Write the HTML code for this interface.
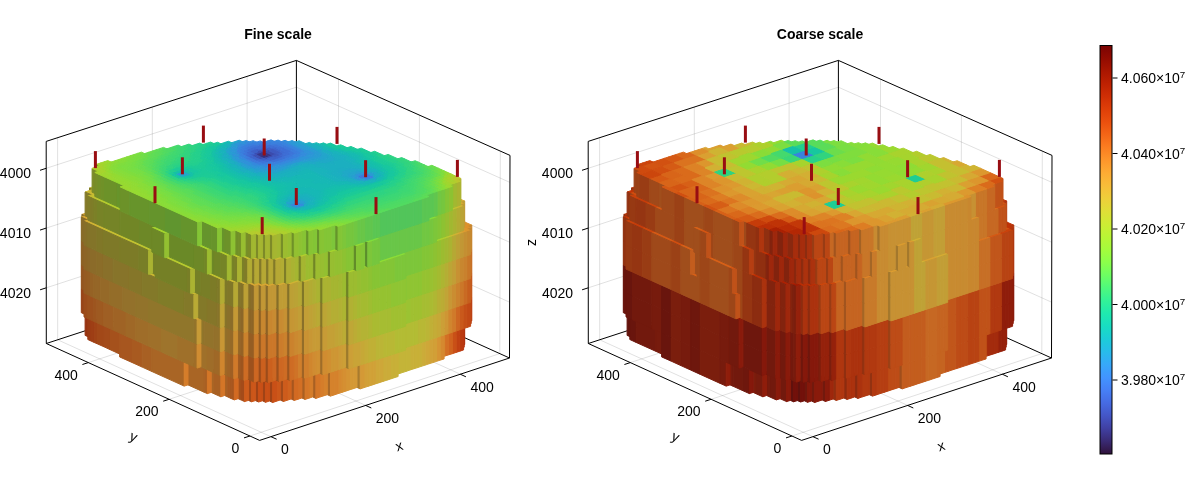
<!DOCTYPE html>
<html><head><meta charset="utf-8"><title>Fine scale / Coarse scale</title>
<style>html,body{margin:0;padding:0;background:#fff}svg{display:block}</style></head>
<body>
<svg width="1200" height="500" viewBox="0 0 1200 500" font-family="&quot;Liberation Sans&quot;, sans-serif" font-size="14" fill="#000">
<rect width="1200" height="500" fill="#fff"/>
<line x1="271" y1="436.7" x2="57.7" y2="339.8" stroke="#000" stroke-width="1" stroke-opacity="0.12"/>
<line x1="57.7" y1="339.8" x2="57.6" y2="137.7" stroke="#000" stroke-width="1" stroke-opacity="0.12"/>
<line x1="365.6" y1="405.4" x2="152.4" y2="308.8" stroke="#000" stroke-width="1" stroke-opacity="0.12"/>
<line x1="152.4" y1="308.8" x2="152.3" y2="107" stroke="#000" stroke-width="1" stroke-opacity="0.12"/>
<line x1="460.3" y1="374.2" x2="247.1" y2="277.8" stroke="#000" stroke-width="1" stroke-opacity="0.12"/>
<line x1="247.1" y1="277.8" x2="247.1" y2="76.4" stroke="#000" stroke-width="1" stroke-opacity="0.12"/>
<line x1="249.9" y1="436" x2="499.8" y2="353.6" stroke="#000" stroke-width="1" stroke-opacity="0.12"/>
<line x1="499.8" y1="353.6" x2="500.3" y2="151.1" stroke="#000" stroke-width="1" stroke-opacity="0.12"/>
<line x1="169.1" y1="399.3" x2="419.1" y2="317.1" stroke="#000" stroke-width="1" stroke-opacity="0.12"/>
<line x1="419.1" y1="317.1" x2="419.4" y2="115.1" stroke="#000" stroke-width="1" stroke-opacity="0.12"/>
<line x1="88.3" y1="362.6" x2="338.4" y2="280.7" stroke="#000" stroke-width="1" stroke-opacity="0.12"/>
<line x1="338.4" y1="280.7" x2="338.5" y2="79.1" stroke="#000" stroke-width="1" stroke-opacity="0.12"/>
<line x1="46.2" y1="168.3" x2="296.4" y2="87.2" stroke="#000" stroke-width="1" stroke-opacity="0.12"/>
<line x1="296.4" y1="87.2" x2="509.9" y2="182.4" stroke="#000" stroke-width="1" stroke-opacity="0.12"/>
<line x1="46.2" y1="228.1" x2="296.4" y2="146.7" stroke="#000" stroke-width="1" stroke-opacity="0.12"/>
<line x1="296.4" y1="146.7" x2="509.8" y2="242.3" stroke="#000" stroke-width="1" stroke-opacity="0.12"/>
<line x1="46.3" y1="287.8" x2="296.4" y2="206.2" stroke="#000" stroke-width="1" stroke-opacity="0.12"/>
<line x1="296.4" y1="206.2" x2="509.6" y2="302.2" stroke="#000" stroke-width="1" stroke-opacity="0.12"/>
<polyline points="46.3,343.5 46.2,141.4 296.4,60.4 510,155.4 509.5,358" fill="none" stroke="#000" stroke-width="1" stroke-linejoin="miter"/>
<polyline points="296.4,60.4 296.4,261.7" fill="none" stroke="#000" stroke-width="1" stroke-linejoin="miter"/>
<polyline points="46.3,343.5 296.4,261.7 509.5,358" fill="none" stroke="#000" stroke-width="1" stroke-linejoin="miter"/>
<g fill="currentColor" stroke="currentColor" stroke-width="1" stroke-linejoin="round">
<path d="M460.9,321.9 464.7,320.6 464.7,344.5 460.9,345.8z" color="#b0300e"/>
<path d="M460.4,324.6 464.2,323.3 464.2,347.2 460.4,348.5z" color="#b0300e"/>
<path d="M459.8,327.3 463.6,326 463.6,349.9 459.8,351.2z" color="#ba3910"/>
<path d="M456.1,328.5 459.8,327.3 459.8,351.2 456.1,352.4z" color="#c04112"/>
<path d="M452.3,329.8 456.1,328.5 456.1,352.4 452.3,353.7z" color="#c95017"/>
<path d="M448.5,331 452.3,329.8 452.3,353.7 448.5,354.9z" color="#d0631f"/>
<path d="M444.7,332.2 448.5,331 448.5,354.9 444.7,356.1z" color="#d36f24"/>
<path d="M440.9,333.5 444.7,332.2 444.7,356.1 440.9,357.4z" color="#d5822c"/>
<path d="M440.3,336.2 444.1,335 444.1,358.9 440.3,360.1z" color="#d5892f"/>
<path d="M436.6,337.4 440.3,336.2 440.3,360.1 436.6,361.3z" color="#d59434"/>
<path d="M432.8,338.7 436.6,337.4 436.6,361.3 432.8,362.6z" color="#d29f37"/>
<path d="M429,339.9 432.8,338.7 432.8,362.6 429,363.8z" color="#d1a238"/>
<path d="M425.2,341.2 429,339.9 429,363.8 425.2,365.1z" color="#cea739"/>
<path d="M421.4,342.4 425.2,341.2 425.2,365.1 421.4,366.3z" color="#cbac39"/>
<path d="M417.6,343.7 421.4,342.4 421.4,366.3 417.6,367.6z" color="#c8b038"/>
<path d="M413.8,344.9 417.6,343.7 417.6,367.6 413.8,368.8z" color="#c8b038"/>
<path d="M410,346.1 413.8,344.9 413.8,368.8 410,370z" color="#c8b038"/>
<path d="M406.3,347.4 410,346.1 410,370 406.3,371.3z" color="#c4b438"/>
<path d="M402.5,348.6 406.3,347.4 406.3,371.3 402.5,372.5z" color="#c4b438"/>
<path d="M398.7,349.9 402.5,348.6 402.5,372.5 398.7,373.8z" color="#c4b438"/>
<path d="M394.9,351.1 398.7,349.9 398.7,373.8 394.9,375z" color="#c4b438"/>
<path d="M394.3,353.8 398.1,352.6 398.1,376.5 394.3,377.7z" color="#c8b038"/>
<path d="M390.5,355.1 394.3,353.8 394.3,377.7 390.5,379z" color="#c8b038"/>
<path d="M386.8,356.3 390.5,355.1 390.5,379 386.8,380.2z" color="#cbac39"/>
<path d="M383,357.5 386.8,356.3 386.8,380.2 383,381.4z" color="#cbac39"/>
<path d="M379.2,358.8 383,357.5 383,381.4 379.2,382.7z" color="#cea739"/>
<path d="M375.4,360 379.2,358.8 379.2,382.7 375.4,383.9z" color="#cea739"/>
<path d="M371.6,361.3 375.4,360 375.4,383.9 371.6,385.2z" color="#d1a238"/>
<path d="M367.8,362.5 371.6,361.3 371.6,385.2 367.8,386.4z" color="#d1a238"/>
<path d="M364,363.8 367.8,362.5 367.8,386.4 364,387.6z" color="#d29f37"/>
<path d="M360.2,365 357,363.5 357,387.4 360.2,388.9z" color="#a87b2e"/>
<path d="M360.2,365 364,363.8 364,387.6 360.2,388.9z" color="#d49936"/>
<path d="M353.2,364.8 357,363.5 357,387.4 353.2,388.7z" color="#d49936"/>
<path d="M349.4,366 353.2,364.8 353.2,388.7 349.4,389.9z" color="#d49936"/>
<path d="M345.6,367.3 349.4,366 349.4,389.9 345.6,391.2z" color="#d59434"/>
<path d="M341.9,368.5 345.6,367.3 345.6,391.2 341.9,392.4z" color="#d58f32"/>
<path d="M338.1,369.7 341.9,368.5 341.9,392.4 338.1,393.6z" color="#d5892f"/>
<path d="M334.3,371 338.1,369.7 338.1,393.6 334.3,394.9z" color="#d5822c"/>
<path d="M330.5,372.2 327.3,370.8 327.3,394.7 330.5,396.1z" color="#a96927"/>
<path d="M330.5,372.2 334.3,371 334.3,394.9 330.5,396.1z" color="#d5822c"/>
<path d="M323.5,372 327.3,370.8 327.3,394.7 323.5,395.9z" color="#d5822c"/>
<path d="M319.7,373.2 323.5,372 323.5,395.9 319.7,397.1z" color="#d57d2a"/>
<path d="M315.9,374.5 312.7,373 312.7,396.9 315.9,398.4z" color="#a86023"/>
<path d="M315.9,374.5 319.7,373.2 319.7,397.1 315.9,398.4z" color="#d47627"/>
<path d="M308.9,374.3 312.7,373 312.7,396.9 308.9,398.2z" color="#d57d2a"/>
<path d="M305.1,375.5 301.9,374.1 301.9,398 305.1,399.4z" color="#a86023"/>
<path d="M305.1,375.5 308.9,374.3 308.9,398.2 305.1,399.4z" color="#d47627"/>
<path d="M298.1,375.3 301.9,374.1 301.9,398 298.1,399.2z" color="#d36f24"/>
<path d="M294.3,376.5 291.1,375.1 291.1,399 294.3,400.4z" color="#a7561f"/>
<path d="M294.3,376.5 298.1,375.3 298.1,399.2 294.3,400.4z" color="#d26a22"/>
<path d="M287.3,376.3 291.1,375.1 291.1,399 287.3,400.2z" color="#d0631f"/>
<path d="M283.5,377.6 280.2,376.1 280.2,400 283.5,401.5z" color="#a34b1a"/>
<path d="M283.5,377.6 287.3,376.3 287.3,400.2 283.5,401.5z" color="#cd5c1c"/>
<path d="M276.5,377.3 280.2,376.1 280.2,400 276.5,401.2z" color="#cc571a"/>
<path d="M272.7,378.6 269.4,377.1 269.4,401 272.7,402.5z" color="#a04316"/>
<path d="M272.7,378.6 276.5,377.3 276.5,401.2 272.7,402.5z" color="#c95017"/>
<path d="M265.6,378.4 262.4,376.9 262.4,400.8 265.6,402.3z" color="#a04316"/>
<path d="M265.6,378.4 269.4,377.1 269.4,401 265.6,402.3z" color="#c95017"/>
<path d="M258.6,378.1 255.4,376.7 255.4,400.6 258.6,402z" color="#a04316"/>
<path d="M258.6,378.1 262.4,376.9 262.4,400.8 258.6,402z" color="#c95017"/>
<path d="M251.6,377.9 248.4,376.5 248.4,400.4 251.6,401.8z" color="#a24818"/>
<path d="M251.6,377.9 255.4,376.7 255.4,400.6 251.6,401.8z" color="#cc571a"/>
<path d="M92.7,309 89.5,307.5 89.5,331.4 92.7,332.9z" color="#9c3b14"/>
<path d="M241.4,376.2 238.1,374.8 238.1,398.7 241.4,400.1z" color="#a5511c"/>
<path d="M244.6,377.7 241.4,376.2 241.4,400.1 244.6,401.6z" color="#a34b1a"/>
<path d="M244.6,377.7 248.4,376.5 248.4,400.4 244.6,401.6z" color="#cd5c1c"/>
<path d="M227.9,373.1 224.6,371.6 224.6,395.5 227.9,397z" color="#a86023"/>
<path d="M231.1,374.6 227.9,373.1 227.9,397 231.1,398.5z" color="#a85a20"/>
<path d="M234.3,376 231.1,374.6 231.1,398.5 234.3,399.9z" color="#a7561f"/>
<path d="M234.3,376 238.1,374.8 238.1,398.7 234.3,399.9z" color="#d26a22"/>
<path d="M88.3,312.9 85.1,311.5 85.1,335.4 88.3,336.8z" color="#963311"/>
<path d="M91.6,314.4 88.3,312.9 88.3,336.8 91.6,338.3z" color="#993712"/>
<path d="M214.4,370 211.2,368.5 211.2,392.4 214.4,393.9z" color="#a96525"/>
<path d="M220.9,372.9 214.4,370 214.4,393.9 220.9,396.8z" color="#a86023"/>
<path d="M220.9,372.9 224.6,371.6 224.6,395.5 220.9,396.8z" color="#d47627"/>
<path d="M91,317.1 87.8,315.6 87.8,339.5 91,341z" color="#9c3b14"/>
<path d="M94.3,318.6 91,317.1 91,341 94.3,342.5z" color="#9e3e15"/>
<path d="M97.5,320 94.3,318.6 94.3,342.5 97.5,343.9z" color="#a04316"/>
<path d="M104,322.9 97.5,320 97.5,343.9 104,346.8z" color="#a24818"/>
<path d="M110.4,325.9 104,322.9 104,346.8 110.4,349.8z" color="#a34b1a"/>
<path d="M120.1,330.3 110.4,325.9 110.4,349.8 120.1,354.2z" color="#a5511c"/>
<path d="M123.3,331.7 120.1,330.3 120.1,354.2 123.3,355.6z" color="#a7561f"/>
<path d="M204.1,368.3 188,361 188,384.9 204.1,392.2z" color="#a96525"/>
<path d="M207.4,369.7 204.1,368.3 204.1,392.2 207.4,393.6z" color="#a86023"/>
<path d="M207.4,369.7 211.2,368.5 211.2,392.4 207.4,393.6z" color="#d47627"/>
<path d="M132.5,338.8 119.6,333 119.6,356.9 132.5,362.7z" color="#a7561f"/>
<path d="M142.2,343.2 132.5,338.8 132.5,362.7 142.2,367.1z" color="#a85a20"/>
<path d="M151.9,347.6 142.2,343.2 142.2,367.1 151.9,371.5z" color="#a86023"/>
<path d="M184.2,362.2 151.9,347.6 151.9,371.5 184.2,386.1z" color="#a96525"/>
<path d="M184.2,362.2 188,361 188,384.9 184.2,386.1z" color="#d57d2a"/>
<path d="M468,298.2 471.8,296.9 471.8,320.8 468,322.1z" color="#bc4012"/>
<path d="M467.4,300.9 471.2,299.7 471.2,323.6 467.4,324.8z" color="#bc4012"/>
<path d="M466.9,303.6 470.6,302.4 470.6,326.3 466.9,327.5z" color="#c14915"/>
<path d="M463.1,304.8 466.9,303.6 466.9,327.5 463.1,328.7z" color="#c44f17"/>
<path d="M459.3,306.1 463.1,304.8 463.1,328.7 459.3,330z" color="#c9591c"/>
<path d="M455.5,307.3 459.3,306.1 459.3,330 455.5,331.2z" color="#cd6722"/>
<path d="M451.7,308.6 455.5,307.3 455.5,331.2 451.7,332.5z" color="#d07a2a"/>
<path d="M447.9,309.8 451.7,308.6 451.7,332.5 447.9,333.7z" color="#d0862e"/>
<path d="M444.1,311.1 447.9,309.8 447.9,333.7 444.1,335z" color="#ce9634"/>
<path d="M440.3,312.3 444.1,311.1 444.1,335 440.3,336.2z" color="#cc9f37"/>
<path d="M436.6,313.5 440.3,312.3 440.3,336.2 436.6,337.4z" color="#c6a837"/>
<path d="M432.8,314.8 436.6,313.5 436.6,337.4 432.8,338.7z" color="#c4ac37"/>
<path d="M429,316 432.8,314.8 432.8,338.7 429,339.9z" color="#c0b036"/>
<path d="M425.2,317.3 429,316 429,339.9 425.2,341.2z" color="#bbb536"/>
<path d="M421.4,318.5 425.2,317.3 425.2,341.2 421.4,342.4z" color="#b8b835"/>
<path d="M417.6,319.8 421.4,318.5 421.4,342.4 417.6,343.7z" color="#b8b835"/>
<path d="M413.8,321 417.6,319.8 417.6,343.7 413.8,344.9z" color="#b3bc34"/>
<path d="M410,322.2 413.8,321 413.8,344.9 410,346.1z" color="#b3bc34"/>
<path d="M406.3,323.5 410,322.2 410,346.1 406.3,347.4z" color="#b3bc34"/>
<path d="M402.5,324.7 406.3,323.5 406.3,347.4 402.5,348.6z" color="#b3bc34"/>
<path d="M401.9,327.4 405.7,326.2 405.7,350.1 401.9,351.3z" color="#b3bc34"/>
<path d="M398.1,328.7 401.9,327.4 401.9,351.3 398.1,352.6z" color="#b3bc34"/>
<path d="M394.3,329.9 398.1,328.7 398.1,352.6 394.3,353.8z" color="#b3bc34"/>
<path d="M390.5,331.2 394.3,329.9 394.3,353.8 390.5,355.1z" color="#b8b835"/>
<path d="M386.8,332.4 390.5,331.2 390.5,355.1 386.8,356.3z" color="#b8b835"/>
<path d="M383,333.6 386.8,332.4 386.8,356.3 383,357.5z" color="#b8b835"/>
<path d="M379.2,334.9 383,333.6 383,357.5 379.2,358.8z" color="#bbb536"/>
<path d="M375.4,336.1 379.2,334.9 379.2,358.8 375.4,360z" color="#bbb536"/>
<path d="M371.6,337.4 375.4,336.1 375.4,360 371.6,361.3z" color="#c0b036"/>
<path d="M367.8,338.6 371.6,337.4 371.6,361.3 367.8,362.5z" color="#c0b036"/>
<path d="M364,339.9 367.8,338.6 367.8,362.5 364,363.8z" color="#c4ac37"/>
<path d="M360.2,341.1 364,339.9 364,363.8 360.2,365z" color="#c6a837"/>
<path d="M356.5,342.3 360.2,341.1 360.2,365 356.5,366.2z" color="#c9a437"/>
<path d="M352.7,343.6 356.5,342.3 356.5,366.2 352.7,367.5z" color="#c9a437"/>
<path d="M348.9,344.8 345.6,343.4 345.6,367.3 348.9,368.7z" color="#9c7a2d"/>
<path d="M348.9,344.8 352.7,343.6 352.7,367.5 348.9,368.7z" color="#cc9f37"/>
<path d="M341.9,344.6 345.6,343.4 345.6,367.3 341.9,368.5z" color="#cc9f37"/>
<path d="M338.1,345.8 341.9,344.6 341.9,368.5 338.1,369.7z" color="#cd9b36"/>
<path d="M334.3,347.1 338.1,345.8 338.1,369.7 334.3,371z" color="#ce9634"/>
<path d="M330.5,348.3 334.3,347.1 334.3,371 330.5,372.2z" color="#ce9634"/>
<path d="M326.7,349.6 330.5,348.3 330.5,372.2 326.7,373.5z" color="#d09032"/>
<path d="M322.9,350.8 319.7,349.4 319.7,373.2 322.9,374.7z" color="#9f6d29"/>
<path d="M322.9,350.8 326.7,349.6 326.7,373.5 322.9,374.7z" color="#d08c31"/>
<path d="M315.9,350.6 319.7,349.4 319.7,373.2 315.9,374.5z" color="#d09032"/>
<path d="M312.1,351.8 315.9,350.6 315.9,374.5 312.1,375.7z" color="#d08c31"/>
<path d="M308.3,353.1 312.1,351.8 312.1,375.7 308.3,377z" color="#d0862e"/>
<path d="M304.5,354.3 301.3,352.9 301.3,376.8 304.5,378.2z" color="#9f6325"/>
<path d="M304.5,354.3 308.3,353.1 308.3,377 304.5,378.2z" color="#d07f2c"/>
<path d="M297.5,354.1 301.3,352.9 301.3,376.8 297.5,378z" color="#d07f2c"/>
<path d="M293.7,355.3 297.5,354.1 297.5,378 293.7,379.2z" color="#cf7327"/>
<path d="M289.9,356.6 286.7,355.1 286.7,379 289.9,380.5z" color="#9d551f"/>
<path d="M289.9,356.6 293.7,355.3 293.7,379.2 289.9,380.5z" color="#ce6c24"/>
<path d="M282.9,356.4 286.7,355.1 286.7,379 282.9,380.3z" color="#ce6c24"/>
<path d="M279.1,357.6 275.9,356.1 275.9,380 279.1,381.5z" color="#9d511d"/>
<path d="M279.1,357.6 282.9,356.4 282.9,380.3 279.1,381.5z" color="#cd6722"/>
<path d="M272.1,357.4 275.9,356.1 275.9,380 272.1,381.3z" color="#cd6722"/>
<path d="M268.3,358.6 265.1,357.2 265.1,381.1 268.3,382.5z" color="#9b4c1b"/>
<path d="M268.3,358.6 272.1,357.4 272.1,381.3 268.3,382.5z" color="#cb601e"/>
<path d="M261.3,358.4 258.1,356.9 258.1,380.8 261.3,382.3z" color="#9b4c1b"/>
<path d="M261.3,358.4 265.1,357.2 265.1,381.1 261.3,382.3z" color="#cb601e"/>
<path d="M89.5,283.6 86.2,282.2 86.2,306.1 89.5,307.5z" color="#9a4719"/>
<path d="M254.3,358.2 247.8,355.3 247.8,379.2 254.3,382.1z" color="#9d511d"/>
<path d="M254.3,358.2 258.1,356.9 258.1,380.8 254.3,382.1z" color="#cd6722"/>
<path d="M240.8,355 237.6,353.6 237.6,377.5 240.8,378.9z" color="#9e5a21"/>
<path d="M244,356.5 240.8,355 240.8,378.9 244,380.4z" color="#9d551f"/>
<path d="M244,356.5 247.8,355.3 247.8,379.2 244,380.4z" color="#ce6c24"/>
<path d="M85.1,287.6 81.9,286.1 81.9,310 85.1,311.5z" color="#984418"/>
<path d="M227.3,351.9 224.1,350.4 224.1,374.3 227.3,375.8z" color="#9f6827"/>
<path d="M230.6,353.4 227.3,351.9 227.3,375.8 230.6,377.3z" color="#9f6325"/>
<path d="M233.8,354.8 230.6,353.4 230.6,377.3 233.8,378.7z" color="#9f5f24"/>
<path d="M233.8,354.8 237.6,353.6 237.6,377.5 233.8,378.7z" color="#d07a2a"/>
<path d="M84.6,290.3 81.3,288.8 81.3,312.7 84.6,314.2z" color="#984418"/>
<path d="M87.8,291.7 84.6,290.3 84.6,314.2 87.8,315.6z" color="#9a4719"/>
<path d="M207.4,345.8 200.9,342.9 200.9,366.8 207.4,369.7z" color="#9f702a"/>
<path d="M213.8,348.8 207.4,345.8 207.4,369.7 213.8,372.7z" color="#9f6d29"/>
<path d="M220.3,351.7 213.8,348.8 213.8,372.7 220.3,375.6z" color="#9f6827"/>
<path d="M220.3,351.7 224.1,350.4 224.1,374.3 220.3,375.6z" color="#d0862e"/>
<path d="M87.2,294.4 84,293 84,316.9 87.2,318.3z" color="#9b4c1b"/>
<path d="M93.7,297.4 87.2,294.4 87.2,318.3 93.7,321.3z" color="#9d511d"/>
<path d="M96.9,298.8 93.7,297.4 93.7,321.3 96.9,322.7z" color="#9d551f"/>
<path d="M103.4,301.8 96.9,298.8 96.9,322.7 103.4,325.7z" color="#9e5a21"/>
<path d="M113.1,306.1 103.4,301.8 103.4,325.7 113.1,330z" color="#9f5f24"/>
<path d="M126,312 113.1,306.1 113.1,330 126,335.9z" color="#9f6325"/>
<path d="M135.7,316.4 126,312 126,335.9 135.7,340.3z" color="#9f6827"/>
<path d="M148.6,322.2 135.7,316.4 135.7,340.3 148.6,346.1z" color="#9f6d29"/>
<path d="M161.6,328.1 148.6,322.2 148.6,346.1 161.6,352z" color="#9f702a"/>
<path d="M177.7,335.4 161.6,328.1 161.6,352 177.7,359.3z" color="#9e742c"/>
<path d="M193.9,342.7 177.7,335.4 177.7,359.3 193.9,366.6z" color="#9f702a"/>
<path d="M197.1,344.2 193.9,342.7 193.9,366.6 197.1,368.1z" color="#9f6d29"/>
<path d="M197.1,344.2 200.9,342.9 200.9,366.8 197.1,368.1z" color="#d08c31"/>
<path d="M468,274.3 471.8,273 471.8,296.9 468,298.2z" color="#c4571b"/>
<path d="M467.4,277 471.2,275.8 471.2,299.7 467.4,300.9z" color="#c4571b"/>
<path d="M466.9,279.7 470.6,278.5 470.6,302.4 466.9,303.6z" color="#c65e1e"/>
<path d="M463.1,280.9 466.9,279.7 466.9,303.6 463.1,304.8z" color="#c96a23"/>
<path d="M459.3,282.2 463.1,280.9 463.1,304.8 459.3,306.1z" color="#cb7729"/>
<path d="M455.5,283.4 459.3,282.2 459.3,306.1 455.5,307.3z" color="#cb822d"/>
<path d="M451.7,284.7 455.5,283.4 455.5,307.3 451.7,308.6z" color="#ca8d31"/>
<path d="M447.9,285.9 451.7,284.7 451.7,308.6 447.9,309.8z" color="#c89735"/>
<path d="M444.1,287.2 447.9,285.9 447.9,309.8 444.1,311.1z" color="#c1a436"/>
<path d="M440.3,288.4 444.1,287.2 444.1,311.1 440.3,312.3z" color="#bbac35"/>
<path d="M436.6,289.6 440.3,288.4 440.3,312.3 436.6,313.5z" color="#b7b034"/>
<path d="M432.8,290.9 436.6,289.6 436.6,313.5 432.8,314.8z" color="#afb733"/>
<path d="M429,292.1 432.8,290.9 432.8,314.8 429,316z" color="#aabb32"/>
<path d="M425.2,293.4 429,292.1 429,316 425.2,317.3z" color="#a6bd32"/>
<path d="M421.4,294.6 425.2,293.4 425.2,317.3 421.4,318.5z" color="#a6bd32"/>
<path d="M417.6,295.9 421.4,294.6 421.4,318.5 417.6,319.8z" color="#a0c031"/>
<path d="M413.8,297.1 417.6,295.9 417.6,319.8 413.8,321z" color="#a0c031"/>
<path d="M410,298.3 413.8,297.1 413.8,321 410,322.2z" color="#a0c031"/>
<path d="M406.3,299.6 410,298.3 410,322.2 406.3,323.5z" color="#9bc332"/>
<path d="M402.5,300.8 406.3,299.6 406.3,323.5 402.5,324.7z" color="#9bc332"/>
<path d="M401.9,303.5 405.7,302.3 405.7,326.2 401.9,327.4z" color="#a0c031"/>
<path d="M398.1,304.8 401.9,303.5 401.9,327.4 398.1,328.7z" color="#a0c031"/>
<path d="M394.3,306 398.1,304.8 398.1,328.7 394.3,329.9z" color="#a0c031"/>
<path d="M390.5,307.3 394.3,306 394.3,329.9 390.5,331.2z" color="#a0c031"/>
<path d="M386.8,308.5 390.5,307.3 390.5,331.2 386.8,332.4z" color="#a6bd32"/>
<path d="M383,309.7 386.8,308.5 386.8,332.4 383,333.6z" color="#a6bd32"/>
<path d="M379.2,311 383,309.7 383,333.6 379.2,334.9z" color="#a6bd32"/>
<path d="M375.4,312.2 379.2,311 379.2,334.9 375.4,336.1z" color="#aabb32"/>
<path d="M371.6,313.5 375.4,312.2 375.4,336.1 371.6,337.4z" color="#aabb32"/>
<path d="M367.8,314.7 371.6,313.5 371.6,337.4 367.8,338.6z" color="#afb733"/>
<path d="M364,316 367.8,314.7 367.8,338.6 364,339.9z" color="#b4b334"/>
<path d="M360.2,317.2 364,316 364,339.9 360.2,341.1z" color="#b4b334"/>
<path d="M356.5,318.4 360.2,317.2 360.2,341.1 356.5,342.3z" color="#b7b034"/>
<path d="M352.7,319.7 356.5,318.4 356.5,342.3 352.7,343.6z" color="#bbac35"/>
<path d="M348.9,320.9 345.6,319.5 345.6,343.4 348.9,344.8z" color="#8c7c2b"/>
<path d="M348.9,320.9 352.7,319.7 352.7,343.6 348.9,344.8z" color="#bfa736"/>
<path d="M341.9,320.7 345.6,319.5 345.6,343.4 341.9,344.6z" color="#bbac35"/>
<path d="M338.1,321.9 341.9,320.7 341.9,344.6 338.1,345.8z" color="#bfa736"/>
<path d="M334.3,323.2 338.1,321.9 338.1,345.8 334.3,347.1z" color="#c1a436"/>
<path d="M330.5,324.4 334.3,323.2 334.3,347.1 330.5,348.3z" color="#c4a036"/>
<path d="M326.7,325.7 330.5,324.4 330.5,348.3 326.7,349.6z" color="#c4a036"/>
<path d="M322.9,326.9 319.7,325.5 319.7,349.4 322.9,350.8z" color="#92732b"/>
<path d="M322.9,326.9 326.7,325.7 326.7,349.6 322.9,350.8z" color="#c79b36"/>
<path d="M315.9,326.7 319.7,325.5 319.7,349.4 315.9,350.6z" color="#c79b36"/>
<path d="M312.1,327.9 315.9,326.7 315.9,350.6 312.1,351.8z" color="#c79b36"/>
<path d="M308.3,329.2 312.1,327.9 312.1,351.8 308.3,353.1z" color="#c89735"/>
<path d="M304.5,330.4 301.3,329 301.3,352.9 304.5,354.3z" color="#946d29"/>
<path d="M304.5,330.4 308.3,329.2 308.3,353.1 304.5,354.3z" color="#c99233"/>
<path d="M297.5,330.2 301.3,329 301.3,352.9 297.5,354.1z" color="#ca8d31"/>
<path d="M293.7,331.4 297.5,330.2 297.5,354.1 293.7,355.3z" color="#cb8930"/>
<path d="M289.9,332.7 286.7,331.2 286.7,355.1 289.9,356.6z" color="#956225"/>
<path d="M289.9,332.7 293.7,331.4 293.7,355.3 289.9,356.6z" color="#cb822d"/>
<path d="M282.9,332.5 286.7,331.2 286.7,355.1 282.9,356.4z" color="#cb822d"/>
<path d="M279.1,333.7 275.9,332.2 275.9,356.1 279.1,357.6z" color="#955d23"/>
<path d="M279.1,333.7 282.9,332.5 282.9,356.4 279.1,357.6z" color="#cb7c2b"/>
<path d="M272.1,333.5 275.9,332.2 275.9,356.1 272.1,357.4z" color="#cb7729"/>
<path d="M268.3,334.7 265.1,333.3 265.1,357.2 268.3,358.6z" color="#955a22"/>
<path d="M268.3,334.7 272.1,333.5 272.1,357.4 268.3,358.6z" color="#cb7729"/>
<path d="M261.3,334.5 258.1,333 258.1,356.9 261.3,358.4z" color="#955a22"/>
<path d="M261.3,334.5 265.1,333.3 265.1,357.2 261.3,358.4z" color="#cb7729"/>
<path d="M89.5,259.7 86.2,258.3 86.2,282.2 89.5,283.6z" color="#955a22"/>
<path d="M254.3,334.3 247.8,331.4 247.8,355.3 254.3,358.2z" color="#955d23"/>
<path d="M254.3,334.3 258.1,333 258.1,356.9 254.3,358.2z" color="#cb7c2b"/>
<path d="M240.8,331.1 237.6,329.7 237.6,353.6 240.8,355z" color="#956627"/>
<path d="M244,332.6 240.8,331.1 240.8,355 244,356.5z" color="#956225"/>
<path d="M244,332.6 247.8,331.4 247.8,355.3 244,356.5z" color="#cb822d"/>
<path d="M85.1,263.7 81.9,262.2 81.9,286.1 85.1,287.6z" color="#945520"/>
<path d="M227.3,328 224.1,326.5 224.1,350.4 227.3,351.9z" color="#93712b"/>
<path d="M230.6,329.5 227.3,328 227.3,351.9 230.6,353.4z" color="#946d29"/>
<path d="M233.8,330.9 230.6,329.5 230.6,353.4 233.8,354.8z" color="#956928"/>
<path d="M233.8,330.9 237.6,329.7 237.6,353.6 233.8,354.8z" color="#ca8d31"/>
<path d="M87.8,267.8 81.3,264.9 81.3,288.8 87.8,291.7z" color="#945520"/>
<path d="M204.1,320.5 200.9,319 200.9,342.9 204.1,344.4z" color="#90762b"/>
<path d="M213.8,324.9 204.1,320.5 204.1,344.4 213.8,348.8z" color="#92732b"/>
<path d="M220.3,327.8 213.8,324.9 213.8,348.8 220.3,351.7z" color="#93712b"/>
<path d="M220.3,327.8 224.1,326.5 224.1,350.4 220.3,351.7z" color="#c89735"/>
<path d="M197.1,320.3 200.9,319 197.7,317.5 193.9,318.8z" color="#d8a632"/>
<path d="M87.2,270.5 84,269.1 84,293 87.2,294.4z" color="#955a22"/>
<path d="M90.5,272 87.2,270.5 87.2,294.4 90.5,295.9z" color="#955d23"/>
<path d="M93.7,273.5 90.5,272 90.5,295.9 93.7,297.4z" color="#956225"/>
<path d="M100.2,276.4 93.7,273.5 93.7,297.4 100.2,300.3z" color="#956627"/>
<path d="M109.9,280.8 100.2,276.4 100.2,300.3 109.9,304.7z" color="#956928"/>
<path d="M122.8,286.6 109.9,280.8 109.9,304.7 122.8,310.5z" color="#946d29"/>
<path d="M135.7,292.5 122.8,286.6 122.8,310.5 135.7,316.4z" color="#93712b"/>
<path d="M148.6,298.3 135.7,292.5 135.7,316.4 148.6,322.2z" color="#92732b"/>
<path d="M193.9,318.8 148.6,298.3 148.6,322.2 193.9,342.7z" color="#90762b"/>
<path d="M197.1,320.3 193.9,318.8 193.9,342.7 197.1,344.2z" color="#92732b"/>
<path d="M197.1,320.3 200.9,319 200.9,342.9 197.1,344.2z" color="#c79b36"/>
<path d="M468,250.4 471.8,249.1 471.8,273 468,274.3z" color="#c76f26"/>
<path d="M467.4,253.1 471.2,251.9 471.2,275.8 467.4,277z" color="#c76f26"/>
<path d="M466.9,255.8 470.6,254.6 470.6,278.5 466.9,279.7z" color="#c87628"/>
<path d="M463.1,257 466.9,255.8 466.9,279.7 463.1,280.9z" color="#c9812d"/>
<path d="M459.3,258.3 463.1,257 463.1,280.9 459.3,282.2z" color="#c8872f"/>
<path d="M455.5,259.5 459.3,258.3 459.3,282.2 455.5,283.4z" color="#c79133"/>
<path d="M451.7,260.8 455.5,259.5 455.5,283.4 451.7,284.7z" color="#c29e36"/>
<path d="M447.9,262 451.7,260.8 451.7,284.7 447.9,285.9z" color="#bca535"/>
<path d="M444.1,263.3 447.9,262 447.9,285.9 444.1,287.2z" color="#b4ae34"/>
<path d="M440.3,264.5 444.1,263.3 444.1,287.2 440.3,288.4z" color="#adb532"/>
<path d="M436.6,265.7 440.3,264.5 440.3,288.4 436.6,289.6z" color="#a4bb31"/>
<path d="M432.8,267 436.6,265.7 436.6,289.6 432.8,290.9z" color="#9ebe31"/>
<path d="M429,268.2 432.8,267 432.8,290.9 429,292.1z" color="#99c131"/>
<path d="M425.2,269.5 429,268.2 429,292.1 425.2,293.4z" color="#95c231"/>
<path d="M421.4,270.7 425.2,269.5 425.2,293.4 421.4,294.6z" color="#95c231"/>
<path d="M417.6,272 421.4,270.7 421.4,294.6 417.6,295.9z" color="#8fc533"/>
<path d="M413.8,273.2 417.6,272 417.6,295.9 413.8,297.1z" color="#8fc533"/>
<path d="M410,274.4 413.8,273.2 413.8,297.1 410,298.3z" color="#8fc533"/>
<path d="M406.3,275.7 410,274.4 410,298.3 406.3,299.6z" color="#8fc533"/>
<path d="M402.5,276.9 406.3,275.7 406.3,299.6 402.5,300.8z" color="#89c635"/>
<path d="M401.9,279.6 405.7,278.4 405.7,302.3 401.9,303.5z" color="#8fc533"/>
<path d="M398.1,280.9 401.9,279.6 401.9,303.5 398.1,304.8z" color="#8fc533"/>
<path d="M394.3,282.1 398.1,280.9 398.1,304.8 394.3,306z" color="#8fc533"/>
<path d="M390.5,283.4 394.3,282.1 394.3,306 390.5,307.3z" color="#8fc533"/>
<path d="M386.8,284.6 390.5,283.4 390.5,307.3 386.8,308.5z" color="#95c231"/>
<path d="M383,285.8 386.8,284.6 386.8,308.5 383,309.7z" color="#95c231"/>
<path d="M379.2,287.1 383,285.8 383,309.7 379.2,311z" color="#95c231"/>
<path d="M375.4,288.3 379.2,287.1 379.2,311 375.4,312.2z" color="#99c131"/>
<path d="M371.6,289.6 375.4,288.3 375.4,312.2 371.6,313.5z" color="#99c131"/>
<path d="M367.8,290.8 371.6,289.6 371.6,313.5 367.8,314.7z" color="#9ebe31"/>
<path d="M364,292.1 367.8,290.8 367.8,314.7 364,316z" color="#a4bb31"/>
<path d="M360.2,293.3 364,292.1 364,316 360.2,317.2z" color="#a4bb31"/>
<path d="M356.5,294.5 360.2,293.3 360.2,317.2 356.5,318.4z" color="#a7b932"/>
<path d="M352.7,295.8 356.5,294.5 356.5,318.4 352.7,319.7z" color="#adb532"/>
<path d="M348.9,297 345.6,295.6 345.6,319.5 348.9,320.9z" color="#7e7d28"/>
<path d="M348.9,297 352.7,295.8 352.7,319.7 348.9,320.9z" color="#b1b133"/>
<path d="M341.9,296.8 345.6,295.6 345.6,319.5 341.9,320.7z" color="#adb532"/>
<path d="M338.1,298 341.9,296.8 341.9,320.7 338.1,321.9z" color="#b1b133"/>
<path d="M334.3,299.3 338.1,298 338.1,321.9 334.3,323.2z" color="#b4ae34"/>
<path d="M330.5,300.5 334.3,299.3 334.3,323.2 330.5,324.4z" color="#b4ae34"/>
<path d="M326.7,301.8 330.5,300.5 330.5,324.4 326.7,325.7z" color="#b9aa35"/>
<path d="M322.9,303 319.7,301.6 319.7,325.5 322.9,326.9z" color="#857629"/>
<path d="M322.9,303 326.7,301.8 326.7,325.7 322.9,326.9z" color="#bca535"/>
<path d="M315.9,302.8 319.7,301.6 319.7,325.5 315.9,326.7z" color="#b9aa35"/>
<path d="M312.1,304 315.9,302.8 315.9,326.7 312.1,327.9z" color="#bca535"/>
<path d="M308.3,305.3 312.1,304 312.1,327.9 308.3,329.2z" color="#bfa236"/>
<path d="M304.5,306.5 301.3,305.1 301.3,329 304.5,330.4z" color="#89702a"/>
<path d="M304.5,306.5 308.3,305.3 308.3,329.2 304.5,330.4z" color="#c29e36"/>
<path d="M297.5,306.3 301.3,305.1 301.3,329 297.5,330.2z" color="#c29e36"/>
<path d="M293.7,307.5 297.5,306.3 297.5,330.2 293.7,331.4z" color="#c49935"/>
<path d="M289.9,308.8 286.7,307.3 286.7,331.2 289.9,332.7z" color="#8b6b29"/>
<path d="M289.9,308.8 293.7,307.5 293.7,331.4 289.9,332.7z" color="#c59634"/>
<path d="M282.9,308.6 286.7,307.3 286.7,331.2 282.9,332.5z" color="#c79133"/>
<path d="M279.1,309.8 275.9,308.3 275.9,332.2 279.1,333.7z" color="#8d6426"/>
<path d="M279.1,309.8 282.9,308.6 282.9,332.5 279.1,333.7z" color="#c88b31"/>
<path d="M272.1,309.6 275.9,308.3 275.9,332.2 272.1,333.5z" color="#c88b31"/>
<path d="M268.3,310.8 265.1,309.4 265.1,333.3 268.3,334.7z" color="#8d6125"/>
<path d="M268.3,310.8 272.1,309.6 272.1,333.5 268.3,334.7z" color="#c8872f"/>
<path d="M261.3,310.6 258.1,309.1 258.1,333 261.3,334.5z" color="#8d6125"/>
<path d="M261.3,310.6 265.1,309.4 265.1,333.3 261.3,334.5z" color="#c8872f"/>
<path d="M89.5,235.8 86.2,234.4 86.2,258.3 89.5,259.7z" color="#8d6426"/>
<path d="M251.1,308.9 247.8,307.5 247.8,331.4 251.1,332.8z" color="#8c6728"/>
<path d="M254.3,310.4 251.1,308.9 251.1,332.8 254.3,334.3z" color="#8d6426"/>
<path d="M254.3,310.4 258.1,309.1 258.1,333 254.3,334.3z" color="#c88b31"/>
<path d="M240.8,307.2 237.6,305.8 237.6,329.7 240.8,331.1z" color="#8b6d29"/>
<path d="M244,308.7 240.8,307.2 240.8,331.1 244,332.6z" color="#8c6728"/>
<path d="M244,308.7 247.8,307.5 247.8,331.4 244,332.6z" color="#c79133"/>
<path d="M85.1,239.8 81.9,238.3 81.9,262.2 85.1,263.7z" color="#8d6125"/>
<path d="M227.3,304.1 224.1,302.6 224.1,326.5 227.3,328z" color="#87742a"/>
<path d="M230.6,305.6 227.3,304.1 227.3,328 230.6,329.5z" color="#89702a"/>
<path d="M233.8,307 230.6,305.6 230.6,329.5 233.8,330.9z" color="#8b6d29"/>
<path d="M233.8,307 237.6,305.8 237.6,329.7 233.8,330.9z" color="#c49935"/>
<path d="M87.8,243.9 81.3,241 81.3,264.9 87.8,267.8z" color="#8d6125"/>
<path d="M207.4,298 197.7,293.6 197.7,317.5 207.4,321.9z" color="#837929"/>
<path d="M217.1,302.4 207.4,298 207.4,321.9 217.1,326.3z" color="#857629"/>
<path d="M220.3,303.9 217.1,302.4 217.1,326.3 220.3,327.8z" color="#87742a"/>
<path d="M220.3,303.9 224.1,302.6 224.1,326.5 220.3,327.8z" color="#bfa236"/>
<path d="M155.1,277.3 158.9,276.1 152.4,273.2 148.6,274.4z" color="#cbb932"/>
<path d="M193.9,294.9 197.7,293.6 194.4,292.2 190.7,293.4z" color="#cbb932"/>
<path d="M87.2,246.6 84,245.2 84,269.1 87.2,270.5z" color="#8d6426"/>
<path d="M90.5,248.1 87.2,246.6 87.2,270.5 90.5,272z" color="#8c6728"/>
<path d="M96.9,251 90.5,248.1 90.5,272 96.9,274.9z" color="#8b6b29"/>
<path d="M103.4,254 96.9,251 96.9,274.9 103.4,277.9z" color="#8b6d29"/>
<path d="M113.1,258.3 103.4,254 103.4,277.9 113.1,282.2z" color="#89702a"/>
<path d="M129.3,265.6 113.1,258.3 113.1,282.2 129.3,289.5z" color="#87742a"/>
<path d="M142.2,271.5 129.3,265.6 129.3,289.5 142.2,295.4z" color="#857629"/>
<path d="M158.3,278.8 142.2,271.5 142.2,295.4 158.3,302.7z" color="#837929"/>
<path d="M184.2,290.5 158.3,278.8 158.3,302.7 184.2,314.4z" color="#807c28"/>
<path d="M193.9,294.9 184.2,290.5 184.2,314.4 193.9,318.8z" color="#837929"/>
<path d="M193.9,294.9 197.7,293.6 197.7,317.5 193.9,318.8z" color="#b9aa35"/>
<path d="M445.3,216.3 449.1,215 445.9,213.6 442.1,214.8z" color="#b7ca2e"/>
<path d="M448.6,217.7 452.4,216.5 449.1,215 445.3,216.3z" color="#c2c230"/>
<path d="M451.8,219.2 455.6,217.9 452.4,216.5 448.6,217.7z" color="#cbb932"/>
<path d="M455,220.6 458.8,219.4 455.6,217.9 451.8,219.2z" color="#d2b133"/>
<path d="M458.3,222.1 462.1,220.9 458.8,219.4 455,220.6z" color="#d8a632"/>
<path d="M461.5,223.6 465.3,222.3 462.1,220.9 458.3,222.1z" color="#db9c2f"/>
<path d="M468,226.5 471.8,225.2 465.3,222.3 461.5,223.6z" color="#dd912b"/>
<path d="M468,226.5 471.8,225.2 471.8,249.1 468,250.4z" color="#c6852f"/>
<path d="M431.9,213.1 435.7,211.9 432.4,210.4 428.6,211.7z" color="#9ad92f"/>
<path d="M435.1,214.6 438.9,213.3 435.7,211.9 431.9,213.1z" color="#a1d62e"/>
<path d="M438.3,216 442.1,214.8 438.9,213.3 435.1,214.6z" color="#acd12d"/>
<path d="M467.4,229.2 471.2,228 464.7,225 460.9,226.3z" color="#dd912b"/>
<path d="M467.4,229.2 471.2,228 471.2,251.9 467.4,253.1z" color="#c6852f"/>
<path d="M421.6,211.4 425.4,210.2 418.9,207.3 415.1,208.5z" color="#88dd38"/>
<path d="M466.9,231.9 470.6,230.7 464.2,227.7 460.4,229z" color="#dc962d"/>
<path d="M466.9,231.9 470.6,230.7 470.6,254.6 466.9,255.8z" color="#c58930"/>
<path d="M408.1,208.3 411.9,207 405.5,204.1 401.7,205.4z" color="#70de49"/>
<path d="M463.1,233.1 466.9,231.9 463.6,230.4 459.8,231.7z" color="#db9c2f"/>
<path d="M463.1,233.1 466.9,231.9 466.9,255.8 463.1,257z" color="#c48f32"/>
<path d="M394.6,205.1 398.4,203.9 392,201 388.2,202.2z" color="#5fdd56"/>
<path d="M459.3,234.4 463.1,233.1 459.8,231.7 456.1,232.9z" color="#d8a632"/>
<path d="M459.3,234.4 463.1,233.1 463.1,257 459.3,258.3z" color="#c29735"/>
<path d="M381.2,202 384.9,200.8 378.5,197.8 374.7,199.1z" color="#55db5e"/>
<path d="M455.5,235.6 459.3,234.4 456.1,232.9 452.3,234.2z" color="#d2b133"/>
<path d="M455.5,235.6 459.3,234.4 459.3,258.3 455.5,259.5z" color="#bca035"/>
<path d="M367.7,198.9 371.5,197.6 368.2,196.2 364.4,197.4z" color="#4ada67"/>
<path d="M451.7,236.9 455.5,235.6 452.3,234.2 448.5,235.4z" color="#cbb932"/>
<path d="M451.7,236.9 455.5,235.6 455.5,259.5 451.7,260.8z" color="#b6a834"/>
<path d="M354.2,195.7 358,194.5 354.8,193 351,194.2z" color="#44d96d"/>
<path d="M447.9,238.1 451.7,236.9 448.5,235.4 444.7,236.7z" color="#bdc62f"/>
<path d="M447.9,238.1 451.7,236.9 451.7,260.8 447.9,262z" color="#aab332"/>
<path d="M343.9,194 347.7,192.8 344.5,191.3 340.7,192.6z" color="#4ada67"/>
<path d="M444.1,239.4 447.9,238.1 444.7,236.7 440.9,237.9z" color="#b3cd2d"/>
<path d="M444.1,239.4 447.9,238.1 447.9,262 444.1,263.3z" color="#a2b831"/>
<path d="M333.7,192.3 337.5,191.1 334.2,189.6 330.5,190.9z" color="#44d96d"/>
<path d="M440.3,240.6 444.1,239.4 440.9,237.9 437.1,239.1z" color="#acd12d"/>
<path d="M440.3,240.6 444.1,239.4 444.1,263.3 440.3,264.5z" color="#9cbc30"/>
<path d="M326.7,192.1 330.5,190.9 327.2,189.4 323.4,190.7z" color="#31d47e"/>
<path d="M436.6,241.8 440.3,240.6 437.1,239.1 433.3,240.4z" color="#a1d62e"/>
<path d="M436.6,241.8 440.3,240.6 440.3,264.5 436.6,265.7z" color="#93c031"/>
<path d="M319.7,191.9 323.4,190.7 320.2,189.2 316.4,190.4z" color="#24d08c"/>
<path d="M432.8,243.1 436.6,241.8 436.6,265.7 432.8,267z" color="#8dc232"/>
<path d="M429,244.3 432.8,243.1 432.8,267 429,268.2z" color="#87c434"/>
<path d="M302.4,190 306.2,188.8 302.9,187.3 299.1,188.5z" color="#15c3a5"/>
<path d="M425.2,245.6 429,244.3 429,268.2 425.2,269.5z" color="#83c536"/>
<path d="M295.4,189.8 299.1,188.5 295.9,187.1 292.1,188.3z" color="#15bbb0"/>
<path d="M421.4,246.8 425.2,245.6 425.2,269.5 421.4,270.7z" color="#83c536"/>
<path d="M288.3,189.6 292.1,188.3 288.9,186.9 285.1,188.1z" color="#19b3bc"/>
<path d="M417.6,248.1 421.4,246.8 421.4,270.7 417.6,272z" color="#7dc63a"/>
<path d="M281.3,189.3 285.1,188.1 281.9,186.6 278.1,187.9z" color="#1cadc2"/>
<path d="M413.8,249.3 417.6,248.1 417.6,272 413.8,273.2z" color="#7dc63a"/>
<path d="M274.3,189.1 278.1,187.9 274.9,186.4 271.1,187.7z" color="#20a7c9"/>
<path d="M410,250.5 413.8,249.3 413.8,273.2 410,274.4z" color="#7dc63a"/>
<path d="M267.3,188.9 271.1,187.7 267.8,186.2 264.1,187.4z" color="#20a7c9"/>
<path d="M406.3,251.8 410,250.5 410,274.4 406.3,275.7z" color="#7dc63a"/>
<path d="M402.5,253 406.3,251.8 406.3,275.7 402.5,276.9z" color="#7dc63a"/>
<path d="M401.9,255.7 405.7,254.5 402.5,253 398.7,254.3z" color="#88dd38"/>
<path d="M401.9,255.7 405.7,254.5 405.7,278.4 401.9,279.6z" color="#7dc63a"/>
<path d="M249.5,189.7 253.2,188.5 250,187 246.2,188.2z" color="#1cadc2"/>
<path d="M398.1,257 401.9,255.7 398.7,254.3 394.9,255.5z" color="#88dd38"/>
<path d="M398.1,257 401.9,255.7 401.9,279.6 398.1,280.9z" color="#7dc63a"/>
<path d="M242.4,189.5 246.2,188.2 243,186.8 239.2,188z" color="#17b6b7"/>
<path d="M394.3,258.2 398.1,257 394.9,255.5 391.1,256.7z" color="#88dd38"/>
<path d="M394.3,258.2 398.1,257 398.1,280.9 394.3,282.1z" color="#7dc63a"/>
<path d="M390.5,259.5 394.3,258.2 391.1,256.7 387.3,258z" color="#8fdc34"/>
<path d="M390.5,259.5 394.3,258.2 394.3,282.1 390.5,283.4z" color="#83c536"/>
<path d="M386.8,260.7 390.5,259.5 387.3,258 383.5,259.2z" color="#8fdc34"/>
<path d="M386.8,260.7 390.5,259.5 390.5,283.4 386.8,284.6z" color="#83c536"/>
<path d="M224.6,190.3 228.4,189.1 225.2,187.6 221.4,188.8z" color="#2cd384"/>
<path d="M383,261.9 386.8,260.7 383.5,259.2 379.7,260.5z" color="#8fdc34"/>
<path d="M383,261.9 386.8,260.7 386.8,284.6 383,285.8z" color="#83c536"/>
<path d="M379.2,263.2 383,261.9 379.7,260.5 375.9,261.7z" color="#8fdc34"/>
<path d="M379.2,263.2 383,261.9 383,285.8 379.2,287.1z" color="#83c536"/>
<path d="M213.8,191.3 217.6,190.1 214.4,188.6 210.6,189.9z" color="#4ada67"/>
<path d="M375.4,264.4 379.2,263.2 379.2,287.1 375.4,288.3z" color="#87c434"/>
<path d="M206.8,191.1 210.6,189.9 207.3,188.4 203.5,189.6z" color="#55db5e"/>
<path d="M371.6,265.7 375.4,264.4 375.4,288.3 371.6,289.6z" color="#87c434"/>
<path d="M367.8,266.9 371.6,265.7 371.6,289.6 367.8,290.8z" color="#8dc232"/>
<path d="M196,192.1 199.8,190.9 196.5,189.4 192.7,190.7z" color="#66dd50"/>
<path d="M364,268.2 367.8,266.9 364.6,265.4 360.8,266.7z" color="#a1d62e"/>
<path d="M364,268.2 367.8,266.9 367.8,290.8 364,292.1z" color="#93c031"/>
<path d="M360.2,269.4 364,268.2 364,292.1 360.2,293.3z" color="#93c031"/>
<path d="M185.2,193.1 189,191.9 185.7,190.4 181.9,191.7z" color="#79de42"/>
<path d="M356.5,270.6 360.2,269.4 360.2,293.3 356.5,294.5z" color="#97be31"/>
<path d="M352.7,271.9 356.5,270.6 353.2,269.2 349.4,270.4z" color="#acd12d"/>
<path d="M352.7,271.9 356.5,270.6 356.5,294.5 352.7,295.8z" color="#9cbc30"/>
<path d="M174.4,194.2 178.1,192.9 174.9,191.5 171.1,192.7z" color="#7fdd3d"/>
<path d="M348.9,273.1 352.7,271.9 349.4,270.4 345.6,271.7z" color="#acd12d"/>
<path d="M348.9,273.1 345.6,271.7 345.6,295.6 348.9,297z" color="#6f8426"/>
<path d="M348.9,273.1 352.7,271.9 352.7,295.8 348.9,297z" color="#9cbc30"/>
<path d="M341.9,272.9 345.6,271.7 345.6,295.6 341.9,296.8z" color="#9cbc30"/>
<path d="M338.1,274.1 341.9,272.9 341.9,296.8 338.1,298z" color="#a2b831"/>
<path d="M159.8,196.4 163.6,195.2 160.3,193.7 156.5,195z" color="#93db32"/>
<path d="M334.3,275.4 338.1,274.1 338.1,298 334.3,299.3z" color="#a5b631"/>
<path d="M156,197.7 159.8,196.4 156.5,195 152.7,196.2z" color="#9ad92f"/>
<path d="M330.5,276.6 334.3,275.4 334.3,299.3 330.5,300.5z" color="#a5b631"/>
<path d="M326.7,277.9 330.5,276.6 327.3,275.2 323.5,276.4z" color="#bdc62f"/>
<path d="M326.7,277.9 330.5,276.6 330.5,300.5 326.7,301.8z" color="#aab332"/>
<path d="M322.9,279.1 326.7,277.9 323.5,276.4 319.7,277.7z" color="#bdc62f"/>
<path d="M322.9,279.1 319.7,277.7 319.7,301.6 322.9,303z" color="#787e27"/>
<path d="M322.9,279.1 326.7,277.9 326.7,301.8 322.9,303z" color="#aab332"/>
<path d="M141.4,199.9 145.2,198.7 141.9,197.2 138.1,198.5z" color="#a6d42d"/>
<path d="M315.9,278.9 319.7,277.7 319.7,301.6 315.9,302.8z" color="#aab332"/>
<path d="M137.6,201.2 141.4,199.9 138.1,198.5 134.4,199.7z" color="#acd12d"/>
<path d="M312.1,280.1 315.9,278.9 312.7,277.4 308.9,278.7z" color="#c2c230"/>
<path d="M312.1,280.1 315.9,278.9 315.9,302.8 312.1,304z" color="#afaf33"/>
<path d="M308.3,281.4 312.1,280.1 308.9,278.7 305.1,279.9z" color="#c6be31"/>
<path d="M308.3,281.4 312.1,280.1 312.1,304 308.3,305.3z" color="#b2ac33"/>
<path d="M304.5,282.6 308.3,281.4 305.1,279.9 301.3,281.2z" color="#cbb932"/>
<path d="M304.5,282.6 301.3,281.2 301.3,305.1 304.5,306.5z" color="#807728"/>
<path d="M304.5,282.6 308.3,281.4 308.3,305.3 304.5,306.5z" color="#b6a834"/>
<path d="M123,203.4 126.8,202.2 123.6,200.7 119.8,202z" color="#b7ca2e"/>
<path d="M297.5,282.4 301.3,281.2 298.1,279.7 294.3,280.9z" color="#cbb932"/>
<path d="M297.5,282.4 301.3,281.2 301.3,305.1 297.5,306.3z" color="#b6a834"/>
<path d="M119.2,204.7 123,203.4 119.8,202 116,203.2z" color="#bdc62f"/>
<path d="M293.7,283.6 297.5,282.4 294.3,280.9 290.5,282.2z" color="#cfb432"/>
<path d="M293.7,283.6 297.5,282.4 297.5,306.3 293.7,307.5z" color="#baa335"/>
<path d="M115.4,205.9 119.2,204.7 116,203.2 112.2,204.5z" color="#c2c230"/>
<path d="M289.9,284.9 293.7,283.6 290.5,282.2 286.7,283.4z" color="#d2b133"/>
<path d="M289.9,284.9 286.7,283.4 286.7,307.3 289.9,308.8z" color="#847229"/>
<path d="M289.9,284.9 293.7,283.6 293.7,307.5 289.9,308.8z" color="#bca035"/>
<path d="M111.6,207.2 115.4,205.9 112.2,204.5 108.4,205.7z" color="#c2c230"/>
<path d="M282.9,284.7 286.7,283.4 283.5,282 279.7,283.2z" color="#d5ab33"/>
<path d="M282.9,284.7 286.7,283.4 286.7,307.3 282.9,308.6z" color="#bf9c35"/>
<path d="M104.6,207 108.4,205.7 105.2,204.2 101.4,205.5z" color="#cbb932"/>
<path d="M279.1,285.9 282.9,284.7 279.7,283.2 275.9,284.4z" color="#d5ab33"/>
<path d="M279.1,285.9 275.9,284.4 275.9,308.3 279.1,309.8z" color="#866e29"/>
<path d="M279.1,285.9 282.9,284.7 282.9,308.6 279.1,309.8z" color="#bf9c35"/>
<path d="M100.8,208.2 104.6,207 101.4,205.5 97.6,206.7z" color="#cfb432"/>
<path d="M272.1,285.7 275.9,284.4 272.7,283 268.9,284.2z" color="#d8a632"/>
<path d="M272.1,285.7 275.9,284.4 275.9,308.3 272.1,309.6z" color="#c29735"/>
<path d="M97,209.4 100.8,208.2 97.6,206.7 93.8,208z" color="#cfb432"/>
<path d="M268.3,286.9 272.1,285.7 265.6,282.8 261.9,284z" color="#d8a632"/>
<path d="M268.3,286.9 265.1,285.5 265.1,309.4 268.3,310.8z" color="#886b29"/>
<path d="M268.3,286.9 272.1,285.7 272.1,309.6 268.3,310.8z" color="#c29735"/>
<path d="M93.2,210.7 97,209.4 93.8,208 90,209.2z" color="#d2b133"/>
<path d="M261.3,286.7 265.1,285.5 258.6,282.5 254.8,283.8z" color="#d8a632"/>
<path d="M261.3,286.7 258.1,285.2 258.1,309.1 261.3,310.6z" color="#886b29"/>
<path d="M261.3,286.7 265.1,285.5 265.1,309.4 261.3,310.6z" color="#c29735"/>
<path d="M89.5,211.9 93.2,210.7 90,209.2 86.2,210.5z" color="#d5ab33"/>
<path d="M251.1,285 254.8,283.8 251.6,282.3 247.8,283.6z" color="#d5ab33"/>
<path d="M254.3,286.5 258.1,285.2 254.8,283.8 251.1,285z" color="#d8a632"/>
<path d="M89.5,211.9 86.2,210.5 86.2,234.4 89.5,235.8z" color="#866e29"/>
<path d="M251.1,285 247.8,283.6 247.8,307.5 251.1,308.9z" color="#866e29"/>
<path d="M254.3,286.5 251.1,285 251.1,308.9 254.3,310.4z" color="#886b29"/>
<path d="M254.3,286.5 258.1,285.2 258.1,309.1 254.3,310.4z" color="#c29735"/>
<path d="M88.9,214.6 92.7,213.4 89.5,211.9 85.7,213.2z" color="#d8a632"/>
<path d="M240.8,283.3 244.6,282.1 241.4,280.6 237.6,281.9z" color="#cfb432"/>
<path d="M244,284.8 247.8,283.6 244.6,282.1 240.8,283.3z" color="#d2b133"/>
<path d="M240.8,283.3 237.6,281.9 237.6,305.8 240.8,307.2z" color="#837429"/>
<path d="M244,284.8 240.8,283.3 240.8,307.2 244,308.7z" color="#847229"/>
<path d="M244,284.8 247.8,283.6 247.8,307.5 244,308.7z" color="#bca035"/>
<path d="M85.1,215.9 88.9,214.6 85.7,213.2 81.9,214.4z" color="#d8a632"/>
<path d="M233.8,283.1 237.6,281.9 231.1,279 227.3,280.2z" color="#cbb932"/>
<path d="M85.1,215.9 81.9,214.4 81.9,238.3 85.1,239.8z" color="#886b29"/>
<path d="M227.3,280.2 224.1,278.7 224.1,302.6 227.3,304.1z" color="#7e7928"/>
<path d="M233.8,283.1 227.3,280.2 227.3,304.1 233.8,307z" color="#807728"/>
<path d="M233.8,283.1 237.6,281.9 237.6,305.8 233.8,307z" color="#b6a834"/>
<path d="M87.8,220 91.6,218.8 85.1,215.9 81.3,217.1z" color="#d8a632"/>
<path d="M210.6,275.6 214.4,274.4 211.2,272.9 207.4,274.1z" color="#bdc62f"/>
<path d="M217.1,278.5 220.9,277.3 214.4,274.4 210.6,275.6z" color="#c2c230"/>
<path d="M220.3,280 224.1,278.7 220.9,277.3 217.1,278.5z" color="#c6be31"/>
<path d="M87.8,220 81.3,217.1 81.3,241 87.8,243.9z" color="#886b29"/>
<path d="M158.9,252.2 152.4,249.3 152.4,273.2 158.9,276.1z" color="#758026"/>
<path d="M200.9,271.2 194.4,268.3 194.4,292.2 200.9,295.1z" color="#758026"/>
<path d="M210.6,275.6 200.9,271.2 200.9,295.1 210.6,299.5z" color="#787e27"/>
<path d="M217.1,278.5 210.6,275.6 210.6,299.5 217.1,302.4z" color="#7c7b27"/>
<path d="M220.3,280 217.1,278.5 217.1,302.4 220.3,303.9z" color="#7e7928"/>
<path d="M220.3,280 224.1,278.7 224.1,302.6 220.3,303.9z" color="#b2ac33"/>
<path d="M87.2,222.7 91,221.5 87.8,220 84,221.3z" color="#d5ab33"/>
<path d="M90.5,224.2 94.3,223 91,221.5 87.2,222.7z" color="#d2b133"/>
<path d="M96.9,227.1 100.7,225.9 94.3,223 90.5,224.2z" color="#cfb432"/>
<path d="M103.4,230.1 107.2,228.8 100.7,225.9 96.9,227.1z" color="#cbb932"/>
<path d="M119.6,237.4 123.3,236.1 107.2,228.8 103.4,230.1z" color="#c6be31"/>
<path d="M138.9,246.1 142.7,244.9 123.3,236.1 119.6,237.4z" color="#c2c230"/>
<path d="M148.6,250.5 152.4,249.3 142.7,244.9 138.9,246.1z" color="#bdc62f"/>
<path d="M187.4,268.1 191.2,266.8 168.6,256.6 164.8,257.8z" color="#b7ca2e"/>
<path d="M190.7,269.5 194.4,268.3 191.2,266.8 187.4,268.1z" color="#bdc62f"/>
<path d="M87.2,222.7 84,221.3 84,245.2 87.2,246.6z" color="#866e29"/>
<path d="M90.5,224.2 87.2,222.7 87.2,246.6 90.5,248.1z" color="#847229"/>
<path d="M96.9,227.1 90.5,224.2 90.5,248.1 96.9,251z" color="#837429"/>
<path d="M103.4,230.1 96.9,227.1 96.9,251 103.4,254z" color="#807728"/>
<path d="M119.6,237.4 103.4,230.1 103.4,254 119.6,261.3z" color="#7e7928"/>
<path d="M138.9,246.1 119.6,237.4 119.6,261.3 138.9,270z" color="#7c7b27"/>
<path d="M148.6,250.5 138.9,246.1 138.9,270 148.6,274.4z" color="#787e27"/>
<path d="M187.4,268.1 155.1,253.4 155.1,277.3 187.4,292z" color="#758026"/>
<path d="M190.7,269.5 187.4,268.1 187.4,292 190.7,293.4z" color="#787e27"/>
<path d="M148.6,250.5 152.4,249.3 152.4,273.2 148.6,274.4z" color="#aab332"/>
<path d="M190.7,269.5 194.4,268.3 194.4,292.2 190.7,293.4z" color="#aab332"/>
<path d="M441.6,193.6 445.3,192.4 442.1,190.9 438.3,192.1z" color="#9ad92f"/>
<path d="M444.8,195.1 448.6,193.8 445.3,192.4 441.6,193.6z" color="#a6d42d"/>
<path d="M448,196.5 451.8,195.3 448.6,193.8 444.8,195.1z" color="#acd12d"/>
<path d="M451.3,198 455,196.7 451.8,195.3 448,196.5z" color="#bdc62f"/>
<path d="M454.5,199.4 458.3,198.2 455,196.7 451.3,198z" color="#c6be31"/>
<path d="M457.7,200.9 461.5,199.7 458.3,198.2 454.5,199.4z" color="#cfb432"/>
<path d="M460.9,202.4 464.7,201.1 461.5,199.7 457.7,200.9z" color="#d5ab33"/>
<path d="M460.9,202.4 464.7,201.1 464.7,225 460.9,226.3z" color="#bf9c35"/>
<path d="M424.8,189 428.6,187.8 425.4,186.3 421.6,187.5z" color="#79de42"/>
<path d="M428.1,190.5 431.9,189.2 428.6,187.8 424.8,189z" color="#7fdd3d"/>
<path d="M460.4,205.1 464.2,203.8 460.9,202.4 457.2,203.6z" color="#d5ab33"/>
<path d="M460.4,205.1 464.2,203.8 464.2,227.7 460.4,229z" color="#bf9c35"/>
<path d="M411.4,185.8 415.1,184.6 411.9,183.1 408.1,184.4z" color="#5fdd56"/>
<path d="M459.8,207.8 463.6,206.5 460.4,205.1 456.6,206.3z" color="#cfb432"/>
<path d="M459.8,207.8 463.6,206.5 463.6,230.4 459.8,231.7z" color="#baa335"/>
<path d="M397.9,182.7 401.7,181.5 398.4,180 394.6,181.2z" color="#4ada67"/>
<path d="M456.1,209 459.8,207.8 456.6,206.3 452.8,207.6z" color="#c6be31"/>
<path d="M456.1,209 459.8,207.8 459.8,231.7 456.1,232.9z" color="#b2ac33"/>
<path d="M384.4,179.6 388.2,178.3 384.9,176.9 381.2,178.1z" color="#3ad776"/>
<path d="M452.3,210.3 456.1,209 452.8,207.6 449,208.8z" color="#bdc62f"/>
<path d="M452.3,210.3 456.1,209 456.1,232.9 452.3,234.2z" color="#aab332"/>
<path d="M370.9,176.4 374.7,175.2 371.5,173.7 367.7,175z" color="#31d47e"/>
<path d="M448.5,211.5 452.3,210.3 452.3,234.2 448.5,235.4z" color="#a2b831"/>
<path d="M357.4,173.3 361.2,172 358,170.6 354.2,171.8z" color="#2cd384"/>
<path d="M444.7,212.8 448.5,211.5 448.5,235.4 444.7,236.7z" color="#97be31"/>
<path d="M347.2,171.6 351,170.3 347.7,168.9 343.9,170.1z" color="#2cd384"/>
<path d="M440.9,214 444.7,212.8 444.7,236.7 440.9,237.9z" color="#8dc232"/>
<path d="M336.9,169.9 340.7,168.7 337.5,167.2 333.7,168.4z" color="#2cd384"/>
<path d="M437.1,215.2 440.9,214 440.9,237.9 437.1,239.1z" color="#83c536"/>
<path d="M433.3,216.5 437.1,215.2 437.1,239.1 433.3,240.4z" color="#7dc63a"/>
<path d="M432.8,219.2 436.6,217.9 433.3,216.5 429.5,217.7z" color="#88dd38"/>
<path d="M432.8,219.2 436.6,217.9 436.6,241.8 432.8,243.1z" color="#7dc63a"/>
<path d="M312.6,167.8 316.4,166.5 313.2,165.1 309.4,166.3z" color="#15c3a5"/>
<path d="M429,220.4 432.8,219.2 429.5,217.7 425.7,219z" color="#7fdd3d"/>
<path d="M429,220.4 432.8,219.2 432.8,243.1 429,244.3z" color="#76c63e"/>
<path d="M305.6,167.6 309.4,166.3 306.2,164.9 302.4,166.1z" color="#15bbb0"/>
<path d="M425.2,221.7 429,220.4 429,244.3 425.2,245.6z" color="#71c742"/>
<path d="M421.4,222.9 425.2,221.7 425.2,245.6 421.4,246.8z" color="#71c742"/>
<path d="M417.6,224.2 421.4,222.9 421.4,246.8 417.6,248.1z" color="#69c648"/>
<path d="M413.8,225.4 417.6,224.2 417.6,248.1 413.8,249.3z" color="#69c648"/>
<path d="M410,226.6 413.8,225.4 413.8,249.3 410,250.5z" color="#69c648"/>
<path d="M406.3,227.9 410,226.6 410,250.5 406.3,251.8z" color="#69c648"/>
<path d="M263.5,166.3 267.3,165 264.1,163.5 260.3,164.8z" color="#2c97d7"/>
<path d="M402.5,229.1 406.3,227.9 406.3,251.8 402.5,253z" color="#69c648"/>
<path d="M256.5,166 260.3,164.8 257,163.3 253.2,164.6z" color="#289dd2"/>
<path d="M398.7,230.4 402.5,229.1 402.5,253 398.7,254.3z" color="#69c648"/>
<path d="M394.9,231.6 398.7,230.4 398.7,254.3 394.9,255.5z" color="#69c648"/>
<path d="M391.1,232.8 394.9,231.6 394.9,255.5 391.1,256.7z" color="#69c648"/>
<path d="M387.3,234.1 391.1,232.8 391.1,256.7 387.3,258z" color="#69c648"/>
<path d="M231.6,166.6 235.4,165.4 232.2,163.9 228.4,165.2z" color="#15c0a9"/>
<path d="M383.5,235.3 387.3,234.1 387.3,258 383.5,259.2z" color="#69c648"/>
<path d="M379.7,236.6 383.5,235.3 383.5,259.2 379.7,260.5z" color="#69c648"/>
<path d="M220.8,167.6 224.6,166.4 221.4,164.9 217.6,166.2z" color="#24d08c"/>
<path d="M375.9,237.8 379.7,236.6 379.7,260.5 375.9,261.7z" color="#71c742"/>
<path d="M375.4,240.5 379.2,239.3 375.9,237.8 372.2,239.1z" color="#7fdd3d"/>
<path d="M375.4,240.5 379.2,239.3 379.2,263.2 375.4,264.4z" color="#76c63e"/>
<path d="M371.6,241.8 375.4,240.5 372.2,239.1 368.4,240.3z" color="#7fdd3d"/>
<path d="M371.6,241.8 375.4,240.5 375.4,264.4 371.6,265.7z" color="#76c63e"/>
<path d="M203,168.4 206.8,167.2 203.5,165.7 199.8,167z" color="#44d96d"/>
<path d="M367.8,243 371.6,241.8 368.4,240.3 364.6,241.5z" color="#88dd38"/>
<path d="M367.8,243 364.6,241.5 364.6,265.4 367.8,266.9z" color="#5b8d2d"/>
<path d="M367.8,243 371.6,241.8 371.6,265.7 367.8,266.9z" color="#7dc63a"/>
<path d="M360.8,242.8 364.6,241.5 364.6,265.4 360.8,266.7z" color="#7dc63a"/>
<path d="M192.2,169.5 196,168.2 192.7,166.8 189,168z" color="#4ada67"/>
<path d="M360.2,245.5 364,244.3 360.8,242.8 357,244z" color="#8fdc34"/>
<path d="M360.2,245.5 364,244.3 364,268.2 360.2,269.4z" color="#83c536"/>
<path d="M356.5,246.7 360.2,245.5 357,244 353.2,245.3z" color="#93db32"/>
<path d="M356.5,246.7 353.2,245.3 353.2,269.2 356.5,270.6z" color="#628c29"/>
<path d="M356.5,246.7 360.2,245.5 360.2,269.4 356.5,270.6z" color="#87c434"/>
<path d="M181.4,170.5 185.2,169.2 181.9,167.8 178.1,169z" color="#5fdd56"/>
<path d="M349.4,246.5 353.2,245.3 353.2,269.2 349.4,270.4z" color="#87c434"/>
<path d="M345.6,247.8 349.4,246.5 349.4,270.4 345.6,271.7z" color="#87c434"/>
<path d="M170.6,171.5 174.4,170.3 171.1,168.8 167.3,170z" color="#70de49"/>
<path d="M341.9,249 345.6,247.8 345.6,271.7 341.9,272.9z" color="#8dc232"/>
<path d="M166.8,172.8 170.6,171.5 167.3,170 163.6,171.3z" color="#70de49"/>
<path d="M338.1,250.2 341.9,249 341.9,272.9 338.1,274.1z" color="#93c031"/>
<path d="M334.3,251.5 338.1,250.2 334.8,248.8 331.1,250z" color="#a1d62e"/>
<path d="M334.3,251.5 338.1,250.2 338.1,274.1 334.3,275.4z" color="#93c031"/>
<path d="M330.5,252.7 334.3,251.5 331.1,250 327.3,251.3z" color="#a6d42d"/>
<path d="M330.5,252.7 327.3,251.3 327.3,275.2 330.5,276.6z" color="#6d8827"/>
<path d="M330.5,252.7 334.3,251.5 334.3,275.4 330.5,276.6z" color="#97be31"/>
<path d="M152.2,175 156,173.8 152.7,172.3 149,173.6z" color="#88dd38"/>
<path d="M323.5,252.5 327.3,251.3 327.3,275.2 323.5,276.4z" color="#93c031"/>
<path d="M148.4,176.3 152.2,175 149,173.6 145.2,174.8z" color="#88dd38"/>
<path d="M319.7,253.8 323.5,252.5 323.5,276.4 319.7,277.7z" color="#97be31"/>
<path d="M144.6,177.5 148.4,176.3 145.2,174.8 141.4,176z" color="#8fdc34"/>
<path d="M315.9,255 319.7,253.8 316.5,252.3 312.7,253.5z" color="#acd12d"/>
<path d="M315.9,255 312.7,253.5 312.7,277.4 315.9,278.9z" color="#718626"/>
<path d="M315.9,255 319.7,253.8 319.7,277.7 315.9,278.9z" color="#9cbc30"/>
<path d="M308.9,254.8 312.7,253.5 312.7,277.4 308.9,278.7z" color="#9cbc30"/>
<path d="M133.8,178.5 137.6,177.3 134.4,175.8 130.6,177.1z" color="#9ad92f"/>
<path d="M305.1,256 308.9,254.8 305.6,253.3 301.9,254.6z" color="#acd12d"/>
<path d="M305.1,256 308.9,254.8 308.9,278.7 305.1,279.9z" color="#9cbc30"/>
<path d="M130,179.8 133.8,178.5 130.6,177.1 126.8,178.3z" color="#9ad92f"/>
<path d="M301.3,257.3 305.1,256 301.9,254.6 298.1,255.8z" color="#b7ca2e"/>
<path d="M301.3,257.3 298.1,255.8 298.1,279.7 301.3,281.2z" color="#778327"/>
<path d="M301.3,257.3 305.1,256 305.1,279.9 301.3,281.2z" color="#a5b631"/>
<path d="M126.2,181 130,179.8 126.8,178.3 123,179.5z" color="#a1d62e"/>
<path d="M294.3,257 298.1,255.8 298.1,279.7 294.3,280.9z" color="#a5b631"/>
<path d="M122.4,182.3 126.2,181 123,179.5 119.2,180.8z" color="#a1d62e"/>
<path d="M290.5,258.3 294.3,257 291.1,255.6 287.3,256.8z" color="#bdc62f"/>
<path d="M290.5,258.3 294.3,257 294.3,280.9 290.5,282.2z" color="#aab332"/>
<path d="M118.7,183.5 122.4,182.3 119.2,180.8 115.4,182z" color="#a6d42d"/>
<path d="M286.7,259.5 290.5,258.3 287.3,256.8 283.5,258.1z" color="#c2c230"/>
<path d="M286.7,259.5 283.5,258.1 283.5,282 286.7,283.4z" color="#7e7d28"/>
<path d="M286.7,259.5 290.5,258.3 290.5,282.2 286.7,283.4z" color="#afaf33"/>
<path d="M114.9,184.7 118.7,183.5 115.4,182 111.6,183.3z" color="#a6d42d"/>
<path d="M279.7,259.3 283.5,258.1 280.2,256.6 276.5,257.8z" color="#c6be31"/>
<path d="M279.7,259.3 283.5,258.1 283.5,282 279.7,283.2z" color="#b2ac33"/>
<path d="M107.8,184.5 111.6,183.3 108.4,181.8 104.6,183.1z" color="#b3cd2d"/>
<path d="M111.1,186 114.9,184.7 111.6,183.3 107.8,184.5z" color="#acd12d"/>
<path d="M275.9,260.5 279.7,259.3 276.5,257.8 272.7,259.1z" color="#cbb932"/>
<path d="M275.9,260.5 272.7,259.1 272.7,283 275.9,284.4z" color="#837929"/>
<path d="M275.9,260.5 279.7,259.3 279.7,283.2 275.9,284.4z" color="#b6a834"/>
<path d="M104.1,185.8 107.8,184.5 104.6,183.1 100.8,184.3z" color="#b7ca2e"/>
<path d="M268.9,260.3 272.7,259.1 269.4,257.6 265.6,258.9z" color="#cbb932"/>
<path d="M268.9,260.3 265.6,258.9 265.6,282.8 268.9,284.2z" color="#837929"/>
<path d="M268.9,260.3 272.7,259.1 272.7,283 268.9,284.2z" color="#b6a834"/>
<path d="M100.3,187 104.1,185.8 100.8,184.3 97,185.5z" color="#bdc62f"/>
<path d="M261.9,260.1 265.6,258.9 262.4,257.4 258.6,258.6z" color="#cbb932"/>
<path d="M261.9,260.1 258.6,258.6 258.6,282.5 261.9,284z" color="#837929"/>
<path d="M261.9,260.1 265.6,258.9 265.6,282.8 261.9,284z" color="#b6a834"/>
<path d="M96.5,188.2 100.3,187 97,185.5 93.2,186.8z" color="#c2c230"/>
<path d="M254.8,259.9 258.6,258.6 255.4,257.2 251.6,258.4z" color="#cbb932"/>
<path d="M254.8,259.9 251.6,258.4 251.6,282.3 254.8,283.8z" color="#837929"/>
<path d="M254.8,259.9 258.6,258.6 258.6,282.5 254.8,283.8z" color="#b6a834"/>
<path d="M92.7,189.5 96.5,188.2 93.2,186.8 89.5,188z" color="#c6be31"/>
<path d="M95.9,190.9 99.7,189.7 96.5,188.2 92.7,189.5z" color="#c2c230"/>
<path d="M244.6,258.2 248.4,257 245.1,255.5 241.4,256.7z" color="#bdc62f"/>
<path d="M247.8,259.7 251.6,258.4 248.4,257 244.6,258.2z" color="#c6be31"/>
<path d="M92.7,189.5 89.5,188 89.5,211.9 92.7,213.4z" color="#807c28"/>
<path d="M244.6,258.2 241.4,256.7 241.4,280.6 244.6,282.1z" color="#7b8027"/>
<path d="M247.8,259.7 244.6,258.2 244.6,282.1 247.8,283.6z" color="#807c28"/>
<path d="M247.8,259.7 251.6,258.4 251.6,282.3 247.8,283.6z" color="#b2ac33"/>
<path d="M92.1,192.2 95.9,190.9 92.7,189.5 88.9,190.7z" color="#cbb932"/>
<path d="M234.3,256.5 238.1,255.3 234.9,253.8 231.1,255.1z" color="#b7ca2e"/>
<path d="M237.6,258 241.4,256.7 238.1,255.3 234.3,256.5z" color="#bdc62f"/>
<path d="M234.3,256.5 231.1,255.1 231.1,279 234.3,280.4z" color="#778327"/>
<path d="M237.6,258 234.3,256.5 234.3,280.4 237.6,281.9z" color="#7b8027"/>
<path d="M237.6,258 241.4,256.7 241.4,280.6 237.6,281.9z" color="#aab332"/>
<path d="M91.6,194.9 95.4,193.7 88.9,190.7 85.1,192z" color="#cbb932"/>
<path d="M94.8,196.4 98.6,195.1 95.4,193.7 91.6,194.9z" color="#c6be31"/>
<path d="M220.9,253.4 224.6,252.1 221.4,250.7 217.6,251.9z" color="#acd12d"/>
<path d="M227.3,256.3 231.1,255.1 224.6,252.1 220.9,253.4z" color="#b3cd2d"/>
<path d="M91.6,194.9 85.1,192 85.1,215.9 91.6,218.8z" color="#837929"/>
<path d="M214.4,250.5 211.2,249 211.2,272.9 214.4,274.4z" color="#6d8827"/>
<path d="M220.9,253.4 214.4,250.5 214.4,274.4 220.9,277.3z" color="#718626"/>
<path d="M227.3,256.3 220.9,253.4 220.9,277.3 227.3,280.2z" color="#758427"/>
<path d="M227.3,256.3 231.1,255.1 231.1,279 227.3,280.2z" color="#a2b831"/>
<path d="M91,197.6 94.8,196.4 91.6,194.9 87.8,196.1z" color="#c6be31"/>
<path d="M94.3,199.1 98,197.8 94.8,196.4 91,197.6z" color="#c2c230"/>
<path d="M97.5,200.5 101.3,199.3 98,197.8 94.3,199.1z" color="#bdc62f"/>
<path d="M104,203.4 107.7,202.2 101.3,199.3 97.5,200.5z" color="#b7ca2e"/>
<path d="M120.1,210.8 123.9,209.5 107.7,202.2 104,203.4z" color="#b3cd2d"/>
<path d="M204.1,248.8 207.9,247.5 201.5,244.6 197.7,245.8z" color="#a6d42d"/>
<path d="M207.4,250.2 211.2,249 207.9,247.5 204.1,248.8z" color="#acd12d"/>
<path d="M91,197.6 87.8,196.1 87.8,220 91,221.5z" color="#807c28"/>
<path d="M94.3,199.1 91,197.6 91,221.5 94.3,223z" color="#7e7d28"/>
<path d="M97.5,200.5 94.3,199.1 94.3,223 97.5,224.4z" color="#7b8027"/>
<path d="M104,203.4 97.5,200.5 97.5,224.4 104,227.3z" color="#778327"/>
<path d="M120.1,210.8 104,203.4 104,227.3 120.1,234.7z" color="#758427"/>
<path d="M139.5,219.5 120.1,210.8 120.1,234.7 139.5,243.4z" color="#718626"/>
<path d="M152.4,225.4 139.5,219.5 139.5,243.4 152.4,249.3z" color="#6d8827"/>
<path d="M155.7,226.8 152.4,225.4 152.4,249.3 155.7,250.7z" color="#6a8927"/>
<path d="M194.4,244.4 168.6,232.7 168.6,256.6 194.4,268.3z" color="#6a8927"/>
<path d="M204.1,248.8 194.4,244.4 194.4,268.3 204.1,272.7z" color="#6d8827"/>
<path d="M207.4,250.2 204.1,248.8 204.1,272.7 207.4,274.1z" color="#718626"/>
<path d="M207.4,250.2 211.2,249 211.2,272.9 207.4,274.1z" color="#9cbc30"/>
<path d="M161.6,232.5 165.4,231.2 155.7,226.8 151.9,228.1z" color="#a6d42d"/>
<path d="M164.8,233.9 168.6,232.7 165.4,231.2 161.6,232.5z" color="#a1d62e"/>
<path d="M161.6,232.5 151.9,228.1 151.9,252 161.6,256.4z" color="#6d8827"/>
<path d="M164.8,233.9 161.6,232.5 161.6,256.4 164.8,257.8z" color="#6a8927"/>
<path d="M164.8,233.9 168.6,232.7 168.6,256.6 164.8,257.8z" color="#93c031"/>
<path d="M457.2,179.7 460.9,178.5 460.9,202.4 457.2,203.6z" color="#afaf33"/>
<path d="M456.6,182.4 460.4,181.2 460.4,205.1 456.6,206.3z" color="#aab332"/>
<path d="M452.8,183.7 456.6,182.4 456.6,206.3 452.8,207.6z" color="#a2b831"/>
<path d="M449,184.9 452.8,183.7 452.8,207.6 449,208.8z" color="#93c031"/>
<path d="M448.5,187.6 452.3,186.4 452.3,210.3 448.5,211.5z" color="#8dc232"/>
<path d="M444.7,188.9 448.5,187.6 448.5,211.5 444.7,212.8z" color="#83c536"/>
<path d="M440.9,190.1 444.7,188.9 444.7,212.8 440.9,214z" color="#76c63e"/>
<path d="M437.1,191.3 440.9,190.1 440.9,214 437.1,215.2z" color="#71c742"/>
<path d="M433.3,192.6 437.1,191.3 437.1,215.2 433.3,216.5z" color="#61c64e"/>
<path d="M429.5,193.8 433.3,192.6 433.3,216.5 429.5,217.7z" color="#5bc653"/>
<path d="M425.7,195.1 429.5,193.8 429.5,217.7 425.7,219z" color="#5bc653"/>
<path d="M425.2,197.8 429,196.5 429,220.4 425.2,221.7z" color="#5bc653"/>
<path d="M421.4,199 425.2,197.8 425.2,221.7 421.4,222.9z" color="#5bc653"/>
<path d="M417.6,200.3 421.4,199 421.4,222.9 417.6,224.2z" color="#52c55a"/>
<path d="M413.8,201.5 417.6,200.3 417.6,224.2 413.8,225.4z" color="#52c55a"/>
<path d="M410,202.7 413.8,201.5 413.8,225.4 410,226.6z" color="#52c55a"/>
<path d="M406.3,204 410,202.7 410,226.6 406.3,227.9z" color="#52c55a"/>
<path d="M402.5,205.2 406.3,204 406.3,227.9 402.5,229.1z" color="#52c55a"/>
<path d="M398.7,206.5 402.5,205.2 402.5,229.1 398.7,230.4z" color="#52c55a"/>
<path d="M394.9,207.7 398.7,206.5 398.7,230.4 394.9,231.6z" color="#52c55a"/>
<path d="M391.1,208.9 394.9,207.7 394.9,231.6 391.1,232.8z" color="#52c55a"/>
<path d="M387.3,210.2 391.1,208.9 391.1,232.8 387.3,234.1z" color="#52c55a"/>
<path d="M383.5,211.4 387.3,210.2 387.3,234.1 383.5,235.3z" color="#52c55a"/>
<path d="M379.7,212.7 383.5,211.4 383.5,235.3 379.7,236.6z" color="#52c55a"/>
<path d="M375.9,213.9 379.7,212.7 379.7,236.6 375.9,237.8z" color="#5bc653"/>
<path d="M372.2,215.2 375.9,213.9 375.9,237.8 372.2,239.1z" color="#5bc653"/>
<path d="M368.4,216.4 372.2,215.2 372.2,239.1 368.4,240.3z" color="#61c64e"/>
<path d="M364.6,217.6 368.4,216.4 368.4,240.3 364.6,241.5z" color="#61c64e"/>
<path d="M360.8,218.9 364.6,217.6 364.6,241.5 360.8,242.8z" color="#69c648"/>
<path d="M357,220.1 360.8,218.9 360.8,242.8 357,244z" color="#69c648"/>
<path d="M353.2,221.4 357,220.1 357,244 353.2,245.3z" color="#71c742"/>
<path d="M349.4,222.6 353.2,221.4 353.2,245.3 349.4,246.5z" color="#76c63e"/>
<path d="M345.6,223.9 349.4,222.6 349.4,246.5 345.6,247.8z" color="#76c63e"/>
<path d="M341.9,225.1 345.6,223.9 345.6,247.8 341.9,249z" color="#7dc63a"/>
<path d="M338.1,226.3 334.8,224.9 334.8,248.8 338.1,250.2z" color="#65942c"/>
<path d="M338.1,226.3 341.9,225.1 341.9,249 338.1,250.2z" color="#83c536"/>
<path d="M331.1,226.1 334.8,224.9 334.8,248.8 331.1,250z" color="#7dc63a"/>
<path d="M327.3,227.4 331.1,226.1 331.1,250 327.3,251.3z" color="#83c536"/>
<path d="M323.5,228.6 327.3,227.4 327.3,251.3 323.5,252.5z" color="#83c536"/>
<path d="M319.7,229.9 316.5,228.4 316.5,252.3 319.7,253.8z" color="#67942b"/>
<path d="M319.7,229.9 323.5,228.6 323.5,252.5 319.7,253.8z" color="#87c434"/>
<path d="M312.7,229.6 316.5,228.4 316.5,252.3 312.7,253.5z" color="#83c536"/>
<path d="M308.9,230.9 305.6,229.4 305.6,253.3 308.9,254.8z" color="#67942b"/>
<path d="M308.9,230.9 312.7,229.6 312.7,253.5 308.9,254.8z" color="#87c434"/>
<path d="M301.9,230.7 305.6,229.4 305.6,253.3 301.9,254.6z" color="#87c434"/>
<path d="M298.1,231.9 301.9,230.7 301.9,254.6 298.1,255.8z" color="#8dc232"/>
<path d="M294.3,233.1 291.1,231.7 291.1,255.6 294.3,257z" color="#709128"/>
<path d="M294.3,233.1 298.1,231.9 298.1,255.8 294.3,257z" color="#93c031"/>
<path d="M287.3,232.9 291.1,231.7 291.1,255.6 287.3,256.8z" color="#97be31"/>
<path d="M283.5,234.2 280.2,232.7 280.2,256.6 283.5,258.1z" color="#778e28"/>
<path d="M283.5,234.2 287.3,232.9 287.3,256.8 283.5,258.1z" color="#9cbc30"/>
<path d="M276.5,233.9 280.2,232.7 280.2,256.6 276.5,257.8z" color="#a2b831"/>
<path d="M272.7,235.2 269.4,233.7 269.4,257.6 272.7,259.1z" color="#7d8a28"/>
<path d="M272.7,235.2 276.5,233.9 276.5,257.8 272.7,259.1z" color="#a5b631"/>
<path d="M265.6,235 262.4,233.5 262.4,257.4 265.6,258.9z" color="#7d8a28"/>
<path d="M265.6,235 269.4,233.7 269.4,257.6 265.6,258.9z" color="#a5b631"/>
<path d="M258.6,234.7 255.4,233.3 255.4,257.2 258.6,258.6z" color="#7d8a28"/>
<path d="M258.6,234.7 262.4,233.5 262.4,257.4 258.6,258.6z" color="#a5b631"/>
<path d="M99.7,165.8 96.5,164.3 96.5,188.2 99.7,189.7z" color="#739028"/>
<path d="M248.4,233.1 245.1,231.6 245.1,255.5 248.4,257z" color="#778e28"/>
<path d="M251.6,234.5 248.4,233.1 248.4,257 251.6,258.4z" color="#7b8b28"/>
<path d="M251.6,234.5 255.4,233.3 255.4,257.2 251.6,258.4z" color="#a2b831"/>
<path d="M238.1,231.4 234.9,229.9 234.9,253.8 238.1,255.3z" color="#709128"/>
<path d="M241.4,232.8 238.1,231.4 238.1,255.3 241.4,256.7z" color="#739028"/>
<path d="M241.4,232.8 245.1,231.6 245.1,255.5 241.4,256.7z" color="#97be31"/>
<path d="M95.4,169.8 92.1,168.3 92.1,192.2 95.4,193.7z" color="#7b8b28"/>
<path d="M98.6,171.2 95.4,169.8 95.4,193.7 98.6,195.1z" color="#778e28"/>
<path d="M224.6,228.2 221.4,226.8 221.4,250.7 224.6,252.1z" color="#67942b"/>
<path d="M231.1,231.2 224.6,228.2 224.6,252.1 231.1,255.1z" color="#6c9229"/>
<path d="M231.1,231.2 234.9,229.9 234.9,253.8 231.1,255.1z" color="#8dc232"/>
<path d="M98,173.9 94.8,172.5 94.8,196.4 98,197.8z" color="#778e28"/>
<path d="M101.3,175.4 98,173.9 98,197.8 101.3,199.3z" color="#739028"/>
<path d="M104.5,176.8 101.3,175.4 101.3,199.3 104.5,200.7z" color="#709128"/>
<path d="M117.4,182.7 104.5,176.8 104.5,200.7 117.4,206.6z" color="#6c9229"/>
<path d="M123.9,185.6 117.4,182.7 117.4,206.6 123.9,209.5z" color="#67942b"/>
<path d="M211.2,225.1 201.5,220.7 201.5,244.6 211.2,249z" color="#65942c"/>
<path d="M217.6,228 211.2,225.1 211.2,249 217.6,251.9z" color="#67942b"/>
<path d="M217.6,228 221.4,226.8 221.4,250.7 217.6,251.9z" color="#87c434"/>
<path d="M129.8,191.2 120.1,186.9 120.1,210.8 129.8,215.1z" color="#6c9229"/>
<path d="M149.2,200 129.8,191.2 129.8,215.1 149.2,223.9z" color="#67942b"/>
<path d="M165.4,207.3 149.2,200 149.2,223.9 165.4,231.2z" color="#65942c"/>
<path d="M181.5,214.6 165.4,207.3 165.4,231.2 181.5,238.5z" color="#60952f"/>
<path d="M197.7,221.9 181.5,214.6 181.5,238.5 197.7,245.8z" color="#65942c"/>
<path d="M197.7,221.9 201.5,220.7 201.5,244.6 197.7,245.8z" color="#83c536"/>
</g>
<g transform="matrix(3.7879 -1.2424 -3.2318 -1.4621 261.20 256.60)" fill="currentColor" stroke="currentColor" stroke-width="1" stroke-linejoin="round">
<path vector-effect="non-scaling-stroke" d="M2 22h1v1h-1zM2 36h1v2h-1zM3 19h1v1h-1zM3 39h1v3h-1zM4 17h1v1h-1zM4 43h1v3h-1zM5 16h1v1h-1zM5 49h1v4h-1zM6 15h1v1h-1zM6 54h1v1h-1zM8 14h1v1h-1zM8 56h1v1h-1zM10 13h1v1h-1zM12 10h1v1h-1zM13 8h1v1h-1zM17 4h1v1h-1zM51 3h1v1h-1zM53 6h1v1h-1zM54 7h1v1h-1z" color="#91db33"/>
<path vector-effect="non-scaling-stroke" d="M2 23h1v2h-1zM2 34h1v2h-1zM3 20h1v2h-1zM3 37h1v2h-1zM4 18h1v1h-1zM4 40h1v3h-1zM5 17h1v1h-1zM5 44h1v5h-1zM6 16h1v1h-1zM7 15h1v1h-1zM7 55h1v1h-1zM9 14h1v1h-1zM9 56h1v1h-1zM11 12h1v1h-1zM14 7h1v1h-1zM15 6h1v1h-1zM16 5h1v1h-1zM19 3h1v1h-1zM52 5h1v1h-1z" color="#8fdc34"/>
<path vector-effect="non-scaling-stroke" d="M2 25h1v9h-1zM3 22h1v2h-1zM3 35h1v2h-1zM4 19h1v2h-1zM4 38h1v2h-1zM5 18h1v1h-1zM5 42h1v2h-1zM6 17h1v1h-1zM6 45h1v9h-1zM7 16h1v1h-1zM8 15h1v1h-1zM8 55h1v1h-1zM10 14h1v1h-1zM10 56h1v1h-1zM11 13h1v1h-1zM11 56h1v1h-1zM12 11h1v1h-1zM13 9h1v1h-1zM18 4h1v1h-1zM20 3h1v1h-1zM22 2h1v1h-1zM55 8h1v1h-1zM56 9h1v1h-1z" color="#8adc37"/>
<path vector-effect="non-scaling-stroke" d="M2 38h1v3h-1zM3 18h1v1h-1zM3 42h1v3h-1zM4 16h1v1h-1zM4 46h1v5h-1zM5 15h1v1h-1zM5 53h1v1h-1zM7 14h1v1h-1zM9 13h1v1h-1zM11 11h1v1h-1zM14 6h1v1h-1zM15 5h1v1h-1zM18 3h1v1h-1z" color="#93db32"/>
<path vector-effect="non-scaling-stroke" d="M2 41h1v3h-1zM3 17h1v1h-1zM3 45h1v5h-1zM4 51h1v1h-1zM6 14h1v1h-1zM6 55h1v1h-1zM7 56h1v1h-1zM8 13h1v1h-1zM10 12h1v1h-1zM12 9h1v1h-1zM13 7h1v1h-1zM16 4h1v1h-1zM52 4h1v1h-1zM56 8h1v1h-1z" color="#96da31"/>
<path vector-effect="non-scaling-stroke" d="M2 44h1v2h-1zM3 50h1v1h-1zM4 15h1v1h-1zM4 52h1v1h-1zM5 14h1v1h-1zM5 54h1v1h-1zM7 13h1v1h-1zM8 57h1v1h-1zM9 12h1v1h-1zM11 10h1v1h-1z" color="#9ad92f"/>
<path vector-effect="non-scaling-stroke" d="M3 24h1v3h-1zM3 32h1v3h-1zM4 21h1v2h-1zM4 36h1v2h-1zM5 19h1v1h-1zM5 39h1v3h-1zM6 18h1v1h-1zM6 43h1v2h-1zM7 47h1v2h-1zM7 54h1v1h-1zM8 16h1v1h-1zM9 15h1v1h-1zM9 55h1v1h-1zM12 12h1v1h-1zM12 56h1v1h-1zM14 8h1v1h-1zM17 5h1v1h-1zM19 4h1v1h-1zM21 3h1v1h-1zM23 2h1v1h-1zM51 4h1v1h-1z" color="#88dd38"/>
<path vector-effect="non-scaling-stroke" d="M3 27h1v5h-1zM4 23h1v2h-1zM4 34h1v2h-1zM5 20h1v2h-1zM5 37h1v2h-1zM6 19h1v1h-1zM6 41h1v2h-1zM7 17h1v1h-1zM7 45h1v2h-1zM7 49h1v5h-1zM8 54h1v1h-1zM9 16h1v1h-1zM10 15h1v1h-1zM10 55h1v1h-1zM11 14h1v1h-1zM11 55h1v1h-1zM13 10h1v1h-1zM13 56h1v1h-1zM15 7h1v1h-1zM16 6h1v1h-1zM20 4h1v1h-1zM22 3h1v1h-1zM50 3h1v1h-1zM52 6h1v1h-1zM53 7h1v1h-1z" color="#85dd3a"/>
<path vector-effect="non-scaling-stroke" d="M3 51h1v1h-1zM4 14h1v1h-1zM4 53h1v1h-1zM6 13h1v1h-1zM10 11h1v1h-1zM12 8h1v1h-1zM13 6h1v1h-1zM14 5h1v1h-1zM52 3h1v1h-1zM53 5h1v1h-1zM55 7h1v1h-1z" color="#9dd82f"/>
<path vector-effect="non-scaling-stroke" d="M3 52h1v1h-1zM5 13h1v1h-1zM6 56h1v1h-1zM7 12h1v1h-1zM7 57h1v1h-1zM8 12h1v1h-1zM11 9h1v1h-1zM54 6h1v1h-1z" color="#9fd72e"/>
<path vector-effect="non-scaling-stroke" d="M3 53h1v1h-1zM5 55h1v1h-1zM6 12h1v1h-1zM9 11h1v1h-1zM10 10h1v1h-1zM12 7h1v1h-1zM13 5h1v1h-1zM53 4h1v1h-1z" color="#a1d62e"/>
<path vector-effect="non-scaling-stroke" d="M3 54h1v1h-1zM4 55h1v1h-1zM5 56h1v1h-1zM6 11h1v1h-1zM7 11h1v1h-1zM9 10h1v1h-1zM11 7h1v1h-1zM55 6h1v1h-1z" color="#aad22d"/>
<path vector-effect="non-scaling-stroke" d="M4 25h1v9h-1zM5 22h1v2h-1zM5 35h1v2h-1zM6 20h1v1h-1zM6 39h1v2h-1zM7 18h1v1h-1zM7 43h1v2h-1zM8 17h1v1h-1zM8 46h1v8h-1zM9 17h1v1h-1zM9 54h1v1h-1zM10 16h1v1h-1zM10 54h1v1h-1zM11 15h1v1h-1zM12 13h1v1h-1zM12 55h1v1h-1zM13 11h1v1h-1zM14 9h1v1h-1zM14 56h1v1h-1zM18 5h1v1h-1zM21 4h1v1h-1zM23 3h1v1h-1zM24 2h1v1h-1zM51 5h1v1h-1zM56 10h1v1h-1z" color="#7fdd3d"/>
<path vector-effect="non-scaling-stroke" d="M4 54h1v1h-1zM5 12h1v1h-1zM6 57h1v1h-1zM11 8h1v1h-1zM12 6h1v1h-1z" color="#a6d42d"/>
<path vector-effect="non-scaling-stroke" d="M4 56h1v1h-1zM6 10h1v1h-1zM7 10h1v1h-1z" color="#b3cd2d"/>
<path vector-effect="non-scaling-stroke" d="M5 24h1v2h-1zM5 32h1v3h-1zM6 21h1v2h-1zM6 37h1v2h-1zM7 19h1v1h-1zM7 41h1v2h-1zM8 18h1v1h-1zM8 45h1v1h-1zM9 48h1v1h-1zM9 52h1v2h-1zM10 17h1v1h-1zM10 53h1v1h-1zM11 16h1v1h-1zM11 54h1v1h-1zM12 14h1v1h-1zM12 54h1v1h-1zM13 55h1v1h-1zM15 8h1v1h-1zM15 56h1v1h-1zM16 7h1v1h-1zM17 6h1v1h-1zM19 5h1v1h-1zM25 2h1v1h-1zM50 4h1v1h-1zM54 8h1v1h-1zM55 9h1v1h-1z" color="#7cde40"/>
<path vector-effect="non-scaling-stroke" d="M5 26h1v6h-1zM6 23h1v2h-1zM6 34h1v3h-1zM7 20h1v2h-1zM7 39h1v2h-1zM8 19h1v1h-1zM8 43h1v2h-1zM9 18h1v1h-1zM9 46h1v2h-1zM9 49h1v3h-1zM10 52h1v1h-1zM11 17h1v1h-1zM11 53h1v1h-1zM12 15h1v1h-1zM13 12h1v1h-1zM13 54h1v1h-1zM14 10h1v1h-1zM14 55h1v1h-1zM16 56h1v1h-1zM20 5h1v1h-1zM22 4h1v1h-1zM24 3h1v1h-1zM52 7h1v1h-1z" color="#79de42"/>
<path vector-effect="non-scaling-stroke" d="M6 25h1v3h-1zM6 30h1v4h-1zM7 22h1v1h-1zM7 36h1v3h-1zM8 20h1v1h-1zM8 42h1v1h-1zM9 19h1v1h-1zM9 45h1v1h-1zM10 18h1v1h-1zM10 48h1v4h-1zM11 52h1v1h-1zM12 16h1v1h-1zM12 53h1v1h-1zM13 13h1v2h-1zM14 54h1v1h-1zM15 55h1v1h-1zM18 6h1v1h-1zM21 5h1v1h-1zM23 4h1v1h-1zM25 3h1v1h-1zM26 2h1v1h-1zM49 3h1v1h-1zM51 6h1v1h-1zM53 8h1v1h-1zM56 11h1v1h-1z" color="#76de44"/>
<path vector-effect="non-scaling-stroke" d="M6 28h1v2h-1zM7 23h1v3h-1zM7 33h1v3h-1zM8 21h1v2h-1zM8 39h1v3h-1zM9 20h1v1h-1zM9 44h1v1h-1zM10 19h1v1h-1zM10 46h1v2h-1zM11 18h1v1h-1zM11 51h1v1h-1zM12 17h1v1h-1zM12 52h1v1h-1zM13 15h1v2h-1zM13 53h1v1h-1zM14 11h1v1h-1zM15 9h1v1h-1zM15 54h1v1h-1zM16 8h1v1h-1zM16 55h1v1h-1zM17 7h1v1h-1zM19 6h1v1h-1zM24 4h1v1h-1zM27 2h1v1h-1zM50 5h1v1h-1zM55 10h1v1h-1z" color="#70de49"/>
<path vector-effect="non-scaling-stroke" d="M7 9h1v1h-1zM9 7h1v1h-1z" color="#b9c92e"/>
<path vector-effect="non-scaling-stroke" d="M7 26h1v7h-1zM8 23h1v2h-1zM8 35h1v4h-1zM9 21h1v1h-1zM9 43h1v1h-1zM10 20h1v1h-1zM10 45h1v1h-1zM11 19h1v1h-1zM11 49h1v2h-1zM12 18h1v1h-1zM12 51h1v1h-1zM13 17h1v1h-1zM13 52h1v1h-1zM14 12h1v1h-1zM14 53h1v1h-1zM16 54h1v1h-1zM17 55h1v1h-1zM22 5h1v1h-1zM26 3h1v1h-1zM28 2h1v1h-1zM49 4h1v1h-1zM51 7h1v1h-1zM54 9h1v1h-1zM56 12h1v1h-1z" color="#6cdd4b"/>
<path vector-effect="non-scaling-stroke" d="M8 8h1v1h-1zM55 4h1v1h-1z" color="#bbc82e"/>
<path vector-effect="non-scaling-stroke" d="M8 9h1v1h-1zM9 8h1v1h-1zM55 5h1v1h-1zM56 6h1v1h-1z" color="#b5cc2e"/>
<path vector-effect="non-scaling-stroke" d="M8 10h1v1h-1zM9 9h1v1h-1zM10 7h1v1h-1zM54 4h1v1h-1z" color="#b0ce2d"/>
<path vector-effect="non-scaling-stroke" d="M8 11h1v1h-1zM10 9h1v1h-1zM54 5h1v1h-1zM56 7h1v1h-1z" color="#a8d32d"/>
<path vector-effect="non-scaling-stroke" d="M8 25h1v3h-1zM8 31h1v4h-1zM9 22h1v2h-1zM9 40h1v3h-1zM10 21h1v1h-1zM11 20h1v1h-1zM11 47h1v2h-1zM12 19h1v1h-1zM12 50h1v1h-1zM14 13h1v1h-1zM15 10h1v1h-1zM15 53h1v1h-1zM18 7h1v1h-1zM18 55h1v1h-1zM20 6h1v1h-1zM23 5h1v1h-1zM25 4h1v1h-1zM27 3h1v1h-1zM29 2h1v1h-1zM48 3h1v1h-1zM50 6h1v1h-1zM52 8h1v1h-1zM55 11h1v1h-1zM56 13h1v1h-1z" color="#69dd4e"/>
<path vector-effect="non-scaling-stroke" d="M8 28h1v3h-1zM9 24h1v2h-1zM9 34h1v6h-1zM10 22h1v1h-1zM10 44h1v1h-1zM11 21h1v1h-1zM11 46h1v1h-1zM12 49h1v1h-1zM13 18h1v1h-1zM13 51h1v1h-1zM14 14h1v3h-1zM14 52h1v1h-1zM16 9h1v1h-1zM16 53h1v1h-1zM17 8h1v1h-1zM17 54h1v1h-1zM19 55h1v1h-1zM21 6h1v1h-1zM24 5h1v1h-1zM26 4h1v1h-1zM28 3h1v1h-1zM30 2h1v1h-1zM49 5h1v1h-1zM53 9h1v1h-1zM54 10h1v1h-1z" color="#62dd53"/>
<path vector-effect="non-scaling-stroke" d="M9 26h1v8h-1zM10 23h1v2h-1zM10 42h1v2h-1zM11 22h1v1h-1zM11 45h1v1h-1zM12 20h1v2h-1zM12 48h1v1h-1zM13 19h1v1h-1zM13 50h1v1h-1zM14 17h1v1h-1zM14 51h1v1h-1zM15 11h1v1h-1zM15 52h1v1h-1zM17 53h1v1h-1zM18 54h1v1h-1zM19 7h1v1h-1zM20 55h1v1h-1zM22 6h1v1h-1zM25 5h1v1h-1zM27 4h1v1h-1zM29 3h1v1h-1zM31 2h1v1h-1zM45 2h1v1h-1zM47 3h1v1h-1zM48 4h1v1h-1zM49 6h1v1h-1zM50 7h1v1h-1zM51 8h1v1h-1zM55 12h1v1h-1z" color="#5fdd56"/>
<path vector-effect="non-scaling-stroke" d="M10 8h1v1h-1zM11 6h1v1h-1z" color="#aed02d"/>
<path vector-effect="non-scaling-stroke" d="M10 25h1v17h-1zM11 23h1v2h-1zM12 22h1v1h-1zM12 47h1v1h-1zM13 20h1v1h-1zM13 49h1v1h-1zM14 18h1v1h-1zM15 12h1v1h-1zM15 51h1v1h-1zM16 52h1v1h-1zM18 8h1v1h-1zM18 53h1v1h-1zM19 54h1v1h-1zM20 7h1v1h-1zM21 55h1v1h-1zM23 6h1v1h-1zM26 5h1v1h-1zM28 4h1v1h-1zM30 3h1v1h-1zM32 2h1v1h-1zM44 2h1v1h-1zM46 3h1v1h-1zM48 5h1v1h-1zM52 9h1v1h-1zM54 11h1v1h-1zM55 13h1v1h-1z" color="#5bdc58"/>
<path vector-effect="non-scaling-stroke" d="M11 25h1v2h-1zM11 34h1v3h-1zM11 44h1v1h-1zM12 23h1v1h-1zM13 21h1v1h-1zM14 19h1v1h-1zM14 50h1v1h-1zM15 13h1v2h-1zM16 10h1v1h-1zM17 9h1v1h-1zM17 52h1v1h-1zM19 53h1v1h-1zM20 54h1v1h-1zM24 6h1v1h-1zM27 5h1v1h-1zM29 4h1v1h-1zM30 4h1v1h-1zM31 3h1v1h-1zM32 3h1v1h-1zM33 2h1v1h-1zM34 2h1v1h-1zM35 2h1v1h-1zM42 2h1v1h-1zM43 2h1v1h-1zM45 3h1v1h-1zM47 4h1v1h-1zM48 6h1v1h-1zM49 7h1v1h-1zM50 8h1v1h-1zM51 9h1v1h-1zM53 10h1v1h-1zM55 14h1v1h-1z" color="#58dc5b"/>
<path vector-effect="non-scaling-stroke" d="M11 27h1v7h-1zM11 37h1v3h-1zM11 43h1v1h-1zM12 24h1v2h-1zM12 46h1v1h-1zM13 22h1v2h-1zM13 48h1v1h-1zM14 20h1v1h-1zM14 49h1v1h-1zM15 15h1v3h-1zM15 50h1v1h-1zM16 51h1v1h-1zM18 52h1v1h-1zM19 8h1v1h-1zM20 53h1v1h-1zM21 7h1v1h-1zM21 54h1v1h-1zM25 6h1v1h-1zM28 5h1v1h-1zM29 5h1v1h-1zM31 4h1v1h-1zM33 3h1v1h-1zM34 3h1v1h-1zM36 2h1v1h-1zM37 2h1v1h-1zM38 2h1v1h-1zM39 2h1v1h-1zM40 2h1v1h-1zM41 2h1v1h-1zM43 3h1v1h-1zM44 3h1v1h-1zM46 4h1v1h-1zM47 5h1v1h-1zM49 8h1v1h-1zM52 10h1v1h-1zM53 11h1v1h-1zM54 12h1v1h-1z" color="#51db61"/>
<path vector-effect="non-scaling-stroke" d="M11 40h1v3h-1zM12 26h1v11h-1zM12 45h1v1h-1zM13 24h1v2h-1zM13 47h1v1h-1zM14 21h1v2h-1zM15 18h1v1h-1zM16 11h1v1h-1zM17 51h1v1h-1zM18 9h1v1h-1zM19 52h1v1h-1zM21 53h1v1h-1zM22 7h1v1h-1zM22 54h1v1h-1zM26 6h1v1h-1zM27 6h1v1h-1zM30 5h1v1h-1zM31 5h1v1h-1zM32 4h1v1h-1zM33 4h1v1h-1zM34 4h1v1h-1zM35 3h1v1h-1zM36 3h1v1h-1zM37 3h1v1h-1zM38 3h1v1h-1zM39 3h1v1h-1zM40 3h1v1h-1zM41 3h1v1h-1zM42 3h1v1h-1zM44 4h1v1h-1zM45 4h1v1h-1zM46 5h1v1h-1zM47 6h1v1h-1zM48 7h1v1h-1zM50 9h1v1h-1zM51 10h1v1h-1zM54 13h1v1h-1zM55 15h1v1h-1z" color="#4eda64"/>
<path vector-effect="non-scaling-stroke" d="M12 37h1v2h-1zM13 26h1v2h-1zM14 23h1v2h-1zM14 48h1v1h-1zM15 19h1v2h-1zM15 49h1v1h-1zM16 12h1v1h-1zM16 50h1v1h-1zM17 10h1v1h-1zM18 51h1v1h-1zM20 8h1v1h-1zM20 52h1v1h-1zM22 53h1v1h-1zM23 7h1v1h-1zM23 54h1v1h-1zM28 6h1v1h-1zM29 6h1v1h-1zM30 6h1v1h-1zM31 6h1v1h-1zM32 5h1v1h-1zM33 5h1v1h-1zM34 5h1v1h-1zM35 4h1v1h-1zM36 4h1v1h-1zM37 4h1v1h-1zM38 4h1v1h-1zM39 4h1v1h-1zM40 4h1v1h-1zM41 4h1v1h-1zM42 4h1v1h-1zM43 4h1v1h-1zM45 5h1v1h-1zM46 6h1v1h-1zM47 7h1v1h-1zM48 8h1v1h-1zM49 9h1v1h-1zM50 10h1v1h-1zM52 11h1v1h-1zM53 12h1v1h-1zM54 14h1v1h-1zM55 16h1v1h-1z" color="#4ada67"/>
<path vector-effect="non-scaling-stroke" d="M12 39h1v1h-1zM12 44h1v1h-1zM13 28h1v10h-1zM13 46h1v1h-1zM14 25h1v2h-1zM15 21h1v3h-1zM16 13h1v1h-1zM16 49h1v1h-1zM17 50h1v1h-1zM19 51h1v1h-1zM21 8h1v1h-1zM21 52h1v1h-1zM23 53h1v1h-1zM24 7h1v1h-1zM24 54h1v1h-1zM25 7h1v1h-1zM32 6h1v1h-1zM33 6h1v1h-1zM34 6h1v1h-1zM35 5h1v1h-1zM36 5h1v1h-1zM37 5h1v1h-1zM38 5h1v1h-1zM41 5h1v1h-1zM42 5h1v1h-1zM43 5h1v1h-1zM44 5h1v1h-1zM45 6h1v1h-1zM46 7h1v1h-1zM47 8h1v1h-1zM48 9h1v1h-1zM49 10h1v1h-1zM51 11h1v1h-1zM53 13h1v1h-1zM54 15h1v1h-1zM55 17h1v1h-1z" color="#44d96d"/>
<path vector-effect="non-scaling-stroke" d="M12 40h1v2h-1zM12 43h1v1h-1zM13 38h1v1h-1zM14 27h1v3h-1zM14 33h1v3h-1zM14 47h1v1h-1zM15 24h1v2h-1zM15 48h1v1h-1zM16 14h1v4h-1zM17 11h1v1h-1zM18 10h1v1h-1zM18 50h1v1h-1zM19 9h1v1h-1zM19 50h1v1h-1zM20 51h1v1h-1zM21 51h1v1h-1zM22 8h1v1h-1zM22 52h1v1h-1zM26 7h1v1h-1zM27 7h1v1h-1zM28 7h1v1h-1zM29 7h1v1h-1zM30 7h1v1h-1zM31 7h1v1h-1zM32 7h1v1h-1zM33 7h1v1h-1zM35 6h1v1h-1zM36 6h1v1h-1zM37 6h1v1h-1zM39 5h1v1h-1zM40 5h1v1h-1zM42 6h1v1h-1zM43 6h1v1h-1zM44 6h1v1h-1zM45 7h1v1h-1zM46 8h1v1h-1zM47 9h1v1h-1zM48 10h1v1h-1zM50 11h1v1h-1zM52 12h1v1h-1zM53 14h1v1h-1zM54 16h1v1h-1z" color="#40d870"/>
<path vector-effect="non-scaling-stroke" d="M12 42h1v1h-1zM13 45h1v1h-1zM14 30h1v3h-1zM14 36h1v2h-1zM15 26h1v2h-1zM16 18h1v8h-1zM16 48h1v1h-1zM17 49h1v1h-1zM18 49h1v1h-1zM20 9h1v1h-1zM20 50h1v1h-1zM22 51h1v1h-1zM23 8h1v1h-1zM23 52h1v1h-1zM24 53h1v1h-1zM34 7h1v1h-1zM35 7h1v1h-1zM36 7h1v1h-1zM38 6h1v1h-1zM39 6h1v1h-1zM40 6h1v1h-1zM41 6h1v1h-1zM43 7h1v1h-1zM44 7h1v1h-1zM45 8h1v1h-1zM46 9h1v1h-1zM49 11h1v1h-1zM51 12h1v1h-1zM52 13h1v1h-1z" color="#3dd773"/>
<path vector-effect="non-scaling-stroke" d="M13 39h1v1h-1zM14 46h1v1h-1zM15 28h1v9h-1zM15 47h1v1h-1zM16 26h1v2h-1zM17 12h1v1h-1zM17 48h1v1h-1zM19 49h1v1h-1zM21 50h1v1h-1zM23 51h1v1h-1zM24 8h1v1h-1zM24 52h1v1h-1zM25 53h1v1h-1zM29 8h1v1h-1zM30 8h1v1h-1zM31 8h1v1h-1zM32 8h1v1h-1zM33 8h1v1h-1zM34 8h1v1h-1zM35 8h1v1h-1zM37 7h1v1h-1zM38 7h1v1h-1zM39 7h1v1h-1zM40 7h1v1h-1zM41 7h1v1h-1zM42 7h1v1h-1zM43 8h1v1h-1zM44 8h1v1h-1zM45 9h1v1h-1zM47 10h1v1h-1zM48 11h1v1h-1zM50 12h1v1h-1zM52 14h1v1h-1zM53 15h1v1h-1zM54 17h1v1h-1z" color="#3ad776"/>
<path vector-effect="non-scaling-stroke" d="M13 40h1v1h-1zM14 38h1v1h-1zM15 37h1v1h-1zM16 28h1v1h-1zM17 13h1v1h-1zM17 21h1v6h-1zM18 11h1v1h-1zM18 48h1v1h-1zM19 10h1v1h-1zM20 49h1v1h-1zM21 9h1v1h-1zM21 49h1v1h-1zM22 50h1v1h-1zM25 8h1v1h-1zM25 52h1v1h-1zM26 8h1v1h-1zM26 53h1v1h-1zM27 8h1v1h-1zM28 8h1v1h-1zM36 8h1v1h-1zM37 8h1v1h-1zM38 8h1v1h-1zM39 8h1v1h-1zM40 8h1v1h-1zM41 8h1v1h-1zM42 8h1v1h-1zM44 9h1v1h-1zM46 10h1v1h-1zM47 11h1v1h-1zM49 12h1v1h-1zM51 13h1v1h-1zM53 16h1v1h-1zM54 18h1v2h-1z" color="#34d57b"/>
<path vector-effect="non-scaling-stroke" d="M13 41h1v1h-1zM15 38h1v1h-1zM15 46h1v1h-1zM16 36h1v2h-1zM17 16h1v2h-1zM17 29h1v1h-1zM17 47h1v1h-1zM18 12h1v1h-1zM18 22h1v1h-1zM18 26h1v2h-1zM18 47h1v1h-1zM20 10h1v1h-1zM21 48h1v1h-1zM23 9h1v1h-1zM23 49h1v1h-1zM24 50h1v1h-1zM25 51h1v1h-1zM26 52h1v1h-1zM28 9h1v1h-1zM29 9h1v1h-1zM37 9h1v1h-1zM38 9h1v1h-1zM39 9h1v1h-1zM40 9h1v1h-1zM43 10h1v1h-1zM44 10h1v1h-1zM46 11h1v1h-1zM49 13h1v1h-1zM52 16h1v1h-1zM53 18h1v2h-1z" color="#2ed381"/>
<path vector-effect="non-scaling-stroke" d="M13 42h1v2h-1zM14 45h1v1h-1zM16 46h1v1h-1zM17 30h1v7h-1zM18 21h1v1h-1zM18 28h1v2h-1zM19 11h1v1h-1zM19 23h1v4h-1zM19 47h1v1h-1zM20 47h1v1h-1zM21 47h1v1h-1zM22 48h1v1h-1zM24 9h1v1h-1zM25 9h1v1h-1zM25 50h1v1h-1zM26 9h1v1h-1zM26 51h1v1h-1zM27 9h1v1h-1zM27 52h1v1h-1zM31 10h1v1h-1zM32 10h1v1h-1zM33 10h1v1h-1zM34 10h1v1h-1zM35 10h1v1h-1zM36 10h1v1h-1zM37 10h1v1h-1zM38 10h1v1h-1zM39 10h1v1h-1zM40 10h1v1h-1zM41 10h1v1h-1zM42 10h1v1h-1zM45 11h1v1h-1zM47 12h1v1h-1zM50 14h1v1h-1zM51 15h1v1h-1zM52 17h1v1h-1zM53 20h1v4h-1z" color="#2cd384"/>
<path vector-effect="non-scaling-stroke" d="M13 44h1v1h-1zM14 39h1v1h-1zM16 29h1v7h-1zM16 47h1v1h-1zM17 14h1v2h-1zM17 18h1v3h-1zM17 27h1v2h-1zM18 23h1v3h-1zM19 48h1v1h-1zM20 48h1v1h-1zM22 9h1v1h-1zM22 49h1v1h-1zM23 50h1v1h-1zM24 51h1v1h-1zM30 9h1v1h-1zM31 9h1v1h-1zM32 9h1v1h-1zM33 9h1v1h-1zM34 9h1v1h-1zM35 9h1v1h-1zM36 9h1v1h-1zM41 9h1v1h-1zM42 9h1v1h-1zM43 9h1v1h-1zM45 10h1v1h-1zM48 12h1v1h-1zM50 13h1v1h-1zM51 14h1v1h-1zM52 15h1v1h-1zM53 17h1v1h-1zM54 20h1v1h-1z" color="#31d47e"/>
<path vector-effect="non-scaling-stroke" d="M14 40h1v1h-1zM15 39h1v1h-1zM16 38h1v1h-1zM17 37h1v1h-1zM17 46h1v1h-1zM18 13h1v1h-1zM18 20h1v1h-1zM18 30h1v2h-1zM18 46h1v1h-1zM19 22h1v1h-1zM19 27h1v2h-1zM19 46h1v1h-1zM20 24h1v3h-1zM20 46h1v1h-1zM21 10h1v1h-1zM22 47h1v1h-1zM23 48h1v1h-1zM24 49h1v1h-1zM27 51h1v1h-1zM28 52h1v1h-1zM29 10h1v1h-1zM30 10h1v1h-1zM43 11h1v1h-1zM44 11h1v1h-1zM46 12h1v1h-1zM48 13h1v1h-1zM51 16h1v1h-1zM52 18h1v2h-1z" color="#27d189"/>
<path vector-effect="non-scaling-stroke" d="M14 41h1v1h-1zM14 44h1v1h-1zM15 40h1v1h-1zM17 39h1v1h-1zM17 45h1v1h-1zM18 38h1v1h-1zM18 45h1v1h-1zM19 20h1v1h-1zM19 34h1v4h-1zM20 30h1v2h-1zM20 44h1v1h-1zM21 11h1v1h-1zM21 23h1v1h-1zM21 27h1v2h-1zM21 44h1v1h-1zM23 45h1v1h-1zM24 10h1v1h-1zM25 10h1v1h-1zM25 48h1v1h-1zM26 49h1v1h-1zM28 50h1v1h-1zM29 11h1v1h-1zM32 12h1v1h-1zM33 12h1v1h-1zM34 12h1v1h-1zM35 12h1v1h-1zM36 12h1v1h-1zM37 12h1v1h-1zM42 12h1v1h-1zM43 12h1v1h-1zM46 13h1v1h-1zM49 15h1v1h-1zM50 17h1v1h-1zM51 19h1v5h-1z" color="#1ecd94"/>
<path vector-effect="non-scaling-stroke" d="M14 42h1v2h-1zM17 41h1v1h-1zM17 44h1v1h-1zM20 13h1v1h-1zM20 19h1v1h-1zM22 33h1v7h-1zM23 30h1v1h-1zM23 40h1v2h-1zM24 24h1v4h-1zM24 43h1v1h-1zM26 46h1v1h-1zM27 12h1v1h-1zM28 48h1v1h-1zM29 13h1v1h-1zM30 49h1v1h-1zM31 14h1v1h-1zM32 14h1v1h-1zM38 14h1v1h-1zM45 14h1v1h-1zM48 17h1v1h-1zM49 20h1v4h-1zM50 27h1v2h-1z" color="#16c6a1"/>
<path vector-effect="non-scaling-stroke" d="M15 41h1v1h-1zM21 20h1v1h-1zM22 12h1v1h-1zM22 21h1v1h-1zM23 22h1v1h-1zM23 31h1v2h-1zM23 39h1v1h-1zM24 23h1v1h-1zM24 28h1v2h-1zM24 41h1v2h-1zM25 25h1v2h-1zM25 44h1v1h-1zM26 12h1v1h-1zM27 47h1v1h-1zM30 14h1v1h-1zM33 15h1v1h-1zM34 15h1v1h-1zM35 15h1v1h-1zM36 15h1v1h-1zM39 14h1v1h-1zM44 14h1v1h-1zM46 15h1v1h-1zM47 16h1v1h-1zM48 18h1v1h-1zM48 32h1v1h-1zM49 24h1v2h-1zM49 30h1v1h-1z" color="#15c4a3"/>
<path vector-effect="non-scaling-stroke" d="M15 42h1v1h-1zM23 14h1v1h-1zM27 36h1v3h-1zM28 33h1v1h-1zM28 42h1v1h-1zM30 31h1v1h-1zM34 31h1v1h-1zM38 31h1v1h-1zM40 20h1v1h-1zM40 30h1v1h-1zM41 21h1v1h-1zM41 30h1v1h-1zM43 21h1v1h-1zM43 30h1v1h-1zM44 31h1v1h-1z" color="#20a7c9"/>
<path vector-effect="non-scaling-stroke" d="M15 43h1v1h-1zM16 43h1v1h-1zM24 15h1v1h-1zM28 35h1v2h-1zM28 39h1v2h-1zM29 33h1v1h-1zM29 43h1v1h-1zM31 32h1v1h-1zM34 32h1v1h-1zM35 32h1v1h-1zM35 48h1v1h-1zM37 32h1v1h-1zM38 32h1v1h-1zM42 20h1v1h-1zM43 20h1v1h-1zM43 32h1v1h-1zM44 17h1v1h-1zM44 19h1v1h-1z" color="#269fd0"/>
<path vector-effect="non-scaling-stroke" d="M15 44h1v1h-1zM20 14h1v1h-1zM20 18h1v1h-1zM23 12h1v1h-1zM23 33h1v6h-1zM24 22h1v1h-1zM24 30h1v1h-1zM24 40h1v1h-1zM25 12h1v1h-1zM25 24h1v1h-1zM25 27h1v2h-1zM25 43h1v1h-1zM26 45h1v1h-1zM28 13h1v1h-1zM29 48h1v1h-1zM31 15h1v1h-1zM31 49h1v1h-1zM32 15h1v1h-1zM34 16h1v1h-1zM35 16h1v1h-1zM37 15h1v1h-1zM40 14h1v1h-1zM48 19h1v3h-1zM48 31h1v1h-1zM49 26h1v1h-1zM49 29h1v1h-1z" color="#15c1a7"/>
<path vector-effect="non-scaling-stroke" d="M15 45h1v1h-1zM16 39h1v1h-1zM18 15h1v3h-1zM18 37h1v1h-1zM19 31h1v3h-1zM19 45h1v1h-1zM20 22h1v1h-1zM20 28h1v2h-1zM20 45h1v1h-1zM21 24h1v3h-1zM21 45h1v1h-1zM22 45h1v1h-1zM23 10h1v1h-1zM23 46h1v1h-1zM24 47h1v1h-1zM26 10h1v1h-1zM27 10h1v1h-1zM27 50h1v1h-1zM29 51h1v1h-1zM30 11h1v1h-1zM30 51h1v1h-1zM31 11h1v1h-1zM44 12h1v1h-1zM48 14h1v1h-1zM50 16h1v1h-1zM51 18h1v1h-1zM52 25h1v2h-1z" color="#22cf8f"/>
<path vector-effect="non-scaling-stroke" d="M16 40h1v1h-1zM17 40h1v1h-1zM18 40h1v1h-1zM18 44h1v1h-1zM19 40h1v2h-1zM19 43h1v1h-1zM20 12h1v1h-1zM20 35h1v8h-1zM21 30h1v2h-1zM21 42h1v1h-1zM22 11h1v1h-1zM22 23h1v1h-1zM22 28h1v1h-1zM22 43h1v1h-1zM23 44h1v1h-1zM24 45h1v1h-1zM27 11h1v1h-1zM30 12h1v1h-1zM30 50h1v1h-1zM33 13h1v1h-1zM34 13h1v1h-1zM35 13h1v1h-1zM36 13h1v1h-1zM37 13h1v1h-1zM44 13h1v1h-1zM48 15h1v1h-1zM50 19h1v5h-1zM50 31h1v1h-1zM51 26h1v3h-1z" color="#1bca98"/>
<path vector-effect="non-scaling-stroke" d="M16 41h1v1h-1zM16 44h1v1h-1zM21 13h1v1h-1zM21 19h1v1h-1zM22 20h1v1h-1zM23 21h1v1h-1zM24 12h1v1h-1zM24 31h1v1h-1zM24 39h1v1h-1zM25 23h1v1h-1zM25 29h1v1h-1zM25 42h1v1h-1zM26 24h1v4h-1zM27 13h1v1h-1zM27 46h1v1h-1zM28 47h1v1h-1zM29 14h1v1h-1zM30 15h1v1h-1zM32 16h1v1h-1zM33 16h1v1h-1zM36 16h1v1h-1zM37 16h1v1h-1zM38 15h1v1h-1zM41 14h1v1h-1zM42 14h1v1h-1zM43 14h1v1h-1zM47 17h1v1h-1zM47 33h1v4h-1zM48 22h1v3h-1zM49 27h1v2h-1z" color="#15c0a9"/>
<path vector-effect="non-scaling-stroke" d="M16 42h1v1h-1zM24 17h1v1h-1zM29 32h1v1h-1zM29 44h1v1h-1zM31 31h1v1h-1zM32 31h1v1h-1zM32 47h1v1h-1zM33 31h1v1h-1zM34 48h1v1h-1zM39 31h1v1h-1zM40 18h1v2h-1zM42 21h1v1h-1zM42 30h1v1h-1zM43 31h1v1h-1zM44 20h1v1h-1zM44 32h1v2h-1zM44 36h1v5h-1z" color="#22a5cb"/>
<path vector-effect="non-scaling-stroke" d="M16 45h1v1h-1zM18 39h1v1h-1zM19 13h1v1h-1zM19 19h1v1h-1zM19 38h1v2h-1zM19 44h1v1h-1zM20 21h1v1h-1zM20 32h1v3h-1zM20 43h1v1h-1zM21 22h1v1h-1zM21 29h1v1h-1zM21 43h1v1h-1zM22 24h1v4h-1zM22 44h1v1h-1zM24 46h1v1h-1zM25 47h1v1h-1zM26 48h1v1h-1zM27 49h1v1h-1zM28 11h1v1h-1zM29 50h1v1h-1zM31 12h1v1h-1zM38 12h1v1h-1zM39 12h1v1h-1zM40 12h1v1h-1zM41 12h1v1h-1zM45 13h1v1h-1zM47 14h1v1h-1zM49 16h1v1h-1zM49 33h1v1h-1zM50 18h1v1h-1zM51 24h1v2h-1zM51 29h1v1h-1z" color="#1ccb96"/>
<path vector-effect="non-scaling-stroke" d="M17 38h1v1h-1zM18 14h1v1h-1zM18 18h1v2h-1zM18 32h1v5h-1zM19 12h1v1h-1zM19 21h1v1h-1zM19 29h1v2h-1zM20 11h1v1h-1zM20 23h1v1h-1zM20 27h1v1h-1zM21 46h1v1h-1zM22 10h1v1h-1zM22 46h1v1h-1zM23 47h1v1h-1zM24 48h1v1h-1zM25 49h1v1h-1zM26 50h1v1h-1zM28 10h1v1h-1zM28 51h1v1h-1zM32 11h1v1h-1zM33 11h1v1h-1zM34 11h1v1h-1zM35 11h1v1h-1zM36 11h1v1h-1zM37 11h1v1h-1zM38 11h1v1h-1zM39 11h1v1h-1zM40 11h1v1h-1zM41 11h1v1h-1zM42 11h1v1h-1zM45 12h1v1h-1zM47 13h1v1h-1zM49 14h1v1h-1zM50 15h1v1h-1zM51 17h1v1h-1zM52 20h1v5h-1z" color="#24d08c"/>
<path vector-effect="non-scaling-stroke" d="M17 42h1v2h-1zM20 17h1v1h-1zM24 21h1v1h-1zM24 32h1v2h-1zM24 38h1v1h-1zM25 22h1v1h-1zM25 30h1v1h-1zM25 41h1v1h-1zM26 13h1v1h-1zM26 23h1v1h-1zM26 28h1v1h-1zM26 44h1v1h-1zM27 24h1v3h-1zM28 14h1v1h-1zM29 15h1v1h-1zM31 16h1v1h-1zM32 17h1v1h-1zM32 49h1v1h-1zM33 17h1v1h-1zM34 17h1v1h-1zM35 17h1v1h-1zM36 17h1v1h-1zM39 15h1v1h-1zM45 15h1v1h-1zM46 16h1v1h-1zM47 18h1v1h-1zM47 32h1v1h-1zM48 25h1v1h-1zM48 30h1v1h-1z" color="#15bfab"/>
<path vector-effect="non-scaling-stroke" d="M18 41h1v1h-1zM19 14h1v1h-1zM19 18h1v1h-1zM19 42h1v1h-1zM20 20h1v1h-1zM21 21h1v1h-1zM21 32h1v5h-1zM21 38h1v4h-1zM22 22h1v1h-1zM22 29h1v2h-1zM22 41h1v2h-1zM23 11h1v1h-1zM23 24h1v4h-1zM23 43h1v1h-1zM24 44h1v1h-1zM25 11h1v1h-1zM25 46h1v1h-1zM26 11h1v1h-1zM26 47h1v1h-1zM27 48h1v1h-1zM28 49h1v1h-1zM29 12h1v1h-1zM31 13h1v1h-1zM31 50h1v1h-1zM32 13h1v1h-1zM38 13h1v1h-1zM39 13h1v1h-1zM43 13h1v1h-1zM46 14h1v1h-1zM49 17h1v1h-1zM49 32h1v1h-1zM50 24h1v1h-1zM50 30h1v1h-1z" color="#19c99b"/>
<path vector-effect="non-scaling-stroke" d="M18 42h1v2h-1zM19 15h1v3h-1zM21 12h1v1h-1zM21 37h1v1h-1zM22 31h1v2h-1zM22 40h1v1h-1zM23 23h1v1h-1zM23 28h1v2h-1zM23 42h1v1h-1zM24 11h1v1h-1zM25 45h1v1h-1zM28 12h1v1h-1zM29 49h1v1h-1zM30 13h1v1h-1zM33 14h1v1h-1zM34 14h1v1h-1zM35 14h1v1h-1zM36 14h1v1h-1zM37 14h1v1h-1zM40 13h1v1h-1zM41 13h1v1h-1zM42 13h1v1h-1zM47 15h1v1h-1zM48 16h1v1h-1zM48 33h1v3h-1zM49 18h1v2h-1zM49 31h1v1h-1zM50 25h1v2h-1zM50 29h1v1h-1z" color="#17c79f"/>
<path vector-effect="non-scaling-stroke" d="M20 15h1v2h-1zM23 20h1v1h-1zM24 34h1v4h-1zM25 21h1v1h-1zM25 31h1v1h-1zM25 40h1v1h-1zM26 22h1v1h-1zM26 29h1v1h-1zM26 43h1v1h-1zM27 14h1v1h-1zM27 22h1v2h-1zM27 27h1v1h-1zM27 45h1v1h-1zM28 23h1v4h-1zM29 24h1v2h-1zM30 16h1v1h-1zM30 48h1v1h-1zM31 17h1v1h-1zM32 18h1v1h-1zM33 18h1v1h-1zM34 18h1v1h-1zM35 18h1v1h-1zM37 17h1v1h-1zM38 16h1v1h-1zM47 19h1v5h-1zM48 26h1v1h-1zM48 29h1v1h-1z" color="#15bdae"/>
<path vector-effect="non-scaling-stroke" d="M21 14h1v1h-1zM23 19h1v1h-1zM25 35h1v2h-1zM26 32h1v1h-1zM26 40h1v1h-1zM27 19h1v1h-1zM27 30h1v1h-1zM28 17h1v3h-1zM28 29h1v1h-1zM28 45h1v1h-1zM29 28h1v1h-1zM30 28h1v1h-1zM33 27h1v1h-1zM34 27h1v2h-1zM35 27h1v2h-1zM36 20h1v9h-1zM37 19h1v1h-1zM38 18h1v1h-1zM43 15h1v1h-1zM45 16h1v1h-1zM46 18h1v1h-1zM46 20h1v6h-1zM46 32h1v2h-1zM47 27h1v3h-1z" color="#17b6b7"/>
<path vector-effect="non-scaling-stroke" d="M21 15h1v1h-1zM23 18h1v1h-1zM24 14h1v1h-1zM24 18h1v1h-1zM25 15h1v1h-1zM27 33h1v1h-1zM27 40h1v1h-1zM29 45h1v1h-1zM30 30h1v1h-1zM31 30h1v1h-1zM31 47h1v1h-1zM32 30h1v1h-1zM33 30h1v1h-1zM38 30h1v1h-1zM39 19h1v3h-1zM39 29h1v1h-1zM40 22h1v2h-1zM40 29h1v1h-1zM41 23h1v2h-1zM41 28h1v1h-1zM42 23h1v2h-1zM42 27h1v2h-1zM43 23h1v1h-1zM43 28h1v1h-1zM44 16h1v1h-1zM44 22h1v1h-1zM44 28h1v2h-1zM45 19h1v2h-1zM45 31h1v4h-1z" color="#1cadc2"/>
<path vector-effect="non-scaling-stroke" d="M21 16h1v1h-1zM22 14h1v1h-1zM25 16h1v2h-1zM27 34h1v2h-1zM27 39h1v1h-1zM28 32h1v1h-1zM28 43h1v1h-1zM29 31h1v1h-1zM30 46h1v1h-1zM33 48h1v1h-1zM35 31h1v1h-1zM36 31h1v1h-1zM37 31h1v1h-1zM39 30h1v1h-1zM40 17h1v1h-1zM40 21h1v1h-1zM41 16h1v1h-1zM41 22h1v1h-1zM41 29h1v1h-1zM42 22h1v1h-1zM42 29h1v1h-1zM43 22h1v1h-1zM43 29h1v1h-1zM44 21h1v1h-1zM44 30h1v1h-1zM45 18h1v1h-1z" color="#1fa9c7"/>
<path vector-effect="non-scaling-stroke" d="M21 17h1v1h-1zM22 18h1v1h-1zM26 18h1v1h-1zM26 34h1v2h-1zM26 37h1v2h-1zM27 42h1v1h-1zM28 30h1v1h-1zM30 29h1v1h-1zM31 29h1v1h-1zM32 29h1v1h-1zM32 48h1v1h-1zM33 29h1v1h-1zM34 29h1v1h-1zM36 30h1v1h-1zM37 29h1v1h-1zM38 19h1v6h-1zM38 28h1v2h-1zM39 24h1v4h-1zM45 22h1v2h-1zM45 25h1v3h-1zM46 28h1v2h-1z" color="#1ab1be"/>
<path vector-effect="non-scaling-stroke" d="M21 18h1v1h-1zM22 13h1v1h-1zM22 19h1v1h-1zM24 20h1v1h-1zM25 13h1v1h-1zM25 32h1v1h-1zM25 39h1v1h-1zM26 21h1v1h-1zM26 30h1v1h-1zM26 42h1v1h-1zM27 21h1v1h-1zM27 28h1v1h-1zM28 15h1v1h-1zM28 22h1v1h-1zM28 27h1v1h-1zM28 46h1v1h-1zM29 16h1v1h-1zM29 22h1v2h-1zM29 26h1v1h-1zM29 47h1v1h-1zM30 17h1v1h-1zM30 21h1v6h-1zM31 18h1v9h-1zM32 19h1v7h-1zM33 19h1v3h-1zM33 23h1v2h-1zM34 19h1v2h-1zM35 19h1v1h-1zM36 18h1v1h-1zM40 15h1v1h-1zM44 15h1v1h-1zM47 24h1v2h-1zM47 31h1v1h-1zM48 27h1v2h-1z" color="#16bab2"/>
<path vector-effect="non-scaling-stroke" d="M22 15h1v1h-1zM31 44h1v1h-1zM33 46h1v1h-1zM36 47h1v1h-1zM41 34h1v1h-1zM42 36h1v6h-1z" color="#3190da"/>
<path vector-effect="non-scaling-stroke" d="M22 16h1v1h-1zM30 38h1v3h-1zM31 43h1v1h-1zM35 46h1v1h-1zM36 46h1v1h-1zM40 35h1v1h-1zM40 44h1v1h-1zM41 36h1v1h-1zM41 43h1v1h-1z" color="#3687dd"/>
<path vector-effect="non-scaling-stroke" d="M22 17h1v1h-1zM28 34h1v1h-1zM28 41h1v1h-1zM30 32h1v1h-1zM30 45h1v1h-1zM31 46h1v1h-1zM36 32h1v1h-1zM40 31h1v1h-1zM41 20h1v1h-1zM41 31h1v1h-1zM42 16h1v1h-1zM42 31h1v1h-1zM43 16h1v1h-1zM44 34h1v2h-1z" color="#23a3cd"/>
<path vector-effect="non-scaling-stroke" d="M23 13h1v1h-1zM24 13h1v1h-1zM25 20h1v1h-1zM25 33h1v2h-1zM25 37h1v2h-1zM26 14h1v1h-1zM26 20h1v1h-1zM26 31h1v1h-1zM26 41h1v1h-1zM27 15h1v1h-1zM27 20h1v1h-1zM27 29h1v1h-1zM27 44h1v1h-1zM28 16h1v1h-1zM28 20h1v2h-1zM28 28h1v1h-1zM29 17h1v5h-1zM29 27h1v1h-1zM30 18h1v3h-1zM30 27h1v1h-1zM31 27h1v1h-1zM31 48h1v1h-1zM32 26h1v2h-1zM33 22h1v1h-1zM33 25h1v2h-1zM33 49h1v1h-1zM34 21h1v6h-1zM35 20h1v7h-1zM36 19h1v1h-1zM37 18h1v1h-1zM38 17h1v1h-1zM39 16h1v1h-1zM41 15h1v1h-1zM46 17h1v1h-1zM46 34h1v4h-1zM47 26h1v1h-1zM47 30h1v1h-1z" color="#16b8b5"/>
<path vector-effect="non-scaling-stroke" d="M23 15h1v1h-1zM30 36h1v1h-1zM30 42h1v1h-1zM32 34h1v1h-1zM32 45h1v1h-1zM33 34h1v1h-1zM39 34h1v1h-1zM40 34h1v1h-1zM41 35h1v1h-1zM42 42h1v1h-1z" color="#348cdc"/>
<path vector-effect="non-scaling-stroke" d="M23 16h1v1h-1zM31 36h1v1h-1zM32 35h1v1h-1zM32 44h1v1h-1zM33 45h1v1h-1zM38 45h1v1h-1zM39 44h1v1h-1zM41 37h1v6h-1zM42 17h1v1h-1zM43 17h1v1h-1z" color="#3883de"/>
<path vector-effect="non-scaling-stroke" d="M23 17h1v1h-1zM24 16h1v1h-1zM28 37h1v2h-1zM29 34h1v1h-1zM32 32h1v1h-1zM33 32h1v1h-1zM33 47h1v1h-1zM39 32h1v1h-1zM40 32h1v1h-1zM41 17h1v1h-1zM41 19h1v1h-1zM41 32h1v1h-1zM42 32h1v1h-1zM43 33h1v1h-1z" color="#289dd2"/>
<path vector-effect="non-scaling-stroke" d="M24 19h1v1h-1zM25 14h1v1h-1zM25 19h1v1h-1zM26 15h1v1h-1zM26 19h1v1h-1zM26 33h1v1h-1zM26 39h1v1h-1zM27 16h1v3h-1zM27 31h1v1h-1zM27 43h1v1h-1zM29 29h1v1h-1zM29 46h1v1h-1zM30 47h1v1h-1zM31 28h1v1h-1zM32 28h1v1h-1zM33 28h1v1h-1zM35 29h1v1h-1zM36 29h1v1h-1zM37 20h1v9h-1zM38 25h1v3h-1zM39 17h1v1h-1zM40 16h1v1h-1zM42 15h1v1h-1zM45 24h1v1h-1zM46 19h1v1h-1zM46 26h1v2h-1zM46 30h1v2h-1z" color="#19b3bc"/>
<path vector-effect="non-scaling-stroke" d="M25 18h1v1h-1zM26 16h1v2h-1zM26 36h1v1h-1zM27 32h1v1h-1zM27 41h1v1h-1zM28 31h1v1h-1zM28 44h1v1h-1zM29 30h1v1h-1zM34 30h1v1h-1zM35 30h1v1h-1zM37 30h1v1h-1zM39 18h1v1h-1zM39 22h1v2h-1zM39 28h1v1h-1zM40 24h1v5h-1zM41 25h1v3h-1zM42 25h1v2h-1zM43 24h1v4h-1zM44 23h1v5h-1zM45 17h1v1h-1zM45 21h1v1h-1zM45 28h1v3h-1zM45 35h1v4h-1z" color="#1bafc0"/>
<path vector-effect="non-scaling-stroke" d="M29 35h1v1h-1zM29 42h1v1h-1zM30 33h1v1h-1zM30 44h1v1h-1zM42 33h1v1h-1zM43 34h1v7h-1zM44 18h1v1h-1z" color="#299bd4"/>
<path vector-effect="non-scaling-stroke" d="M29 36h1v2h-1zM29 40h1v1h-1zM30 34h1v1h-1zM30 43h1v1h-1zM32 33h1v1h-1zM33 33h1v1h-1zM34 33h1v1h-1zM34 47h1v1h-1zM35 33h1v1h-1zM36 33h1v1h-1zM37 33h1v1h-1zM38 33h1v1h-1zM39 33h1v1h-1zM40 33h1v1h-1zM41 18h1v1h-1zM42 34h1v1h-1z" color="#2e94d8"/>
<path vector-effect="non-scaling-stroke" d="M29 38h1v2h-1zM30 35h1v1h-1zM31 34h1v1h-1zM35 47h1v1h-1zM42 19h1v1h-1zM42 35h1v1h-1zM43 19h1v1h-1z" color="#2f92d9"/>
<path vector-effect="non-scaling-stroke" d="M29 41h1v1h-1zM31 33h1v1h-1zM31 45h1v1h-1zM32 46h1v1h-1zM41 33h1v1h-1zM43 41h1v1h-1z" color="#2c97d7"/>
<path vector-effect="non-scaling-stroke" d="M30 37h1v1h-1zM30 41h1v1h-1zM31 35h1v1h-1zM34 34h1v1h-1zM34 46h1v1h-1zM35 34h1v1h-1zM36 34h1v1h-1zM37 34h1v1h-1zM37 46h1v1h-1zM38 34h1v1h-1z" color="#3589dd"/>
<path vector-effect="non-scaling-stroke" d="M31 37h1v1h-1zM34 35h1v1h-1zM34 45h1v1h-1zM35 45h1v1h-1zM36 45h1v1h-1zM37 35h1v1h-1zM38 35h1v1h-1zM38 44h1v1h-1zM40 36h1v1h-1zM40 42h1v1h-1z" color="#3a7edd"/>
<path vector-effect="non-scaling-stroke" d="M31 38h1v1h-1zM37 44h1v1h-1zM38 43h1v1h-1zM39 36h1v1h-1zM40 38h1v3h-1zM42 18h1v1h-1z" color="#3c78db"/>
<path vector-effect="non-scaling-stroke" d="M31 39h1v2h-1zM33 36h1v1h-1zM34 44h1v1h-1zM36 44h1v1h-1zM38 36h1v1h-1zM39 42h1v1h-1z" color="#3d76da"/>
<path vector-effect="non-scaling-stroke" d="M31 41h1v1h-1zM32 36h1v1h-1zM32 43h1v1h-1zM33 44h1v1h-1zM35 35h1v1h-1zM36 35h1v1h-1zM39 43h1v1h-1zM40 37h1v1h-1zM40 41h1v1h-1zM43 18h1v1h-1z" color="#3b7cdd"/>
<path vector-effect="non-scaling-stroke" d="M31 42h1v1h-1zM33 35h1v1h-1zM37 45h1v1h-1zM39 35h1v1h-1zM40 43h1v1h-1z" color="#3981de"/>
<path vector-effect="non-scaling-stroke" d="M32 37h1v1h-1zM32 42h1v1h-1zM33 43h1v1h-1zM35 44h1v1h-1zM37 36h1v1h-1zM39 37h1v1h-1zM39 41h1v1h-1z" color="#3d74d9"/>
<path vector-effect="non-scaling-stroke" d="M32 38h1v1h-1zM32 41h1v1h-1zM33 37h1v1h-1zM34 43h1v1h-1zM35 43h1v1h-1zM38 41h1v1h-1z" color="#3d6bd3"/>
<path vector-effect="non-scaling-stroke" d="M32 39h1v2h-1zM38 39h1v2h-1z" color="#3d64cd"/>
<path vector-effect="non-scaling-stroke" d="M33 38h1v1h-1zM33 41h1v1h-1zM35 42h1v1h-1z" color="#3d5dc6"/>
<path vector-effect="non-scaling-stroke" d="M33 39h1v1h-1zM34 38h1v1h-1zM34 41h1v1h-1zM35 38h1v1h-1zM35 41h1v1h-1z" color="#3c4db1"/>
<path vector-effect="non-scaling-stroke" d="M33 40h1v1h-1z" color="#3c50b4"/>
<path vector-effect="non-scaling-stroke" d="M33 42h1v1h-1zM37 37h1v1h-1zM37 42h1v1h-1zM38 38h1v1h-1z" color="#3d69d1"/>
<path vector-effect="non-scaling-stroke" d="M34 36h1v1h-1zM35 36h1v1h-1zM36 36h1v1h-1zM37 43h1v1h-1zM38 42h1v1h-1zM39 40h1v1h-1z" color="#3d6fd6"/>
<path vector-effect="non-scaling-stroke" d="M34 37h1v1h-1zM36 37h1v1h-1zM36 42h1v1h-1z" color="#3d62cb"/>
<path vector-effect="non-scaling-stroke" d="M34 39h1v1h-1z" color="#352e79"/>
<path vector-effect="non-scaling-stroke" d="M34 40h1v1h-1zM35 39h1v1h-1z" color="#373688"/>
<path vector-effect="non-scaling-stroke" d="M34 42h1v1h-1zM35 37h1v1h-1zM37 38h1v1h-1zM37 41h1v1h-1z" color="#3d60c8"/>
<path vector-effect="non-scaling-stroke" d="M35 40h1v1h-1z" color="#38388d"/>
<path vector-effect="non-scaling-stroke" d="M36 38h1v1h-1zM36 41h1v1h-1z" color="#3d57bd"/>
<path vector-effect="non-scaling-stroke" d="M36 39h1v2h-1z" color="#3b4bad"/>
<path vector-effect="non-scaling-stroke" d="M36 43h1v1h-1zM38 37h1v1h-1zM39 38h1v2h-1z" color="#3d6dd5"/>
<path vector-effect="non-scaling-stroke" d="M37 39h1v2h-1z" color="#3d59c0"/>
<path vector-effect="non-scaling-stroke" d="M56 5h1v1h-1z" color="#c0c32f"/>
</g>
<rect x="262.7" y="138.5" width="3" height="17" fill="#980d12"/>
<rect x="335.5" y="126.9" width="3" height="17" fill="#980d12"/>
<rect x="268" y="163.8" width="3" height="17" fill="#980d12"/>
<rect x="364.1" y="160.2" width="3" height="17" fill="#980d12"/>
<rect x="294.8" y="188" width="3" height="17" fill="#980d12"/>
<rect x="374.5" y="197.1" width="3" height="17" fill="#980d12"/>
<rect x="260.7" y="217.1" width="3" height="17" fill="#980d12"/>
<rect x="455.9" y="159.9" width="3" height="17" fill="#980d12"/>
<rect x="93.9" y="151.1" width="3" height="17" fill="#980d12"/>
<rect x="201.9" y="125.6" width="3" height="17" fill="#980d12"/>
<rect x="180.9" y="157.3" width="3" height="17" fill="#980d12"/>
<rect x="153.5" y="186.2" width="3" height="17" fill="#980d12"/>
<polyline points="46.3,343.5 259.6,440.4 509.5,358" fill="none" stroke="#000" stroke-width="1"/>
<line x1="271" y1="436.7" x2="276.6" y2="439.2" stroke="#000" stroke-width="1"/>
<text x="281.1" y="454.4" text-anchor="start">0</text>
<line x1="365.6" y1="405.4" x2="371.3" y2="408" stroke="#000" stroke-width="1"/>
<text x="375.7" y="423.1" text-anchor="start">200</text>
<line x1="460.3" y1="374.2" x2="465.9" y2="376.8" stroke="#000" stroke-width="1"/>
<text x="470.4" y="391.9" text-anchor="start">400</text>
<line x1="249.9" y1="436" x2="244" y2="437.9" stroke="#000" stroke-width="1"/>
<text x="239.4" y="453" text-anchor="end">0</text>
<line x1="169.1" y1="399.3" x2="163.2" y2="401.2" stroke="#000" stroke-width="1"/>
<text x="158.6" y="416.3" text-anchor="end">200</text>
<line x1="88.3" y1="362.6" x2="82.4" y2="364.5" stroke="#000" stroke-width="1"/>
<text x="77.8" y="379.6" text-anchor="end">400</text>
<line x1="46.2" y1="168.3" x2="40" y2="170.3" stroke="#000" stroke-width="1"/>
<text x="31" y="178.1" text-anchor="end">4000</text>
<line x1="46.2" y1="228.1" x2="40" y2="230.1" stroke="#000" stroke-width="1"/>
<text x="31" y="237.9" text-anchor="end">4010</text>
<line x1="46.3" y1="287.8" x2="40.1" y2="289.8" stroke="#000" stroke-width="1"/>
<text x="31.1" y="297.6" text-anchor="end">4020</text>
<text transform="translate(400.6,450.4) rotate(-18)" text-anchor="middle">x</text>
<text transform="translate(131.6,440.8) rotate(24)" text-anchor="middle">y</text>
<line x1="813" y1="436.7" x2="599.7" y2="339.8" stroke="#000" stroke-width="1" stroke-opacity="0.12"/>
<line x1="599.7" y1="339.8" x2="599.6" y2="137.7" stroke="#000" stroke-width="1" stroke-opacity="0.12"/>
<line x1="907.6" y1="405.4" x2="694.4" y2="308.8" stroke="#000" stroke-width="1" stroke-opacity="0.12"/>
<line x1="694.4" y1="308.8" x2="694.3" y2="107" stroke="#000" stroke-width="1" stroke-opacity="0.12"/>
<line x1="1002.3" y1="374.2" x2="789.1" y2="277.8" stroke="#000" stroke-width="1" stroke-opacity="0.12"/>
<line x1="789.1" y1="277.8" x2="789.1" y2="76.4" stroke="#000" stroke-width="1" stroke-opacity="0.12"/>
<line x1="791.9" y1="436" x2="1041.8" y2="353.6" stroke="#000" stroke-width="1" stroke-opacity="0.12"/>
<line x1="1041.8" y1="353.6" x2="1042.3" y2="151.1" stroke="#000" stroke-width="1" stroke-opacity="0.12"/>
<line x1="711.1" y1="399.3" x2="961.1" y2="317.1" stroke="#000" stroke-width="1" stroke-opacity="0.12"/>
<line x1="961.1" y1="317.1" x2="961.4" y2="115.1" stroke="#000" stroke-width="1" stroke-opacity="0.12"/>
<line x1="630.3" y1="362.6" x2="880.4" y2="280.7" stroke="#000" stroke-width="1" stroke-opacity="0.12"/>
<line x1="880.4" y1="280.7" x2="880.5" y2="79.1" stroke="#000" stroke-width="1" stroke-opacity="0.12"/>
<line x1="588.2" y1="168.3" x2="838.4" y2="87.2" stroke="#000" stroke-width="1" stroke-opacity="0.12"/>
<line x1="838.4" y1="87.2" x2="1051.9" y2="182.4" stroke="#000" stroke-width="1" stroke-opacity="0.12"/>
<line x1="588.2" y1="228.1" x2="838.4" y2="146.7" stroke="#000" stroke-width="1" stroke-opacity="0.12"/>
<line x1="838.4" y1="146.7" x2="1051.8" y2="242.3" stroke="#000" stroke-width="1" stroke-opacity="0.12"/>
<line x1="588.3" y1="287.8" x2="838.4" y2="206.2" stroke="#000" stroke-width="1" stroke-opacity="0.12"/>
<line x1="838.4" y1="206.2" x2="1051.6" y2="302.2" stroke="#000" stroke-width="1" stroke-opacity="0.12"/>
<polyline points="588.3,343.5 588.2,141.4 838.4,60.4 1052,155.4 1051.5,358" fill="none" stroke="#000" stroke-width="1" stroke-linejoin="miter"/>
<polyline points="838.4,60.4 838.4,261.7" fill="none" stroke="#000" stroke-width="1" stroke-linejoin="miter"/>
<polyline points="588.3,343.5 838.4,261.7 1051.5,358" fill="none" stroke="#000" stroke-width="1" stroke-linejoin="miter"/>
<g fill="currentColor" stroke="currentColor" stroke-width="1" stroke-linejoin="round">
<path d="M1003,321.9 1006.7,320.6 1006.7,344.5 1003,345.8z" color="#891a0b"/>
<path d="M1002.4,324.6 1006.2,323.3 1006.2,347.2 1002.4,348.5z" color="#95210b"/>
<path d="M1001.8,327.3 1005.6,326 1005.6,349.9 1001.8,351.2z" color="#95210b"/>
<path d="M998,328.5 1001.8,327.3 1001.8,351.2 998,352.4z" color="#95210b"/>
<path d="M994.3,329.8 998,328.5 998,352.4 994.3,353.7z" color="#a32b0d"/>
<path d="M990.5,331 994.3,329.8 994.3,353.7 990.5,354.9z" color="#a32b0d"/>
<path d="M986.7,332.2 990.5,331 990.5,354.9 986.7,356.1z" color="#a32b0d"/>
<path d="M982.9,333.5 986.7,332.2 986.7,356.1 982.9,357.4z" color="#b53e12"/>
<path d="M982.3,336.2 986.1,335 986.1,358.9 982.3,360.1z" color="#c05219"/>
<path d="M978.6,337.4 982.3,336.2 982.3,360.1 978.6,361.3z" color="#c05219"/>
<path d="M974.8,338.7 978.6,337.4 978.6,361.3 974.8,362.6z" color="#b84313"/>
<path d="M971,339.9 974.8,338.7 974.8,362.6 971,363.8z" color="#b84313"/>
<path d="M967.2,341.2 971,339.9 971,363.8 967.2,365.1z" color="#b84313"/>
<path d="M963.4,342.4 967.2,341.2 967.2,365.1 963.4,366.3z" color="#bd4c17"/>
<path d="M959.6,343.7 963.4,342.4 963.4,366.3 959.6,367.6z" color="#bd4c17"/>
<path d="M955.8,344.9 959.6,343.7 959.6,367.6 955.8,368.8z" color="#bd4c17"/>
<path d="M952,346.1 955.8,344.9 955.8,368.8 952,370z" color="#c1561b"/>
<path d="M948.3,347.4 952,346.1 952,370 948.3,371.3z" color="#c1561b"/>
<path d="M944.5,348.6 948.3,347.4 948.3,371.3 944.5,372.5z" color="#c1561b"/>
<path d="M940.7,349.9 944.5,348.6 944.5,372.5 940.7,373.8z" color="#c56421"/>
<path d="M936.9,351.1 940.7,349.9 940.7,373.8 936.9,375z" color="#c56421"/>
<path d="M936.3,353.8 940.1,352.6 940.1,376.5 936.3,377.7z" color="#c56421"/>
<path d="M932.5,355.1 936.3,353.8 936.3,377.7 932.5,379z" color="#c66823"/>
<path d="M928.8,356.3 932.5,355.1 932.5,379 928.8,380.2z" color="#c66823"/>
<path d="M925,357.5 928.8,356.3 928.8,380.2 925,381.4z" color="#c66823"/>
<path d="M921.2,358.8 925,357.5 925,381.4 921.2,382.7z" color="#c35d1e"/>
<path d="M917.4,360 921.2,358.8 921.2,382.7 917.4,383.9z" color="#c35d1e"/>
<path d="M913.6,361.3 917.4,360 917.4,383.9 913.6,385.2z" color="#c35d1e"/>
<path d="M909.8,362.5 913.6,361.3 913.6,385.2 909.8,386.4z" color="#c35d1e"/>
<path d="M906,363.8 909.8,362.5 909.8,386.4 906,387.6z" color="#c35d1e"/>
<path d="M902.2,365 899,363.5 899,387.4 902.2,388.9z" color="#a04e1c"/>
<path d="M902.2,365 906,363.8 906,387.6 902.2,388.9z" color="#c35d1e"/>
<path d="M895.2,364.8 899,363.5 899,387.4 895.2,388.7z" color="#bd4c17"/>
<path d="M891.4,366 895.2,364.8 895.2,388.7 891.4,389.9z" color="#bd4c17"/>
<path d="M887.6,367.3 891.4,366 891.4,389.9 887.6,391.2z" color="#bd4c17"/>
<path d="M883.9,368.5 887.6,367.3 887.6,391.2 883.9,392.4z" color="#b53e12"/>
<path d="M880.1,369.7 883.9,368.5 883.9,392.4 880.1,393.6z" color="#b53e12"/>
<path d="M876.3,371 880.1,369.7 880.1,393.6 876.3,394.9z" color="#b53e12"/>
<path d="M872.5,372.2 869.3,370.8 869.3,394.7 872.5,396.1z" color="#923211"/>
<path d="M872.5,372.2 876.3,371 876.3,394.9 872.5,396.1z" color="#b13910"/>
<path d="M865.5,372 869.3,370.8 869.3,394.7 865.5,395.9z" color="#b13910"/>
<path d="M861.7,373.2 865.5,372 865.5,395.9 861.7,397.1z" color="#b13910"/>
<path d="M857.9,374.5 854.7,373 854.7,396.9 857.9,398.4z" color="#8c2c10"/>
<path d="M857.9,374.5 861.7,373.2 861.7,397.1 857.9,398.4z" color="#ab320e"/>
<path d="M850.9,374.3 854.7,373 854.7,396.9 850.9,398.2z" color="#ab320e"/>
<path d="M847.1,375.5 843.9,374.1 843.9,398 847.1,399.4z" color="#8c2c10"/>
<path d="M847.1,375.5 850.9,374.3 850.9,398.2 847.1,399.4z" color="#ab320e"/>
<path d="M840.1,375.3 843.9,374.1 843.9,398 840.1,399.2z" color="#af360f"/>
<path d="M836.3,376.5 833.1,375.1 833.1,399 836.3,400.4z" color="#902f10"/>
<path d="M836.3,376.5 840.1,375.3 840.1,399.2 836.3,400.4z" color="#af360f"/>
<path d="M829.3,376.3 833.1,375.1 833.1,399 829.3,400.2z" color="#9e270c"/>
<path d="M825.5,377.6 822.2,376.1 822.2,400 825.5,401.5z" color="#72190d"/>
<path d="M825.5,377.6 829.3,376.3 829.3,400.2 825.5,401.5z" color="#891a0b"/>
<path d="M818.5,377.3 822.2,376.1 822.2,400 818.5,401.2z" color="#891a0b"/>
<path d="M814.7,378.6 811.4,377.1 811.4,401 814.7,402.5z" color="#72190d"/>
<path d="M814.7,378.6 818.5,377.3 818.5,401.2 814.7,402.5z" color="#891a0b"/>
<path d="M807.6,378.4 804.4,376.9 804.4,400.8 807.6,402.3z" color="#6e170d"/>
<path d="M807.6,378.4 811.4,377.1 811.4,401 807.6,402.3z" color="#85180b"/>
<path d="M800.6,378.1 797.4,376.7 797.4,400.6 800.6,402z" color="#60110d"/>
<path d="M800.6,378.1 804.4,376.9 804.4,400.8 800.6,402z" color="#72110b"/>
<path d="M793.6,377.9 790.4,376.5 790.4,400.4 793.6,401.8z" color="#60110d"/>
<path d="M793.6,377.9 797.4,376.7 797.4,400.6 793.6,401.8z" color="#72110b"/>
<path d="M634.7,309 631.5,307.5 631.5,331.4 634.7,332.9z" color="#63130d"/>
<path d="M786.6,377.7 780.1,374.8 780.1,398.7 786.6,401.6z" color="#72190d"/>
<path d="M786.6,377.7 790.4,376.5 790.4,400.4 786.6,401.6z" color="#891a0b"/>
<path d="M769.9,373.1 766.6,371.6 766.6,395.5 769.9,397z" color="#771b0d"/>
<path d="M776.3,376 769.9,373.1 769.9,397 776.3,399.9z" color="#72190d"/>
<path d="M776.3,376 780.1,374.8 780.1,398.7 776.3,399.9z" color="#891a0b"/>
<path d="M630.4,312.9 627.1,311.5 627.1,335.4 630.4,336.8z" color="#63130d"/>
<path d="M633.6,314.4 630.4,312.9 630.4,336.8 633.6,338.3z" color="#69150d"/>
<path d="M756.4,370 753.2,368.5 753.2,392.4 756.4,393.9z" color="#7b1e0d"/>
<path d="M762.9,372.9 756.4,370 756.4,393.9 762.9,396.8z" color="#771b0d"/>
<path d="M762.9,372.9 766.6,371.6 766.6,395.5 762.9,396.8z" color="#8f1d0b"/>
<path d="M636.3,318.6 629.8,315.6 629.8,339.5 636.3,342.5z" color="#69150d"/>
<path d="M655.6,327.3 636.3,318.6 636.3,342.5 655.6,351.2z" color="#72190d"/>
<path d="M665.3,331.7 655.6,327.3 655.6,351.2 665.3,355.6z" color="#771b0d"/>
<path d="M733.2,362.4 730,361 730,384.9 733.2,386.3z" color="#771b0d"/>
<path d="M742.9,366.8 733.2,362.4 733.2,386.3 742.9,390.7z" color="#72190d"/>
<path d="M749.4,369.7 742.9,366.8 742.9,390.7 749.4,393.6z" color="#6e170d"/>
<path d="M749.4,369.7 753.2,368.5 753.2,392.4 749.4,393.6z" color="#85180b"/>
<path d="M671.3,337.3 661.6,333 661.6,356.9 671.3,361.2z" color="#69150d"/>
<path d="M680.9,341.7 671.3,337.3 671.3,361.2 680.9,365.6z" color="#7b1e0d"/>
<path d="M690.6,346.1 680.9,341.7 680.9,365.6 690.6,370z" color="#771b0d"/>
<path d="M700.3,350.5 690.6,346.1 690.6,370 700.3,374.4z" color="#6e170d"/>
<path d="M719.7,359.3 700.3,350.5 700.3,374.4 719.7,383.2z" color="#7b1e0d"/>
<path d="M726.2,362.2 719.7,359.3 719.7,383.2 726.2,386.1z" color="#771b0d"/>
<path d="M726.2,362.2 730,361 730,384.9 726.2,386.1z" color="#8f1d0b"/>
<path d="M1010,298.2 1013.8,296.9 1013.8,320.8 1010,322.1z" color="#891a0b"/>
<path d="M1009.4,300.9 1013.2,299.7 1013.2,323.6 1009.4,324.8z" color="#891a0b"/>
<path d="M1008.9,303.6 1012.6,302.4 1012.6,326.3 1008.9,327.5z" color="#8f1d0b"/>
<path d="M1005.1,304.8 1008.9,303.6 1008.9,327.5 1005.1,328.7z" color="#8f1d0b"/>
<path d="M1001.3,306.1 1005.1,304.8 1005.1,328.7 1001.3,330z" color="#8f1d0b"/>
<path d="M997.5,307.3 1001.3,306.1 1001.3,330 997.5,331.2z" color="#b13910"/>
<path d="M993.7,308.6 997.5,307.3 997.5,331.2 993.7,332.5z" color="#b13910"/>
<path d="M989.9,309.8 993.7,308.6 993.7,332.5 989.9,333.7z" color="#b13910"/>
<path d="M986.1,311.1 989.9,309.8 989.9,333.7 986.1,335z" color="#c05219"/>
<path d="M982.3,312.3 986.1,311.1 986.1,335 982.3,336.2z" color="#c05219"/>
<path d="M978.6,313.5 982.3,312.3 982.3,336.2 978.6,337.4z" color="#c05219"/>
<path d="M974.8,314.8 978.6,313.5 978.6,337.4 974.8,338.7z" color="#b84313"/>
<path d="M971,316 974.8,314.8 974.8,338.7 971,339.9z" color="#b84313"/>
<path d="M967.2,317.3 971,316 971,339.9 967.2,341.2z" color="#b84313"/>
<path d="M963.4,318.5 967.2,317.3 967.2,341.2 963.4,342.4z" color="#bd4c17"/>
<path d="M959.6,319.8 963.4,318.5 963.4,342.4 959.6,343.7z" color="#bd4c17"/>
<path d="M955.8,321 959.6,319.8 959.6,343.7 955.8,344.9z" color="#bd4c17"/>
<path d="M952,322.2 955.8,321 955.8,344.9 952,346.1z" color="#c1561b"/>
<path d="M948.3,323.5 952,322.2 952,346.1 948.3,347.4z" color="#c1561b"/>
<path d="M944.5,324.7 948.3,323.5 948.3,347.4 944.5,348.6z" color="#c1561b"/>
<path d="M943.9,327.4 947.7,326.2 947.7,350.1 943.9,351.3z" color="#c56421"/>
<path d="M940.1,328.7 943.9,327.4 943.9,351.3 940.1,352.6z" color="#c56421"/>
<path d="M936.3,329.9 940.1,328.7 940.1,352.6 936.3,353.8z" color="#c56421"/>
<path d="M932.5,331.2 936.3,329.9 936.3,353.8 932.5,355.1z" color="#c66823"/>
<path d="M928.8,332.4 932.5,331.2 932.5,355.1 928.8,356.3z" color="#c66823"/>
<path d="M925,333.6 928.8,332.4 928.8,356.3 925,357.5z" color="#c66823"/>
<path d="M921.2,334.9 925,333.6 925,357.5 921.2,358.8z" color="#c35d1e"/>
<path d="M917.4,336.1 921.2,334.9 921.2,358.8 917.4,360z" color="#c35d1e"/>
<path d="M913.6,337.4 917.4,336.1 917.4,360 913.6,361.3z" color="#c35d1e"/>
<path d="M909.8,338.6 913.6,337.4 913.6,361.3 909.8,362.5z" color="#c35d1e"/>
<path d="M906,339.9 909.8,338.6 909.8,362.5 906,363.8z" color="#c35d1e"/>
<path d="M902.2,341.1 906,339.9 906,363.8 902.2,365z" color="#c35d1e"/>
<path d="M898.5,342.3 902.2,341.1 902.2,365 898.5,366.2z" color="#bd4c17"/>
<path d="M894.7,343.6 898.5,342.3 898.5,366.2 894.7,367.5z" color="#bd4c17"/>
<path d="M890.9,344.8 887.6,343.4 887.6,367.3 890.9,368.7z" color="#9b4116"/>
<path d="M890.9,344.8 894.7,343.6 894.7,367.5 890.9,368.7z" color="#bd4c17"/>
<path d="M883.9,344.6 887.6,343.4 887.6,367.3 883.9,368.5z" color="#b53e12"/>
<path d="M880.1,345.8 883.9,344.6 883.9,368.5 880.1,369.7z" color="#b53e12"/>
<path d="M876.3,347.1 880.1,345.8 880.1,369.7 876.3,371z" color="#b53e12"/>
<path d="M872.5,348.3 876.3,347.1 876.3,371 872.5,372.2z" color="#b13910"/>
<path d="M868.7,349.6 872.5,348.3 872.5,372.2 868.7,373.5z" color="#b13910"/>
<path d="M864.9,350.8 861.7,349.4 861.7,373.2 864.9,374.7z" color="#923211"/>
<path d="M864.9,350.8 868.7,349.6 868.7,373.5 864.9,374.7z" color="#b13910"/>
<path d="M857.9,350.6 861.7,349.4 861.7,373.2 857.9,374.5z" color="#ab320e"/>
<path d="M854.1,351.8 857.9,350.6 857.9,374.5 854.1,375.7z" color="#ab320e"/>
<path d="M850.3,353.1 854.1,351.8 854.1,375.7 850.3,377z" color="#ab320e"/>
<path d="M846.5,354.3 843.3,352.9 843.3,376.8 846.5,378.2z" color="#902f10"/>
<path d="M846.5,354.3 850.3,353.1 850.3,377 846.5,378.2z" color="#af360f"/>
<path d="M839.5,354.1 843.3,352.9 843.3,376.8 839.5,378z" color="#af360f"/>
<path d="M835.7,355.3 839.5,354.1 839.5,378 835.7,379.2z" color="#af360f"/>
<path d="M831.9,356.6 828.7,355.1 828.7,379 831.9,380.5z" color="#7b1e0d"/>
<path d="M831.9,356.6 835.7,355.3 835.7,379.2 831.9,380.5z" color="#95210b"/>
<path d="M824.9,356.4 828.7,355.1 828.7,379 824.9,380.3z" color="#95210b"/>
<path d="M821.1,357.6 817.9,356.1 817.9,380 821.1,381.5z" color="#7b1e0d"/>
<path d="M821.1,357.6 824.9,356.4 824.9,380.3 821.1,381.5z" color="#95210b"/>
<path d="M814.1,357.4 817.9,356.1 817.9,380 814.1,381.3z" color="#85180b"/>
<path d="M810.3,358.6 807.1,357.2 807.1,381.1 810.3,382.5z" color="#6e170d"/>
<path d="M810.3,358.6 814.1,357.4 814.1,381.3 810.3,382.5z" color="#85180b"/>
<path d="M803.3,358.4 800.1,356.9 800.1,380.8 803.3,382.3z" color="#6e170d"/>
<path d="M803.3,358.4 807.1,357.2 807.1,381.1 803.3,382.3z" color="#85180b"/>
<path d="M631.5,283.6 628.2,282.2 628.2,306.1 631.5,307.5z" color="#63130d"/>
<path d="M793.1,356.7 789.8,355.3 789.8,379.2 793.1,380.6z" color="#72190d"/>
<path d="M796.3,358.2 793.1,356.7 793.1,380.6 796.3,382.1z" color="#771b0d"/>
<path d="M796.3,358.2 800.1,356.9 800.1,380.8 796.3,382.1z" color="#8f1d0b"/>
<path d="M786,356.5 779.6,353.6 779.6,377.5 786,380.4z" color="#72190d"/>
<path d="M786,356.5 789.8,355.3 789.8,379.2 786,380.4z" color="#891a0b"/>
<path d="M627.1,287.6 623.9,286.1 623.9,310 627.1,311.5z" color="#63130d"/>
<path d="M775.8,354.8 766.1,350.4 766.1,374.3 775.8,378.7z" color="#72190d"/>
<path d="M775.8,354.8 779.6,353.6 779.6,377.5 775.8,378.7z" color="#891a0b"/>
<path d="M629.8,291.7 623.3,288.8 623.3,312.7 629.8,315.6z" color="#69150d"/>
<path d="M762.3,351.7 742.9,342.9 742.9,366.8 762.3,375.6z" color="#6e170d"/>
<path d="M762.3,351.7 766.1,350.4 766.1,374.3 762.3,375.6z" color="#85180b"/>
<path d="M632.5,295.9 626,293 626,316.9 632.5,319.8z" color="#69150d"/>
<path d="M651.9,304.7 632.5,295.9 632.5,319.8 651.9,328.6z" color="#72190d"/>
<path d="M661.6,309.1 651.9,304.7 651.9,328.6 661.6,333z" color="#771b0d"/>
<path d="M671.3,313.4 661.6,309.1 661.6,333 671.3,337.3z" color="#69150d"/>
<path d="M680.9,317.8 671.3,313.4 671.3,337.3 680.9,341.7z" color="#7b1e0d"/>
<path d="M690.6,322.2 680.9,317.8 680.9,341.7 690.6,346.1z" color="#771b0d"/>
<path d="M700.3,326.6 690.6,322.2 690.6,346.1 700.3,350.5z" color="#6e170d"/>
<path d="M719.7,335.4 700.3,326.6 700.3,350.5 719.7,359.3z" color="#7b1e0d"/>
<path d="M729.4,339.8 719.7,335.4 719.7,359.3 729.4,363.7z" color="#771b0d"/>
<path d="M739.1,344.2 729.4,339.8 729.4,363.7 739.1,368.1z" color="#72190d"/>
<path d="M739.1,344.2 742.9,342.9 742.9,366.8 739.1,368.1z" color="#891a0b"/>
<path d="M1010,274.3 1013.8,273 1013.8,296.9 1010,298.2z" color="#891a0b"/>
<path d="M1009.4,277 1013.2,275.8 1013.2,299.7 1009.4,300.9z" color="#891a0b"/>
<path d="M1008.9,279.7 1012.6,278.5 1012.6,302.4 1008.9,303.6z" color="#8f1d0b"/>
<path d="M1005.1,280.9 1008.9,279.7 1008.9,303.6 1005.1,304.8z" color="#8f1d0b"/>
<path d="M1001.3,282.2 1005.1,280.9 1005.1,304.8 1001.3,306.1z" color="#8f1d0b"/>
<path d="M997.5,283.4 1001.3,282.2 1001.3,306.1 997.5,307.3z" color="#b13910"/>
<path d="M993.7,284.7 997.5,283.4 997.5,307.3 993.7,308.6z" color="#b13910"/>
<path d="M989.9,285.9 993.7,284.7 993.7,308.6 989.9,309.8z" color="#b13910"/>
<path d="M986.1,287.2 989.9,285.9 989.9,309.8 986.1,311.1z" color="#c05219"/>
<path d="M982.3,288.4 986.1,287.2 986.1,311.1 982.3,312.3z" color="#c05219"/>
<path d="M978.6,289.6 982.3,288.4 982.3,312.3 978.6,313.5z" color="#c05219"/>
<path d="M974.8,290.9 978.6,289.6 978.6,313.5 974.8,314.8z" color="#b84313"/>
<path d="M971,292.1 974.8,290.9 974.8,314.8 971,316z" color="#b84313"/>
<path d="M967.2,293.4 971,292.1 971,316 967.2,317.3z" color="#b84313"/>
<path d="M963.4,294.6 967.2,293.4 967.2,317.3 963.4,318.5z" color="#bd4c17"/>
<path d="M959.6,295.9 963.4,294.6 963.4,318.5 959.6,319.8z" color="#bd4c17"/>
<path d="M955.8,297.1 959.6,295.9 959.6,319.8 955.8,321z" color="#bd4c17"/>
<path d="M952,298.3 955.8,297.1 955.8,321 952,322.2z" color="#c1561b"/>
<path d="M948.3,299.6 952,298.3 952,322.2 948.3,323.5z" color="#c1561b"/>
<path d="M944.5,300.8 948.3,299.6 948.3,323.5 944.5,324.7z" color="#c1561b"/>
<path d="M943.9,303.5 947.7,302.3 947.7,326.2 943.9,327.4z" color="#c56421"/>
<path d="M940.1,304.8 943.9,303.5 943.9,327.4 940.1,328.7z" color="#c56421"/>
<path d="M936.3,306 940.1,304.8 940.1,328.7 936.3,329.9z" color="#c56421"/>
<path d="M932.5,307.3 936.3,306 936.3,329.9 932.5,331.2z" color="#c66823"/>
<path d="M928.8,308.5 932.5,307.3 932.5,331.2 928.8,332.4z" color="#c66823"/>
<path d="M925,309.7 928.8,308.5 928.8,332.4 925,333.6z" color="#c66823"/>
<path d="M921.2,311 925,309.7 925,333.6 921.2,334.9z" color="#c35d1e"/>
<path d="M917.4,312.2 921.2,311 921.2,334.9 917.4,336.1z" color="#c35d1e"/>
<path d="M913.6,313.5 917.4,312.2 917.4,336.1 913.6,337.4z" color="#c35d1e"/>
<path d="M909.8,314.7 913.6,313.5 913.6,337.4 909.8,338.6z" color="#c35d1e"/>
<path d="M906,316 909.8,314.7 909.8,338.6 906,339.9z" color="#c35d1e"/>
<path d="M902.2,317.2 906,316 906,339.9 902.2,341.1z" color="#c35d1e"/>
<path d="M898.5,318.4 902.2,317.2 902.2,341.1 898.5,342.3z" color="#bd4c17"/>
<path d="M894.7,319.7 898.5,318.4 898.5,342.3 894.7,343.6z" color="#bd4c17"/>
<path d="M890.9,320.9 887.6,319.5 887.6,343.4 890.9,344.8z" color="#9b4116"/>
<path d="M890.9,320.9 894.7,319.7 894.7,343.6 890.9,344.8z" color="#bd4c17"/>
<path d="M883.9,320.7 887.6,319.5 887.6,343.4 883.9,344.6z" color="#b53e12"/>
<path d="M880.1,321.9 883.9,320.7 883.9,344.6 880.1,345.8z" color="#b53e12"/>
<path d="M876.3,323.2 880.1,321.9 880.1,345.8 876.3,347.1z" color="#b53e12"/>
<path d="M872.5,324.4 876.3,323.2 876.3,347.1 872.5,348.3z" color="#b13910"/>
<path d="M868.7,325.7 872.5,324.4 872.5,348.3 868.7,349.6z" color="#b13910"/>
<path d="M864.9,326.9 861.7,325.5 861.7,349.4 864.9,350.8z" color="#923211"/>
<path d="M864.9,326.9 868.7,325.7 868.7,349.6 864.9,350.8z" color="#b13910"/>
<path d="M857.9,326.7 861.7,325.5 861.7,349.4 857.9,350.6z" color="#ab320e"/>
<path d="M854.1,327.9 857.9,326.7 857.9,350.6 854.1,351.8z" color="#ab320e"/>
<path d="M850.3,329.2 854.1,327.9 854.1,351.8 850.3,353.1z" color="#ab320e"/>
<path d="M846.5,330.4 843.3,329 843.3,352.9 846.5,354.3z" color="#902f10"/>
<path d="M846.5,330.4 850.3,329.2 850.3,353.1 846.5,354.3z" color="#af360f"/>
<path d="M839.5,330.2 843.3,329 843.3,352.9 839.5,354.1z" color="#af360f"/>
<path d="M835.7,331.4 839.5,330.2 839.5,354.1 835.7,355.3z" color="#af360f"/>
<path d="M831.9,332.7 828.7,331.2 828.7,355.1 831.9,356.6z" color="#7b1e0d"/>
<path d="M831.9,332.7 835.7,331.4 835.7,355.3 831.9,356.6z" color="#95210b"/>
<path d="M824.9,332.5 828.7,331.2 828.7,355.1 824.9,356.4z" color="#95210b"/>
<path d="M821.1,333.7 817.9,332.2 817.9,356.1 821.1,357.6z" color="#7b1e0d"/>
<path d="M821.1,333.7 824.9,332.5 824.9,356.4 821.1,357.6z" color="#95210b"/>
<path d="M814.1,333.5 817.9,332.2 817.9,356.1 814.1,357.4z" color="#85180b"/>
<path d="M810.3,334.7 807.1,333.3 807.1,357.2 810.3,358.6z" color="#6e170d"/>
<path d="M810.3,334.7 814.1,333.5 814.1,357.4 810.3,358.6z" color="#85180b"/>
<path d="M803.3,334.5 800.1,333 800.1,356.9 803.3,358.4z" color="#6e170d"/>
<path d="M803.3,334.5 807.1,333.3 807.1,357.2 803.3,358.4z" color="#85180b"/>
<path d="M631.5,259.7 628.2,258.3 628.2,282.2 631.5,283.6z" color="#63130d"/>
<path d="M793.1,332.8 789.8,331.4 789.8,355.3 793.1,356.7z" color="#72190d"/>
<path d="M796.3,334.3 793.1,332.8 793.1,356.7 796.3,358.2z" color="#771b0d"/>
<path d="M796.3,334.3 800.1,333 800.1,356.9 796.3,358.2z" color="#8f1d0b"/>
<path d="M786,332.6 779.6,329.7 779.6,353.6 786,356.5z" color="#72190d"/>
<path d="M786,332.6 789.8,331.4 789.8,355.3 786,356.5z" color="#891a0b"/>
<path d="M627.1,263.7 623.9,262.2 623.9,286.1 627.1,287.6z" color="#63130d"/>
<path d="M775.8,330.9 766.1,326.5 766.1,350.4 775.8,354.8z" color="#72190d"/>
<path d="M775.8,330.9 779.6,329.7 779.6,353.6 775.8,354.8z" color="#891a0b"/>
<path d="M629.8,267.8 623.3,264.9 623.3,288.8 629.8,291.7z" color="#69150d"/>
<path d="M762.3,327.8 742.9,319 742.9,342.9 762.3,351.7z" color="#6e170d"/>
<path d="M762.3,327.8 766.1,326.5 766.1,350.4 762.3,351.7z" color="#85180b"/>
<path d="M739.1,320.3 742.9,319 739.7,317.5 735.9,318.8z" color="#931301"/>
<path d="M632.5,272 626,269.1 626,293 632.5,295.9z" color="#69150d"/>
<path d="M651.9,280.8 632.5,272 632.5,295.9 651.9,304.7z" color="#72190d"/>
<path d="M661.6,285.2 651.9,280.8 651.9,304.7 661.6,309.1z" color="#771b0d"/>
<path d="M671.3,289.5 661.6,285.2 661.6,309.1 671.3,313.4z" color="#69150d"/>
<path d="M680.9,293.9 671.3,289.5 671.3,313.4 680.9,317.8z" color="#7b1e0d"/>
<path d="M690.6,298.3 680.9,293.9 680.9,317.8 690.6,322.2z" color="#771b0d"/>
<path d="M700.3,302.7 690.6,298.3 690.6,322.2 700.3,326.6z" color="#6e170d"/>
<path d="M719.7,311.5 700.3,302.7 700.3,326.6 719.7,335.4z" color="#7b1e0d"/>
<path d="M729.4,315.9 719.7,311.5 719.7,335.4 729.4,339.8z" color="#771b0d"/>
<path d="M739.1,320.3 729.4,315.9 729.4,339.8 739.1,344.2z" color="#72190d"/>
<path d="M739.1,320.3 742.9,319 742.9,342.9 739.1,344.2z" color="#891a0b"/>
<path d="M1010,250.4 1013.8,249.1 1013.8,273 1010,274.3z" color="#af360f"/>
<path d="M1009.4,253.1 1013.2,251.9 1013.2,275.8 1009.4,277z" color="#af360f"/>
<path d="M1008.9,255.8 1012.6,254.6 1012.6,278.5 1008.9,279.7z" color="#b84313"/>
<path d="M1005.1,257 1008.9,255.8 1008.9,279.7 1005.1,280.9z" color="#b84313"/>
<path d="M1001.3,258.3 1005.1,257 1005.1,280.9 1001.3,282.2z" color="#b84313"/>
<path d="M997.5,259.5 1001.3,258.3 1001.3,282.2 997.5,283.4z" color="#c1561b"/>
<path d="M993.7,260.8 997.5,259.5 997.5,283.4 993.7,284.7z" color="#c1561b"/>
<path d="M989.9,262 993.7,260.8 993.7,284.7 989.9,285.9z" color="#c1561b"/>
<path d="M986.1,263.3 989.9,262 989.9,285.9 986.1,287.2z" color="#c76f26"/>
<path d="M982.3,264.5 986.1,263.3 986.1,287.2 982.3,288.4z" color="#c76f26"/>
<path d="M978.6,265.7 982.3,264.5 982.3,288.4 978.6,289.6z" color="#c76f26"/>
<path d="M974.8,267 978.6,265.7 978.6,289.6 974.8,290.9z" color="#c8872f"/>
<path d="M971,268.2 974.8,267 974.8,290.9 971,292.1z" color="#c8872f"/>
<path d="M967.2,269.5 971,268.2 971,292.1 967.2,293.4z" color="#c8872f"/>
<path d="M963.4,270.7 967.2,269.5 967.2,293.4 963.4,294.6z" color="#c88b31"/>
<path d="M959.6,272 963.4,270.7 963.4,294.6 959.6,295.9z" color="#c88b31"/>
<path d="M955.8,273.2 959.6,272 959.6,295.9 955.8,297.1z" color="#c88b31"/>
<path d="M952,274.4 955.8,273.2 955.8,297.1 952,298.3z" color="#c88b31"/>
<path d="M948.3,275.7 952,274.4 952,298.3 948.3,299.6z" color="#c88b31"/>
<path d="M944.5,276.9 948.3,275.7 948.3,299.6 944.5,300.8z" color="#c88b31"/>
<path d="M943.9,279.6 947.7,278.4 947.7,302.3 943.9,303.5z" color="#c29e36"/>
<path d="M940.1,280.9 943.9,279.6 943.9,303.5 940.1,304.8z" color="#c29e36"/>
<path d="M936.3,282.1 940.1,280.9 940.1,304.8 936.3,306z" color="#c29e36"/>
<path d="M932.5,283.4 936.3,282.1 936.3,306 932.5,307.3z" color="#c59634"/>
<path d="M928.8,284.6 932.5,283.4 932.5,307.3 928.8,308.5z" color="#c59634"/>
<path d="M925,285.8 928.8,284.6 928.8,308.5 925,309.7z" color="#c59634"/>
<path d="M921.2,287.1 925,285.8 925,309.7 921.2,311z" color="#bfa236"/>
<path d="M917.4,288.3 921.2,287.1 921.2,311 917.4,312.2z" color="#bfa236"/>
<path d="M913.6,289.6 917.4,288.3 917.4,312.2 913.6,313.5z" color="#bfa236"/>
<path d="M909.8,290.8 913.6,289.6 913.6,313.5 909.8,314.7z" color="#c79133"/>
<path d="M906,292.1 909.8,290.8 909.8,314.7 906,316z" color="#c79133"/>
<path d="M902.2,293.3 906,292.1 906,316 902.2,317.2z" color="#c79133"/>
<path d="M898.5,294.5 902.2,293.3 902.2,317.2 898.5,318.4z" color="#c79133"/>
<path d="M894.7,295.8 898.5,294.5 898.5,318.4 894.7,319.7z" color="#c79133"/>
<path d="M890.9,297 887.6,295.6 887.6,319.5 890.9,320.9z" color="#a3782d"/>
<path d="M890.9,297 894.7,295.8 894.7,319.7 890.9,320.9z" color="#c79133"/>
<path d="M883.9,296.8 887.6,295.6 887.6,319.5 883.9,320.7z" color="#c88b31"/>
<path d="M880.1,298 883.9,296.8 883.9,320.7 880.1,321.9z" color="#c88b31"/>
<path d="M876.3,299.3 880.1,298 880.1,321.9 876.3,323.2z" color="#c88b31"/>
<path d="M872.5,300.5 876.3,299.3 876.3,323.2 872.5,324.4z" color="#c87a2a"/>
<path d="M868.7,301.8 872.5,300.5 872.5,324.4 868.7,325.7z" color="#c87a2a"/>
<path d="M864.9,303 861.7,301.6 861.7,325.5 864.9,326.9z" color="#a46626"/>
<path d="M864.9,303 868.7,301.8 868.7,325.7 864.9,326.9z" color="#c87a2a"/>
<path d="M857.9,302.8 861.7,301.6 861.7,325.5 857.9,326.7z" color="#c56421"/>
<path d="M854.1,304 857.9,302.8 857.9,326.7 854.1,327.9z" color="#c56421"/>
<path d="M850.3,305.3 854.1,304 854.1,327.9 850.3,329.2z" color="#c56421"/>
<path d="M846.5,306.5 843.3,305.1 843.3,329 846.5,330.4z" color="#a2541e"/>
<path d="M846.5,306.5 850.3,305.3 850.3,329.2 846.5,330.4z" color="#c56421"/>
<path d="M839.5,306.3 843.3,305.1 843.3,329 839.5,330.2z" color="#c56421"/>
<path d="M835.7,307.5 839.5,306.3 839.5,330.2 835.7,331.4z" color="#c56421"/>
<path d="M831.9,308.8 828.7,307.3 828.7,331.2 831.9,332.7z" color="#993c14"/>
<path d="M831.9,308.8 835.7,307.5 835.7,331.4 831.9,332.7z" color="#ba4614"/>
<path d="M824.9,308.6 828.7,307.3 828.7,331.2 824.9,332.5z" color="#ba4614"/>
<path d="M821.1,309.8 817.9,308.3 817.9,332.2 821.1,333.7z" color="#993c14"/>
<path d="M821.1,309.8 824.9,308.6 824.9,332.5 821.1,333.7z" color="#ba4614"/>
<path d="M814.1,309.6 817.9,308.3 817.9,332.2 814.1,333.5z" color="#ab320e"/>
<path d="M810.3,310.8 807.1,309.4 807.1,333.3 810.3,334.7z" color="#8c2c10"/>
<path d="M810.3,310.8 814.1,309.6 814.1,333.5 810.3,334.7z" color="#ab320e"/>
<path d="M803.3,310.6 800.1,309.1 800.1,333 803.3,334.5z" color="#8c2c10"/>
<path d="M803.3,310.6 807.1,309.4 807.1,333.3 803.3,334.5z" color="#ab320e"/>
<path d="M631.5,235.8 628.2,234.4 628.2,258.3 631.5,259.7z" color="#923211"/>
<path d="M793.1,308.9 789.8,307.5 789.8,331.4 793.1,332.8z" color="#82230e"/>
<path d="M796.3,310.4 793.1,308.9 793.1,332.8 796.3,334.3z" color="#7b1e0d"/>
<path d="M796.3,310.4 800.1,309.1 800.1,333 796.3,334.3z" color="#95210b"/>
<path d="M786,308.7 779.6,305.8 779.6,329.7 786,332.6z" color="#82230e"/>
<path d="M786,308.7 789.8,307.5 789.8,331.4 786,332.6z" color="#9e270c"/>
<path d="M627.1,239.8 623.9,238.3 623.9,262.2 627.1,263.7z" color="#923211"/>
<path d="M775.8,307 766.1,302.6 766.1,326.5 775.8,330.9z" color="#82230e"/>
<path d="M775.8,307 779.6,305.8 779.6,329.7 775.8,330.9z" color="#9e270c"/>
<path d="M626.6,242.5 623.3,241 623.3,264.9 626.6,266.4z" color="#923211"/>
<path d="M629.8,243.9 626.6,242.5 626.6,266.4 629.8,267.8z" color="#973913"/>
<path d="M742.9,295.1 739.7,293.6 739.7,317.5 742.9,319z" color="#9d4618"/>
<path d="M752.6,299.5 742.9,295.1 742.9,319 752.6,323.4z" color="#953512"/>
<path d="M762.3,303.9 752.6,299.5 752.6,323.4 762.3,327.8z" color="#8c2c10"/>
<path d="M762.3,303.9 766.1,302.6 766.1,326.5 762.3,327.8z" color="#ab320e"/>
<path d="M697.1,277.3 700.9,276.1 694.4,273.2 690.6,274.4z" color="#d76017"/>
<path d="M735.9,294.9 739.7,293.6 736.4,292.2 732.7,293.4z" color="#d35412"/>
<path d="M632.5,248.1 626,245.2 626,269.1 632.5,272z" color="#973913"/>
<path d="M642.2,252.5 632.5,248.1 632.5,272 642.2,276.4z" color="#953512"/>
<path d="M651.9,256.9 642.2,252.5 642.2,276.4 651.9,280.8z" color="#993c14"/>
<path d="M671.3,265.6 651.9,256.9 651.9,280.8 671.3,289.5z" color="#9f491a"/>
<path d="M680.9,270 671.3,265.6 671.3,289.5 680.9,293.9z" color="#9b4116"/>
<path d="M700.3,278.8 680.9,270 680.9,293.9 700.3,302.7z" color="#a04e1c"/>
<path d="M710,283.2 700.3,278.8 700.3,302.7 710,307.1z" color="#9d4618"/>
<path d="M729.4,292 710,283.2 710,307.1 729.4,315.9z" color="#a04e1c"/>
<path d="M735.9,294.9 729.4,292 729.4,315.9 735.9,318.8z" color="#9d4618"/>
<path d="M735.9,294.9 739.7,293.6 739.7,317.5 735.9,318.8z" color="#c05219"/>
<path d="M993.8,219.2 997.6,217.9 987.9,213.6 984.1,214.8z" color="#da6d1d"/>
<path d="M1003.5,223.6 1007.3,222.3 997.6,217.9 993.8,219.2z" color="#d04d0f"/>
<path d="M1010,226.5 1013.8,225.2 1007.3,222.3 1003.5,223.6z" color="#bf3306"/>
<path d="M1010,226.5 1013.8,225.2 1013.8,249.1 1010,250.4z" color="#af360f"/>
<path d="M980.3,216 984.1,214.8 974.4,210.4 970.6,211.7z" color="#dd8a29"/>
<path d="M1009.4,229.2 1013.2,228 1006.7,225 1003,226.3z" color="#bf3306"/>
<path d="M1009.4,229.2 1013.2,228 1013.2,251.9 1009.4,253.1z" color="#af360f"/>
<path d="M963.6,211.4 967.4,210.2 960.9,207.3 957.1,208.5z" color="#d8a632"/>
<path d="M1005.6,230.4 1009.4,229.2 1006.2,227.7 1002.4,229z" color="#d35412"/>
<path d="M1008.9,231.9 1012.6,230.7 1009.4,229.2 1005.6,230.4z" color="#ca420b"/>
<path d="M1008.9,231.9 1012.6,230.7 1012.6,254.6 1008.9,255.8z" color="#b84313"/>
<path d="M950.1,208.3 953.9,207 947.5,204.1 943.7,205.4z" color="#cfb432"/>
<path d="M1005.1,233.1 1008.9,231.9 1005.6,230.4 1001.8,231.7z" color="#ca420b"/>
<path d="M1005.1,233.1 1008.9,231.9 1008.9,255.8 1005.1,257z" color="#b84313"/>
<path d="M936.6,205.1 940.4,203.9 934,201 930.2,202.2z" color="#cfb432"/>
<path d="M1001.3,234.4 1005.1,233.1 1001.8,231.7 998,232.9z" color="#ca420b"/>
<path d="M1001.3,234.4 1005.1,233.1 1005.1,257 1001.3,258.3z" color="#b84313"/>
<path d="M923.2,202 927,200.8 920.5,197.8 916.7,199.1z" color="#b3cd2d"/>
<path d="M997.5,235.6 1001.3,234.4 998,232.9 994.3,234.2z" color="#d55914"/>
<path d="M997.5,235.6 1001.3,234.4 1001.3,258.3 997.5,259.5z" color="#c1561b"/>
<path d="M909.7,198.9 913.5,197.6 910.2,196.2 906.4,197.4z" color="#a6d42d"/>
<path d="M993.7,236.9 997.5,235.6 994.3,234.2 990.5,235.4z" color="#d55914"/>
<path d="M993.7,236.9 997.5,235.6 997.5,259.5 993.7,260.8z" color="#c1561b"/>
<path d="M896.2,195.7 900,194.5 896.8,193 893,194.2z" color="#a1d62e"/>
<path d="M989.9,238.1 993.7,236.9 990.5,235.4 986.7,236.7z" color="#d55914"/>
<path d="M989.9,238.1 993.7,236.9 993.7,260.8 989.9,262z" color="#c1561b"/>
<path d="M885.9,194 889.7,192.8 886.5,191.3 882.7,192.6z" color="#93db32"/>
<path d="M986.1,239.4 989.9,238.1 986.7,236.7 982.9,237.9z" color="#dc7520"/>
<path d="M986.1,239.4 989.9,238.1 989.9,262 986.1,263.3z" color="#c76f26"/>
<path d="M875.7,192.3 879.5,191.1 876.2,189.6 872.5,190.9z" color="#93db32"/>
<path d="M982.3,240.6 986.1,239.4 982.9,237.9 979.1,239.1z" color="#dc7520"/>
<path d="M982.3,240.6 986.1,239.4 986.1,263.3 982.3,264.5z" color="#c76f26"/>
<path d="M868.7,192.1 872.5,190.9 869.2,189.4 865.4,190.7z" color="#9ad92f"/>
<path d="M978.6,241.8 982.3,240.6 979.1,239.1 975.3,240.4z" color="#dc7520"/>
<path d="M978.6,241.8 982.3,240.6 982.3,264.5 978.6,265.7z" color="#c76f26"/>
<path d="M861.7,191.9 865.4,190.7 862.2,189.2 858.4,190.4z" color="#7fdd3d"/>
<path d="M974.8,243.1 978.6,241.8 978.6,265.7 974.8,267z" color="#c8872f"/>
<path d="M971,244.3 974.8,243.1 974.8,267 971,268.2z" color="#c8872f"/>
<path d="M844.4,190 848.2,188.8 844.9,187.3 841.1,188.5z" color="#79de42"/>
<path d="M967.2,245.6 971,244.3 971,268.2 967.2,269.5z" color="#c8872f"/>
<path d="M837.4,189.8 841.1,188.5 837.9,187.1 834.1,188.3z" color="#7fdd3d"/>
<path d="M963.4,246.8 967.2,245.6 967.2,269.5 963.4,270.7z" color="#c88b31"/>
<path d="M830.3,189.6 834.1,188.3 830.9,186.9 827.1,188.1z" color="#79de42"/>
<path d="M959.6,248.1 963.4,246.8 963.4,270.7 959.6,272z" color="#c88b31"/>
<path d="M823.3,189.3 827.1,188.1 823.9,186.6 820.1,187.9z" color="#79de42"/>
<path d="M955.8,249.3 959.6,248.1 959.6,272 955.8,273.2z" color="#c88b31"/>
<path d="M816.3,189.1 820.1,187.9 816.9,186.4 813.1,187.7z" color="#55db5e"/>
<path d="M952,250.5 955.8,249.3 955.8,273.2 952,274.4z" color="#c88b31"/>
<path d="M809.3,188.9 813.1,187.7 809.8,186.2 806.1,187.4z" color="#55db5e"/>
<path d="M948.3,251.8 952,250.5 952,274.4 948.3,275.7z" color="#c88b31"/>
<path d="M944.5,253 948.3,251.8 948.3,275.7 944.5,276.9z" color="#c88b31"/>
<path d="M943.9,255.7 947.7,254.5 944.5,253 940.7,254.3z" color="#d5ab33"/>
<path d="M943.9,255.7 947.7,254.5 947.7,278.4 943.9,279.6z" color="#c29e36"/>
<path d="M791.5,189.7 795.2,188.5 792,187 788.2,188.2z" color="#5fdd56"/>
<path d="M940.1,257 943.9,255.7 940.7,254.3 936.9,255.5z" color="#d5ab33"/>
<path d="M940.1,257 943.9,255.7 943.9,279.6 940.1,280.9z" color="#c29e36"/>
<path d="M784.4,189.5 788.2,188.2 785,186.8 781.2,188z" color="#88dd38"/>
<path d="M936.3,258.2 940.1,257 936.9,255.5 933.1,256.7z" color="#d5ab33"/>
<path d="M936.3,258.2 940.1,257 940.1,280.9 936.3,282.1z" color="#c29e36"/>
<path d="M932.5,259.5 936.3,258.2 933.1,256.7 929.3,258z" color="#d9a231"/>
<path d="M932.5,259.5 936.3,258.2 936.3,282.1 932.5,283.4z" color="#c59634"/>
<path d="M928.8,260.7 932.5,259.5 929.3,258 925.5,259.2z" color="#d9a231"/>
<path d="M928.8,260.7 932.5,259.5 932.5,283.4 928.8,284.6z" color="#c59634"/>
<path d="M766.6,190.3 770.4,189.1 767.2,187.6 763.4,188.8z" color="#93db32"/>
<path d="M925,261.9 928.8,260.7 925.5,259.2 921.7,260.5z" color="#d9a231"/>
<path d="M925,261.9 928.8,260.7 928.8,284.6 925,285.8z" color="#c59634"/>
<path d="M921.2,263.2 925,261.9 921.7,260.5 917.9,261.7z" color="#d2b133"/>
<path d="M921.2,263.2 925,261.9 925,285.8 921.2,287.1z" color="#bfa236"/>
<path d="M755.8,191.3 759.6,190.1 756.4,188.6 752.6,189.9z" color="#bdc62f"/>
<path d="M917.4,264.4 921.2,263.2 921.2,287.1 917.4,288.3z" color="#bfa236"/>
<path d="M748.8,191.1 752.6,189.9 749.3,188.4 745.5,189.6z" color="#bdc62f"/>
<path d="M913.6,265.7 917.4,264.4 917.4,288.3 913.6,289.6z" color="#bfa236"/>
<path d="M909.8,266.9 913.6,265.7 913.6,289.6 909.8,290.8z" color="#c79133"/>
<path d="M738,192.1 741.8,190.9 738.5,189.4 734.7,190.7z" color="#cbb932"/>
<path d="M906,268.2 909.8,266.9 906.6,265.4 902.8,266.7z" color="#db9c2f"/>
<path d="M906,268.2 909.8,266.9 909.8,290.8 906,292.1z" color="#c79133"/>
<path d="M902.2,269.4 906,268.2 906,292.1 902.2,293.3z" color="#c79133"/>
<path d="M727.2,193.1 731,191.9 727.7,190.4 723.9,191.7z" color="#db9c2f"/>
<path d="M898.5,270.6 902.2,269.4 902.2,293.3 898.5,294.5z" color="#c79133"/>
<path d="M894.7,271.9 898.5,270.6 895.2,269.2 891.4,270.4z" color="#db9c2f"/>
<path d="M894.7,271.9 898.5,270.6 898.5,294.5 894.7,295.8z" color="#c79133"/>
<path d="M716.4,194.2 720.1,192.9 716.9,191.5 713.1,192.7z" color="#db9c2f"/>
<path d="M890.9,273.1 894.7,271.9 891.4,270.4 887.6,271.7z" color="#db9c2f"/>
<path d="M890.9,273.1 887.6,271.7 887.6,295.6 890.9,297z" color="#a3782d"/>
<path d="M890.9,273.1 894.7,271.9 894.7,295.8 890.9,297z" color="#c79133"/>
<path d="M883.9,272.9 887.6,271.7 887.6,295.6 883.9,296.8z" color="#c88b31"/>
<path d="M880.1,274.1 883.9,272.9 883.9,296.8 880.1,298z" color="#c88b31"/>
<path d="M701.8,196.4 705.6,195.2 702.3,193.7 698.5,195z" color="#d9a231"/>
<path d="M876.3,275.4 880.1,274.1 880.1,298 876.3,299.3z" color="#c88b31"/>
<path d="M698,197.7 701.8,196.4 698.5,195 694.7,196.2z" color="#dd912b"/>
<path d="M872.5,276.6 876.3,275.4 876.3,299.3 872.5,300.5z" color="#c87a2a"/>
<path d="M868.7,277.9 872.5,276.6 869.3,275.2 865.5,276.4z" color="#dd8225"/>
<path d="M868.7,277.9 872.5,276.6 872.5,300.5 868.7,301.8z" color="#c87a2a"/>
<path d="M864.9,279.1 868.7,277.9 865.5,276.4 861.7,277.7z" color="#dd8225"/>
<path d="M864.9,279.1 861.7,277.7 861.7,301.6 864.9,303z" color="#a46626"/>
<path d="M864.9,279.1 868.7,277.9 868.7,301.8 864.9,303z" color="#c87a2a"/>
<path d="M683.4,199.9 687.2,198.7 683.9,197.2 680.1,198.5z" color="#d04d0f"/>
<path d="M857.9,278.9 861.7,277.7 861.7,301.6 857.9,302.8z" color="#c56421"/>
<path d="M679.6,201.2 683.4,199.9 680.1,198.5 676.4,199.7z" color="#d04d0f"/>
<path d="M854.1,280.1 857.9,278.9 854.7,277.4 850.9,278.7z" color="#d9681a"/>
<path d="M854.1,280.1 857.9,278.9 857.9,302.8 854.1,304z" color="#c56421"/>
<path d="M850.3,281.4 854.1,280.1 850.9,278.7 847.1,279.9z" color="#d9681a"/>
<path d="M850.3,281.4 854.1,280.1 854.1,304 850.3,305.3z" color="#c56421"/>
<path d="M846.5,282.6 850.3,281.4 847.1,279.9 843.3,281.2z" color="#d9681a"/>
<path d="M846.5,282.6 843.3,281.2 843.3,305.1 846.5,306.5z" color="#a2541e"/>
<path d="M846.5,282.6 850.3,281.4 850.3,305.3 846.5,306.5z" color="#c56421"/>
<path d="M665,203.4 668.8,202.2 665.6,200.7 661.8,202z" color="#cc460c"/>
<path d="M839.5,282.4 843.3,281.2 840.1,279.7 836.3,280.9z" color="#d9681a"/>
<path d="M839.5,282.4 843.3,281.2 843.3,305.1 839.5,306.3z" color="#c56421"/>
<path d="M661.2,204.7 665,203.4 661.8,202 658,203.2z" color="#cc460c"/>
<path d="M835.7,283.6 839.5,282.4 836.3,280.9 832.5,282.2z" color="#d9681a"/>
<path d="M835.7,283.6 839.5,282.4 839.5,306.3 835.7,307.5z" color="#c56421"/>
<path d="M657.4,205.9 661.2,204.7 658,203.2 654.2,204.5z" color="#c63c09"/>
<path d="M831.9,284.9 835.7,283.6 832.5,282.2 828.7,283.4z" color="#cc460c"/>
<path d="M831.9,284.9 828.7,283.4 828.7,307.3 831.9,308.8z" color="#993c14"/>
<path d="M831.9,284.9 835.7,283.6 835.7,307.5 831.9,308.8z" color="#ba4614"/>
<path d="M653.6,207.2 657.4,205.9 654.2,204.5 650.4,205.7z" color="#c63c09"/>
<path d="M824.9,284.7 828.7,283.4 825.5,282 821.7,283.2z" color="#cc460c"/>
<path d="M824.9,284.7 828.7,283.4 828.7,307.3 824.9,308.6z" color="#ba4614"/>
<path d="M646.6,207 650.4,205.7 647.2,204.2 643.4,205.5z" color="#c63c09"/>
<path d="M821.1,285.9 824.9,284.7 821.7,283.2 817.9,284.4z" color="#cc460c"/>
<path d="M821.1,285.9 817.9,284.4 817.9,308.3 821.1,309.8z" color="#993c14"/>
<path d="M821.1,285.9 824.9,284.7 824.9,308.6 821.1,309.8z" color="#ba4614"/>
<path d="M642.8,208.2 646.6,207 643.4,205.5 639.6,206.7z" color="#cc460c"/>
<path d="M814.1,285.7 817.9,284.4 814.7,283 810.9,284.2z" color="#ba2e05"/>
<path d="M814.1,285.7 817.9,284.4 817.9,308.3 814.1,309.6z" color="#ab320e"/>
<path d="M639,209.4 642.8,208.2 639.6,206.7 635.8,208z" color="#cc460c"/>
<path d="M810.3,286.9 814.1,285.7 807.6,282.8 803.9,284z" color="#ba2e05"/>
<path d="M810.3,286.9 807.1,285.5 807.1,309.4 810.3,310.8z" color="#8c2c10"/>
<path d="M810.3,286.9 814.1,285.7 814.1,309.6 810.3,310.8z" color="#ab320e"/>
<path d="M635.2,210.7 639,209.4 635.8,208 632,209.2z" color="#cc460c"/>
<path d="M803.3,286.7 807.1,285.5 800.6,282.5 796.8,283.8z" color="#ba2e05"/>
<path d="M803.3,286.7 800.1,285.2 800.1,309.1 803.3,310.6z" color="#8c2c10"/>
<path d="M803.3,286.7 807.1,285.5 807.1,309.4 803.3,310.6z" color="#ab320e"/>
<path d="M631.5,211.9 635.2,210.7 632,209.2 628.2,210.5z" color="#c23607"/>
<path d="M793.1,285 796.8,283.8 793.6,282.3 789.8,283.6z" color="#ac2103"/>
<path d="M796.3,286.5 800.1,285.2 796.8,283.8 793.1,285z" color="#a11a02"/>
<path d="M631.5,211.9 628.2,210.5 628.2,234.4 631.5,235.8z" color="#923211"/>
<path d="M793.1,285 789.8,283.6 789.8,307.5 793.1,308.9z" color="#82230e"/>
<path d="M796.3,286.5 793.1,285 793.1,308.9 796.3,310.4z" color="#7b1e0d"/>
<path d="M796.3,286.5 800.1,285.2 800.1,309.1 796.3,310.4z" color="#95210b"/>
<path d="M630.9,214.6 634.7,213.4 631.5,211.9 627.7,213.2z" color="#c23607"/>
<path d="M786,284.8 789.8,283.6 783.4,280.6 779.6,281.9z" color="#ac2103"/>
<path d="M786,284.8 779.6,281.9 779.6,305.8 786,308.7z" color="#82230e"/>
<path d="M786,284.8 789.8,283.6 789.8,307.5 786,308.7z" color="#9e270c"/>
<path d="M627.1,215.9 630.9,214.6 627.7,213.2 623.9,214.4z" color="#c23607"/>
<path d="M775.8,283.1 779.6,281.9 773.1,279 769.3,280.2z" color="#ac2103"/>
<path d="M627.1,215.9 623.9,214.4 623.9,238.3 627.1,239.8z" color="#923211"/>
<path d="M775.8,283.1 766.1,278.7 766.1,302.6 775.8,307z" color="#82230e"/>
<path d="M775.8,283.1 779.6,281.9 779.6,305.8 775.8,307z" color="#9e270c"/>
<path d="M626.6,218.6 630.4,217.3 627.1,215.9 623.3,217.1z" color="#c23607"/>
<path d="M629.8,220 633.6,218.8 630.4,217.3 626.6,218.6z" color="#ca420b"/>
<path d="M752.6,275.6 756.4,274.4 753.2,272.9 749.4,274.1z" color="#c63c09"/>
<path d="M762.3,280 766.1,278.7 756.4,274.4 752.6,275.6z" color="#ba2e05"/>
<path d="M626.6,218.6 623.3,217.1 623.3,241 626.6,242.5z" color="#923211"/>
<path d="M629.8,220 626.6,218.6 626.6,242.5 629.8,243.9z" color="#973913"/>
<path d="M700.9,252.2 694.4,249.3 694.4,273.2 700.9,276.1z" color="#a04e1c"/>
<path d="M742.9,271.2 736.4,268.3 736.4,292.2 742.9,295.1z" color="#9d4618"/>
<path d="M752.6,275.6 742.9,271.2 742.9,295.1 752.6,299.5z" color="#953512"/>
<path d="M762.3,280 752.6,275.6 752.6,299.5 762.3,303.9z" color="#8c2c10"/>
<path d="M762.3,280 766.1,278.7 766.1,302.6 762.3,303.9z" color="#ab320e"/>
<path d="M632.5,224.2 636.3,223 629.8,220 626,221.3z" color="#ca420b"/>
<path d="M642.2,228.6 646,227.3 636.3,223 632.5,224.2z" color="#c63c09"/>
<path d="M651.9,233 655.6,231.7 646,227.3 642.2,228.6z" color="#cc460c"/>
<path d="M671.3,241.7 675,240.5 655.6,231.7 651.9,233z" color="#d55914"/>
<path d="M680.9,246.1 684.7,244.9 675,240.5 671.3,241.7z" color="#d04d0f"/>
<path d="M690.6,250.5 694.4,249.3 684.7,244.9 680.9,246.1z" color="#d76017"/>
<path d="M710,259.3 713.8,258.1 710.6,256.6 706.8,257.8z" color="#d35412"/>
<path d="M729.4,268.1 733.2,266.8 713.8,258.1 710,259.3z" color="#d76017"/>
<path d="M732.7,269.5 736.4,268.3 733.2,266.8 729.4,268.1z" color="#d35412"/>
<path d="M632.5,224.2 626,221.3 626,245.2 632.5,248.1z" color="#973913"/>
<path d="M642.2,228.6 632.5,224.2 632.5,248.1 642.2,252.5z" color="#953512"/>
<path d="M651.9,233 642.2,228.6 642.2,252.5 651.9,256.9z" color="#993c14"/>
<path d="M671.3,241.7 651.9,233 651.9,256.9 671.3,265.6z" color="#9f491a"/>
<path d="M680.9,246.1 671.3,241.7 671.3,265.6 680.9,270z" color="#9b4116"/>
<path d="M690.6,250.5 680.9,246.1 680.9,270 690.6,274.4z" color="#a04e1c"/>
<path d="M700.3,254.9 697.1,253.4 697.1,277.3 700.3,278.8z" color="#a04e1c"/>
<path d="M710,259.3 700.3,254.9 700.3,278.8 710,283.2z" color="#9d4618"/>
<path d="M729.4,268.1 710,259.3 710,283.2 729.4,292z" color="#a04e1c"/>
<path d="M732.7,269.5 729.4,268.1 729.4,292 732.7,293.4z" color="#9d4618"/>
<path d="M690.6,250.5 694.4,249.3 694.4,273.2 690.6,274.4z" color="#c35d1e"/>
<path d="M732.7,269.5 736.4,268.3 736.4,292.2 732.7,293.4z" color="#c05219"/>
<path d="M990,196.5 993.8,195.3 984.1,190.9 980.3,192.1z" color="#da6d1d"/>
<path d="M999.7,200.9 1003.5,199.7 993.8,195.3 990,196.5z" color="#d04d0f"/>
<path d="M1003,202.4 1006.7,201.1 1003.5,199.7 999.7,200.9z" color="#bf3306"/>
<path d="M1003,202.4 1006.7,201.1 1006.7,225 1003,226.3z" color="#af360f"/>
<path d="M966.8,189 970.6,187.8 967.4,186.3 963.6,187.5z" color="#d8a632"/>
<path d="M970.1,190.5 973.9,189.2 970.6,187.8 966.8,189z" color="#cfb432"/>
<path d="M1002.4,205.1 1006.2,203.8 1003,202.4 999.2,203.6z" color="#d35412"/>
<path d="M1002.4,205.1 1006.2,203.8 1006.2,227.7 1002.4,229z" color="#c05219"/>
<path d="M953.4,185.8 957.1,184.6 953.9,183.1 950.1,184.4z" color="#cfb432"/>
<path d="M1001.8,207.8 1005.6,206.5 1002.4,205.1 998.6,206.3z" color="#d35412"/>
<path d="M1001.8,207.8 1005.6,206.5 1005.6,230.4 1001.8,231.7z" color="#c05219"/>
<path d="M939.9,182.7 943.7,181.5 940.4,180 936.6,181.2z" color="#cfb432"/>
<path d="M998,209 1001.8,207.8 998.6,206.3 994.8,207.6z" color="#d35412"/>
<path d="M998,209 1001.8,207.8 1001.8,231.7 998,232.9z" color="#c05219"/>
<path d="M926.4,179.6 930.2,178.3 927,176.9 923.2,178.1z" color="#b3cd2d"/>
<path d="M994.3,210.3 998,209 994.8,207.6 991,208.8z" color="#da6d1d"/>
<path d="M994.3,210.3 998,209 998,232.9 994.3,234.2z" color="#c66823"/>
<path d="M912.9,176.4 916.7,175.2 913.5,173.7 909.7,175z" color="#a6d42d"/>
<path d="M990.5,211.5 994.3,210.3 994.3,234.2 990.5,235.4z" color="#c66823"/>
<path d="M899.4,173.3 903.2,172 900,170.6 896.2,171.8z" color="#a1d62e"/>
<path d="M986.7,212.8 990.5,211.5 990.5,235.4 986.7,236.7z" color="#c66823"/>
<path d="M889.2,171.6 893,170.3 889.7,168.9 885.9,170.1z" color="#9ad92f"/>
<path d="M982.9,214 986.7,212.8 986.7,236.7 982.9,237.9z" color="#c87628"/>
<path d="M878.9,169.9 882.7,168.7 879.5,167.2 875.7,168.4z" color="#93db32"/>
<path d="M979.1,215.2 982.9,214 982.9,237.9 979.1,239.1z" color="#c87628"/>
<path d="M975.3,216.5 979.1,215.2 979.1,239.1 975.3,240.4z" color="#c87628"/>
<path d="M974.8,219.2 978.6,217.9 975.3,216.5 971.5,217.7z" color="#dd912b"/>
<path d="M974.8,219.2 978.6,217.9 978.6,241.8 974.8,243.1z" color="#c8872f"/>
<path d="M854.6,167.8 858.4,166.5 855.2,165.1 851.4,166.3z" color="#7fdd3d"/>
<path d="M971,220.4 974.8,219.2 971.5,217.7 967.7,219z" color="#dd912b"/>
<path d="M971,220.4 974.8,219.2 974.8,243.1 971,244.3z" color="#c8872f"/>
<path d="M847.6,167.6 851.4,166.3 848.2,164.9 844.4,166.1z" color="#79de42"/>
<path d="M967.2,221.7 971,220.4 971,244.3 967.2,245.6z" color="#c8872f"/>
<path d="M963.4,222.9 967.2,221.7 967.2,245.6 963.4,246.8z" color="#c88b31"/>
<path d="M959.6,224.2 963.4,222.9 963.4,246.8 959.6,248.1z" color="#c88b31"/>
<path d="M955.8,225.4 959.6,224.2 959.6,248.1 955.8,249.3z" color="#c88b31"/>
<path d="M952,226.6 955.8,225.4 955.8,249.3 952,250.5z" color="#c88b31"/>
<path d="M948.3,227.9 952,226.6 952,250.5 948.3,251.8z" color="#c88b31"/>
<path d="M805.5,166.3 809.3,165 806.1,163.5 802.3,164.8z" color="#55db5e"/>
<path d="M944.5,229.1 948.3,227.9 948.3,251.8 944.5,253z" color="#c88b31"/>
<path d="M798.5,166 802.3,164.8 799,163.3 795.2,164.6z" color="#5fdd56"/>
<path d="M940.7,230.4 944.5,229.1 944.5,253 940.7,254.3z" color="#c29e36"/>
<path d="M936.9,231.6 940.7,230.4 940.7,254.3 936.9,255.5z" color="#c29e36"/>
<path d="M933.1,232.8 936.9,231.6 936.9,255.5 933.1,256.7z" color="#c29e36"/>
<path d="M929.3,234.1 933.1,232.8 933.1,256.7 929.3,258z" color="#c59634"/>
<path d="M773.6,166.6 777.4,165.4 774.2,163.9 770.4,165.2z" color="#93db32"/>
<path d="M925.5,235.3 929.3,234.1 929.3,258 925.5,259.2z" color="#c59634"/>
<path d="M921.7,236.6 925.5,235.3 925.5,259.2 921.7,260.5z" color="#c59634"/>
<path d="M762.8,167.6 766.6,166.4 763.4,164.9 759.6,166.2z" color="#acd12d"/>
<path d="M917.9,237.8 921.7,236.6 921.7,260.5 917.9,261.7z" color="#bfa236"/>
<path d="M917.4,240.5 921.2,239.3 917.9,237.8 914.2,239.1z" color="#d2b133"/>
<path d="M917.4,240.5 921.2,239.3 921.2,263.2 917.4,264.4z" color="#bfa236"/>
<path d="M913.6,241.8 917.4,240.5 914.2,239.1 910.4,240.3z" color="#d2b133"/>
<path d="M913.6,241.8 917.4,240.5 917.4,264.4 913.6,265.7z" color="#bfa236"/>
<path d="M745,168.4 748.8,167.2 745.5,165.7 741.8,167z" color="#cbb932"/>
<path d="M909.8,243 913.6,241.8 910.4,240.3 906.6,241.5z" color="#db9c2f"/>
<path d="M909.8,243 906.6,241.5 906.6,265.4 909.8,266.9z" color="#a3782d"/>
<path d="M909.8,243 913.6,241.8 913.6,265.7 909.8,266.9z" color="#c79133"/>
<path d="M902.8,242.8 906.6,241.5 906.6,265.4 902.8,266.7z" color="#c79133"/>
<path d="M734.2,169.5 738,168.2 734.7,166.8 731,168z" color="#cbb932"/>
<path d="M902.2,245.5 906,244.3 902.8,242.8 899,244z" color="#db9c2f"/>
<path d="M902.2,245.5 906,244.3 906,268.2 902.2,269.4z" color="#c79133"/>
<path d="M898.5,246.7 902.2,245.5 899,244 895.2,245.3z" color="#db9c2f"/>
<path d="M898.5,246.7 895.2,245.3 895.2,269.2 898.5,270.6z" color="#a3782d"/>
<path d="M898.5,246.7 902.2,245.5 902.2,269.4 898.5,270.6z" color="#c79133"/>
<path d="M723.4,170.5 727.2,169.2 723.9,167.8 720.1,169z" color="#db9c2f"/>
<path d="M891.4,246.5 895.2,245.3 895.2,269.2 891.4,270.4z" color="#c79133"/>
<path d="M887.6,247.8 891.4,246.5 891.4,270.4 887.6,271.7z" color="#c79133"/>
<path d="M712.6,171.5 716.4,170.3 713.1,168.8 709.3,170z" color="#d9a231"/>
<path d="M883.9,249 887.6,247.8 887.6,271.7 883.9,272.9z" color="#c88b31"/>
<path d="M708.8,172.8 712.6,171.5 709.3,170 705.6,171.3z" color="#d9a231"/>
<path d="M880.1,250.2 883.9,249 883.9,272.9 880.1,274.1z" color="#c88b31"/>
<path d="M876.3,251.5 880.1,250.2 876.8,248.8 873,250z" color="#dc962d"/>
<path d="M876.3,251.5 880.1,250.2 880.1,274.1 876.3,275.4z" color="#c88b31"/>
<path d="M872.5,252.7 876.3,251.5 873,250 869.3,251.3z" color="#dd8225"/>
<path d="M872.5,252.7 869.3,251.3 869.3,275.2 872.5,276.6z" color="#a46626"/>
<path d="M872.5,252.7 876.3,251.5 876.3,275.4 872.5,276.6z" color="#c87a2a"/>
<path d="M694.2,175 698,173.8 694.7,172.3 691,173.6z" color="#dd912b"/>
<path d="M865.5,252.5 869.3,251.3 869.3,275.2 865.5,276.4z" color="#c87628"/>
<path d="M690.4,176.3 694.2,175 691,173.6 687.2,174.8z" color="#dd912b"/>
<path d="M861.7,253.8 865.5,252.5 865.5,276.4 861.7,277.7z" color="#c87628"/>
<path d="M686.6,177.5 690.4,176.3 687.2,174.8 683.4,176z" color="#d9681a"/>
<path d="M857.9,255 861.7,253.8 858.5,252.3 854.7,253.5z" color="#d9681a"/>
<path d="M857.9,255 854.7,253.5 854.7,277.4 857.9,278.9z" color="#a2541e"/>
<path d="M857.9,255 861.7,253.8 861.7,277.7 857.9,278.9z" color="#c56421"/>
<path d="M850.9,254.8 854.7,253.5 854.7,277.4 850.9,278.7z" color="#c56421"/>
<path d="M675.8,178.5 679.6,177.3 676.4,175.8 672.6,177.1z" color="#d04d0f"/>
<path d="M847.1,256 850.9,254.8 847.6,253.3 843.9,254.6z" color="#d9681a"/>
<path d="M847.1,256 850.9,254.8 850.9,278.7 847.1,279.9z" color="#c56421"/>
<path d="M672,179.8 675.8,178.5 672.6,177.1 668.8,178.3z" color="#cc460c"/>
<path d="M843.3,257.3 847.1,256 843.9,254.6 840.1,255.8z" color="#d9681a"/>
<path d="M843.3,257.3 840.1,255.8 840.1,279.7 843.3,281.2z" color="#a2541e"/>
<path d="M843.3,257.3 847.1,256 847.1,279.9 843.3,281.2z" color="#c56421"/>
<path d="M668.2,181 672,179.8 668.8,178.3 665,179.5z" color="#cc460c"/>
<path d="M836.3,257 840.1,255.8 840.1,279.7 836.3,280.9z" color="#c56421"/>
<path d="M664.4,182.3 668.2,181 665,179.5 661.2,180.8z" color="#cc460c"/>
<path d="M832.5,258.3 836.3,257 833.1,255.6 829.3,256.8z" color="#d9681a"/>
<path d="M832.5,258.3 836.3,257 836.3,280.9 832.5,282.2z" color="#c56421"/>
<path d="M660.7,183.5 664.4,182.3 661.2,180.8 657.4,182z" color="#c63c09"/>
<path d="M828.7,259.5 832.5,258.3 829.3,256.8 825.5,258.1z" color="#cc460c"/>
<path d="M828.7,259.5 825.5,258.1 825.5,282 828.7,283.4z" color="#993c14"/>
<path d="M828.7,259.5 832.5,258.3 832.5,282.2 828.7,283.4z" color="#ba4614"/>
<path d="M656.9,184.7 660.7,183.5 657.4,182 653.6,183.3z" color="#c63c09"/>
<path d="M821.7,259.3 825.5,258.1 822.2,256.6 818.5,257.8z" color="#cc460c"/>
<path d="M821.7,259.3 825.5,258.1 825.5,282 821.7,283.2z" color="#ba4614"/>
<path d="M653.1,186 656.9,184.7 650.4,181.8 646.6,183.1z" color="#c63c09"/>
<path d="M817.9,260.5 821.7,259.3 818.5,257.8 814.7,259.1z" color="#cc460c"/>
<path d="M817.9,260.5 814.7,259.1 814.7,283 817.9,284.4z" color="#993c14"/>
<path d="M817.9,260.5 821.7,259.3 821.7,283.2 817.9,284.4z" color="#ba4614"/>
<path d="M646.1,185.8 649.8,184.5 646.6,183.1 642.8,184.3z" color="#cc460c"/>
<path d="M810.9,260.3 814.7,259.1 811.4,257.6 807.6,258.9z" color="#ba2e05"/>
<path d="M810.9,260.3 807.6,258.9 807.6,282.8 810.9,284.2z" color="#8c2c10"/>
<path d="M810.9,260.3 814.7,259.1 814.7,283 810.9,284.2z" color="#ab320e"/>
<path d="M642.3,187 646.1,185.8 642.8,184.3 639,185.5z" color="#cc460c"/>
<path d="M803.9,260.1 807.6,258.9 804.4,257.4 800.6,258.6z" color="#ba2e05"/>
<path d="M803.9,260.1 800.6,258.6 800.6,282.5 803.9,284z" color="#8c2c10"/>
<path d="M803.9,260.1 807.6,258.9 807.6,282.8 803.9,284z" color="#ab320e"/>
<path d="M638.5,188.2 642.3,187 639,185.5 635.2,186.8z" color="#cc460c"/>
<path d="M796.8,259.9 800.6,258.6 797.4,257.2 793.6,258.4z" color="#b52904"/>
<path d="M796.8,259.9 793.6,258.4 793.6,282.3 796.8,283.8z" color="#89280f"/>
<path d="M796.8,259.9 800.6,258.6 800.6,282.5 796.8,283.8z" color="#a62d0d"/>
<path d="M637.9,190.9 641.7,189.7 635.2,186.8 631.5,188z" color="#c23607"/>
<path d="M789.8,259.7 793.6,258.4 787.1,255.5 783.4,256.7z" color="#ac2103"/>
<path d="M634.7,189.5 631.5,188 631.5,211.9 634.7,213.4z" color="#923211"/>
<path d="M789.8,259.7 783.4,256.7 783.4,280.6 789.8,283.6z" color="#82230e"/>
<path d="M789.8,259.7 793.6,258.4 793.6,282.3 789.8,283.6z" color="#9e270c"/>
<path d="M634.1,192.2 637.9,190.9 634.7,189.5 630.9,190.7z" color="#c23607"/>
<path d="M779.6,258 783.4,256.7 776.9,253.8 773.1,255.1z" color="#ac2103"/>
<path d="M779.6,258 773.1,255.1 773.1,279 779.6,281.9z" color="#82230e"/>
<path d="M779.6,258 783.4,256.7 783.4,280.6 779.6,281.9z" color="#9e270c"/>
<path d="M630.4,193.4 634.1,192.2 630.9,190.7 627.1,192z" color="#c23607"/>
<path d="M636.8,196.4 640.6,195.1 634.1,192.2 630.4,193.4z" color="#d04d0f"/>
<path d="M766.1,254.8 769.9,253.6 763.4,250.7 759.6,251.9z" color="#bf3306"/>
<path d="M769.3,256.3 773.1,255.1 769.9,253.6 766.1,254.8z" color="#ac2103"/>
<path d="M630.4,193.4 627.1,192 627.1,215.9 630.4,217.3z" color="#923211"/>
<path d="M633.6,194.9 630.4,193.4 630.4,217.3 633.6,218.8z" color="#9b4116"/>
<path d="M756.4,250.5 753.2,249 753.2,272.9 756.4,274.4z" color="#953512"/>
<path d="M766.1,254.8 756.4,250.5 756.4,274.4 766.1,278.7z" color="#902f10"/>
<path d="M769.3,256.3 766.1,254.8 766.1,278.7 769.3,280.2z" color="#82230e"/>
<path d="M769.3,256.3 773.1,255.1 773.1,279 769.3,280.2z" color="#9e270c"/>
<path d="M636.3,199.1 640,197.8 633.6,194.9 629.8,196.1z" color="#ca420b"/>
<path d="M646,203.4 649.7,202.2 640,197.8 636.3,199.1z" color="#c63c09"/>
<path d="M655.6,207.8 659.4,206.6 649.7,202.2 646,203.4z" color="#cc460c"/>
<path d="M662.1,210.8 665.9,209.5 659.4,206.6 655.6,207.8z" color="#d55914"/>
<path d="M742.9,247.3 746.7,246.1 743.5,244.6 739.7,245.8z" color="#d35412"/>
<path d="M749.4,250.2 753.2,249 746.7,246.1 742.9,247.3z" color="#c63c09"/>
<path d="M636.3,199.1 629.8,196.1 629.8,220 636.3,223z" color="#973913"/>
<path d="M646,203.4 636.3,199.1 636.3,223 646,227.3z" color="#953512"/>
<path d="M655.6,207.8 646,203.4 646,227.3 655.6,231.7z" color="#993c14"/>
<path d="M675,216.6 655.6,207.8 655.6,231.7 675,240.5z" color="#9f491a"/>
<path d="M684.7,221 675,216.6 675,240.5 684.7,244.9z" color="#9b4116"/>
<path d="M697.7,226.8 684.7,221 684.7,244.9 697.7,250.7z" color="#a04e1c"/>
<path d="M713.8,234.2 710.6,232.7 710.6,256.6 713.8,258.1z" color="#9d4618"/>
<path d="M733.2,242.9 713.8,234.2 713.8,258.1 733.2,266.8z" color="#a04e1c"/>
<path d="M742.9,247.3 733.2,242.9 733.2,266.8 742.9,271.2z" color="#9d4618"/>
<path d="M749.4,250.2 742.9,247.3 742.9,271.2 749.4,274.1z" color="#953512"/>
<path d="M749.4,250.2 753.2,249 753.2,272.9 749.4,274.1z" color="#b53e12"/>
<path d="M700.3,231 704.1,229.8 697.7,226.8 693.9,228.1z" color="#d76017"/>
<path d="M706.8,233.9 710.6,232.7 704.1,229.8 700.3,231z" color="#d35412"/>
<path d="M700.3,231 693.9,228.1 693.9,252 700.3,254.9z" color="#a04e1c"/>
<path d="M706.8,233.9 700.3,231 700.3,254.9 706.8,257.8z" color="#9d4618"/>
<path d="M706.8,233.9 710.6,232.7 710.6,256.6 706.8,257.8z" color="#c05219"/>
<path d="M999.2,179.7 1003,178.5 1003,202.4 999.2,203.6z" color="#c05219"/>
<path d="M998.6,182.4 1002.4,181.2 1002.4,205.1 998.6,206.3z" color="#c05219"/>
<path d="M994.8,183.7 998.6,182.4 998.6,206.3 994.8,207.6z" color="#c05219"/>
<path d="M991,184.9 994.8,183.7 994.8,207.6 991,208.8z" color="#c66823"/>
<path d="M990.5,187.6 994.3,186.4 994.3,210.3 990.5,211.5z" color="#c66823"/>
<path d="M986.7,188.9 990.5,187.6 990.5,211.5 986.7,212.8z" color="#c66823"/>
<path d="M982.9,190.1 986.7,188.9 986.7,212.8 982.9,214z" color="#c87628"/>
<path d="M979.1,191.3 982.9,190.1 982.9,214 979.1,215.2z" color="#c87628"/>
<path d="M975.3,192.6 979.1,191.3 979.1,215.2 975.3,216.5z" color="#c87628"/>
<path d="M971.5,193.8 975.3,192.6 975.3,216.5 971.5,217.7z" color="#c79133"/>
<path d="M967.7,195.1 971.5,193.8 971.5,217.7 967.7,219z" color="#c79133"/>
<path d="M967.2,197.8 971,196.5 971,220.4 967.2,221.7z" color="#c8872f"/>
<path d="M963.4,199 967.2,197.8 967.2,221.7 963.4,222.9z" color="#c88b31"/>
<path d="M959.6,200.3 963.4,199 963.4,222.9 959.6,224.2z" color="#c88b31"/>
<path d="M955.8,201.5 959.6,200.3 959.6,224.2 955.8,225.4z" color="#c88b31"/>
<path d="M952,202.7 955.8,201.5 955.8,225.4 952,226.6z" color="#c88b31"/>
<path d="M948.3,204 952,202.7 952,226.6 948.3,227.9z" color="#c88b31"/>
<path d="M944.5,205.2 948.3,204 948.3,227.9 944.5,229.1z" color="#c88b31"/>
<path d="M940.7,206.5 944.5,205.2 944.5,229.1 940.7,230.4z" color="#c29e36"/>
<path d="M936.9,207.7 940.7,206.5 940.7,230.4 936.9,231.6z" color="#c29e36"/>
<path d="M933.1,208.9 936.9,207.7 936.9,231.6 933.1,232.8z" color="#c29e36"/>
<path d="M929.3,210.2 933.1,208.9 933.1,232.8 929.3,234.1z" color="#c59634"/>
<path d="M925.5,211.4 929.3,210.2 929.3,234.1 925.5,235.3z" color="#c59634"/>
<path d="M921.7,212.7 925.5,211.4 925.5,235.3 921.7,236.6z" color="#c59634"/>
<path d="M917.9,213.9 921.7,212.7 921.7,236.6 917.9,237.8z" color="#bfa236"/>
<path d="M914.2,215.2 917.9,213.9 917.9,237.8 914.2,239.1z" color="#bfa236"/>
<path d="M910.4,216.4 914.2,215.2 914.2,239.1 910.4,240.3z" color="#bfa236"/>
<path d="M906.6,217.6 910.4,216.4 910.4,240.3 906.6,241.5z" color="#c79133"/>
<path d="M902.8,218.9 906.6,217.6 906.6,241.5 902.8,242.8z" color="#c79133"/>
<path d="M899,220.1 902.8,218.9 902.8,242.8 899,244z" color="#c79133"/>
<path d="M895.2,221.4 899,220.1 899,244 895.2,245.3z" color="#c79133"/>
<path d="M891.4,222.6 895.2,221.4 895.2,245.3 891.4,246.5z" color="#c79133"/>
<path d="M887.6,223.9 891.4,222.6 891.4,246.5 887.6,247.8z" color="#c79133"/>
<path d="M883.9,225.1 887.6,223.9 887.6,247.8 883.9,249z" color="#c88b31"/>
<path d="M880.1,226.3 876.8,224.9 876.8,248.8 880.1,250.2z" color="#a4732b"/>
<path d="M880.1,226.3 883.9,225.1 883.9,249 880.1,250.2z" color="#c88b31"/>
<path d="M873,226.1 876.8,224.9 876.8,248.8 873,250z" color="#c88b31"/>
<path d="M869.3,227.4 873,226.1 873,250 869.3,251.3z" color="#c87628"/>
<path d="M865.5,228.6 869.3,227.4 869.3,251.3 865.5,252.5z" color="#c87628"/>
<path d="M861.7,229.9 858.5,228.4 858.5,252.3 861.7,253.8z" color="#a46224"/>
<path d="M861.7,229.9 865.5,228.6 865.5,252.5 861.7,253.8z" color="#c87628"/>
<path d="M854.7,229.6 858.5,228.4 858.5,252.3 854.7,253.5z" color="#c56421"/>
<path d="M850.9,230.9 847.6,229.4 847.6,253.3 850.9,254.8z" color="#a2541e"/>
<path d="M850.9,230.9 854.7,229.6 854.7,253.5 850.9,254.8z" color="#c56421"/>
<path d="M843.9,230.7 847.6,229.4 847.6,253.3 843.9,254.6z" color="#c56421"/>
<path d="M840.1,231.9 843.9,230.7 843.9,254.6 840.1,255.8z" color="#c56421"/>
<path d="M836.3,233.1 833.1,231.7 833.1,255.6 836.3,257z" color="#a2541e"/>
<path d="M836.3,233.1 840.1,231.9 840.1,255.8 836.3,257z" color="#c56421"/>
<path d="M829.3,232.9 833.1,231.7 833.1,255.6 829.3,256.8z" color="#c66823"/>
<path d="M825.5,234.2 822.2,232.7 822.2,256.6 825.5,258.1z" color="#993c14"/>
<path d="M825.5,234.2 829.3,232.9 829.3,256.8 825.5,258.1z" color="#ba4614"/>
<path d="M818.5,233.9 822.2,232.7 822.2,256.6 818.5,257.8z" color="#ba4614"/>
<path d="M814.7,235.2 811.4,233.7 811.4,257.6 814.7,259.1z" color="#993c14"/>
<path d="M814.7,235.2 818.5,233.9 818.5,257.8 814.7,259.1z" color="#ba4614"/>
<path d="M807.6,235 804.4,233.5 804.4,257.4 807.6,258.9z" color="#8c2c10"/>
<path d="M807.6,235 811.4,233.7 811.4,257.6 807.6,258.9z" color="#ab320e"/>
<path d="M800.6,234.7 797.4,233.3 797.4,257.2 800.6,258.6z" color="#89280f"/>
<path d="M800.6,234.7 804.4,233.5 804.4,257.4 800.6,258.6z" color="#a62d0d"/>
<path d="M641.7,165.8 638.5,164.3 638.5,188.2 641.7,189.7z" color="#993c14"/>
<path d="M793.6,234.5 787.1,231.6 787.1,255.5 793.6,258.4z" color="#89280f"/>
<path d="M793.6,234.5 797.4,233.3 797.4,257.2 793.6,258.4z" color="#a62d0d"/>
<path d="M783.4,232.8 776.9,229.9 776.9,253.8 783.4,256.7z" color="#82230e"/>
<path d="M783.4,232.8 787.1,231.6 787.1,255.5 783.4,256.7z" color="#9e270c"/>
<path d="M640.6,171.2 634.1,168.3 634.1,192.2 640.6,195.1z" color="#9b4116"/>
<path d="M769.9,229.7 763.4,226.8 763.4,250.7 769.9,253.6z" color="#902f10"/>
<path d="M773.1,231.2 769.9,229.7 769.9,253.6 773.1,255.1z" color="#82230e"/>
<path d="M773.1,231.2 776.9,229.9 776.9,253.8 773.1,255.1z" color="#9e270c"/>
<path d="M640,173.9 636.8,172.5 636.8,196.4 640,197.8z" color="#9b4116"/>
<path d="M649.7,178.3 640,173.9 640,197.8 649.7,202.2z" color="#993c14"/>
<path d="M659.4,182.7 649.7,178.3 649.7,202.2 659.4,206.6z" color="#9f491a"/>
<path d="M665.9,185.6 659.4,182.7 659.4,206.6 665.9,209.5z" color="#a04e1c"/>
<path d="M746.7,222.2 743.5,220.7 743.5,244.6 746.7,246.1z" color="#9f491a"/>
<path d="M756.4,226.6 746.7,222.2 746.7,246.1 756.4,250.5z" color="#953512"/>
<path d="M759.6,228 756.4,226.6 756.4,250.5 759.6,251.9z" color="#902f10"/>
<path d="M759.6,228 763.4,226.8 763.4,250.7 759.6,251.9z" color="#af360f"/>
<path d="M675,192.7 662.1,186.9 662.1,210.8 675,216.6z" color="#9f491a"/>
<path d="M684.7,197.1 675,192.7 675,216.6 684.7,221z" color="#9b4116"/>
<path d="M704.1,205.9 684.7,197.1 684.7,221 704.1,229.8z" color="#a04e1c"/>
<path d="M713.8,210.3 704.1,205.9 704.1,229.8 713.8,234.2z" color="#9d4618"/>
<path d="M733.2,219 713.8,210.3 713.8,234.2 733.2,242.9z" color="#a04e1c"/>
<path d="M739.7,221.9 733.2,219 733.2,242.9 739.7,245.8z" color="#9d4618"/>
<path d="M739.7,221.9 743.5,220.7 743.5,244.6 739.7,245.8z" color="#c05219"/>
</g>
<g transform="matrix(3.7879 -1.2424 -3.2318 -1.4621 803.20 256.60)" fill="currentColor" stroke="currentColor" stroke-width="1" stroke-linejoin="round">
<path vector-effect="non-scaling-stroke" d="M2 22h1v2h-1zM3 42h1v3h-1zM4 42h1v3h-1zM5 42h1v3h-1zM6 54h1v3h-1zM7 54h1v3h-1zM8 54h1v3h-1z" color="#d35412"/>
<path vector-effect="non-scaling-stroke" d="M2 24h1v6h-1zM2 33h1v6h-1zM6 42h1v3h-1zM7 42h1v3h-1zM8 42h1v3h-1z" color="#d76017"/>
<path vector-effect="non-scaling-stroke" d="M2 30h1v3h-1zM9 54h1v3h-1zM10 54h1v3h-1zM11 54h1v3h-1zM54 4h1v2h-1zM55 4h1v2h-1zM56 5h1v1h-1z" color="#d25111"/>
<path vector-effect="non-scaling-stroke" d="M2 39h1v3h-1zM6 51h1v3h-1zM7 51h1v3h-1zM8 51h1v3h-1z" color="#d14f10"/>
<path vector-effect="non-scaling-stroke" d="M2 42h1v4h-1zM3 48h1v3h-1zM4 48h1v3h-1zM5 48h1v3h-1zM12 54h1v3h-1zM13 54h1v3h-1zM14 54h1v3h-1z" color="#d55914"/>
<path vector-effect="non-scaling-stroke" d="M3 17h1v1h-1zM4 15h1v3h-1zM5 15h1v3h-1z" color="#bc2f06"/>
<path vector-effect="non-scaling-stroke" d="M3 18h1v3h-1zM4 18h1v3h-1zM5 18h1v3h-1z" color="#c63c09"/>
<path vector-effect="non-scaling-stroke" d="M3 21h1v3h-1zM4 21h1v3h-1zM5 21h1v3h-1zM9 15h1v3h-1zM9 51h1v3h-1zM10 15h1v3h-1zM10 51h1v3h-1zM11 15h1v3h-1zM11 51h1v3h-1z" color="#d55b15"/>
<path vector-effect="non-scaling-stroke" d="M3 24h1v3h-1zM4 24h1v3h-1zM5 24h1v3h-1zM15 54h1v3h-1zM16 54h1v3h-1zM17 54h1v2h-1zM54 6h1v3h-1zM55 6h1v3h-1zM56 6h1v3h-1z" color="#d9681a"/>
<path vector-effect="non-scaling-stroke" d="M3 27h1v3h-1zM4 27h1v3h-1zM5 27h1v3h-1zM6 30h1v3h-1zM7 30h1v3h-1zM8 30h1v3h-1zM15 9h1v3h-1zM16 9h1v3h-1zM17 9h1v3h-1z" color="#dc7520"/>
<path vector-effect="non-scaling-stroke" d="M3 30h1v3h-1zM4 30h1v3h-1zM5 30h1v3h-1z" color="#d65e16"/>
<path vector-effect="non-scaling-stroke" d="M3 33h1v3h-1zM4 33h1v3h-1zM5 33h1v3h-1zM6 39h1v3h-1zM6 45h1v3h-1zM7 39h1v3h-1zM7 45h1v3h-1zM8 39h1v3h-1zM8 45h1v3h-1zM9 45h1v6h-1zM10 45h1v6h-1zM11 45h1v6h-1zM15 5h1v1h-1zM16 4h1v2h-1zM17 4h1v2h-1zM51 3h1v3h-1zM52 3h1v3h-1zM53 4h1v2h-1z" color="#da6b1b"/>
<path vector-effect="non-scaling-stroke" d="M3 36h1v6h-1zM3 45h1v3h-1zM4 36h1v6h-1zM4 45h1v3h-1zM5 36h1v6h-1zM5 45h1v3h-1zM6 48h1v3h-1zM7 48h1v3h-1zM8 48h1v3h-1zM13 5h1v1h-1zM14 5h1v1h-1z" color="#d86519"/>
<path vector-effect="non-scaling-stroke" d="M3 51h1v3h-1zM4 51h1v3h-1zM5 51h1v3h-1z" color="#cc460c"/>
<path vector-effect="non-scaling-stroke" d="M3 54h1v1h-1zM4 54h1v3h-1zM5 54h1v3h-1zM6 18h1v3h-1zM7 18h1v3h-1zM8 18h1v3h-1z" color="#cf4a0e"/>
<path vector-effect="non-scaling-stroke" d="M4 14h1v1h-1zM5 12h1v3h-1z" color="#aa2002"/>
<path vector-effect="non-scaling-stroke" d="M6 10h1v2h-1zM7 9h1v3h-1zM8 9h1v3h-1z" color="#b32704"/>
<path vector-effect="non-scaling-stroke" d="M6 12h1v3h-1zM7 12h1v3h-1zM8 12h1v3h-1z" color="#b92c05"/>
<path vector-effect="non-scaling-stroke" d="M6 15h1v3h-1zM7 15h1v3h-1zM8 15h1v3h-1z" color="#bf3306"/>
<path vector-effect="non-scaling-stroke" d="M6 21h1v3h-1zM7 21h1v3h-1zM8 21h1v3h-1zM9 18h1v3h-1zM10 18h1v3h-1zM11 18h1v3h-1zM12 6h1v3h-1zM13 6h1v3h-1zM14 6h1v3h-1z" color="#da6d1d"/>
<path vector-effect="non-scaling-stroke" d="M6 24h1v3h-1zM7 24h1v3h-1zM8 24h1v3h-1zM12 12h1v3h-1zM13 12h1v3h-1zM14 12h1v3h-1zM48 3h1v3h-1zM49 3h1v3h-1zM50 3h1v3h-1z" color="#dd8024"/>
<path vector-effect="non-scaling-stroke" d="M6 27h1v3h-1zM7 27h1v3h-1zM8 27h1v3h-1zM9 21h1v3h-1zM10 21h1v3h-1zM11 21h1v3h-1zM12 15h1v3h-1zM13 15h1v3h-1zM14 15h1v3h-1z" color="#dd8a29"/>
<path vector-effect="non-scaling-stroke" d="M6 33h1v3h-1zM7 33h1v3h-1zM8 33h1v3h-1zM18 3h1v3h-1zM19 3h1v3h-1zM20 3h1v3h-1z" color="#dd7d23"/>
<path vector-effect="non-scaling-stroke" d="M6 36h1v3h-1zM7 36h1v3h-1zM8 36h1v3h-1zM12 9h1v3h-1zM12 51h1v3h-1zM13 9h1v3h-1zM13 51h1v3h-1zM14 9h1v3h-1zM14 51h1v3h-1zM15 51h1v3h-1zM16 51h1v3h-1zM17 51h1v3h-1z" color="#db731f"/>
<path vector-effect="non-scaling-stroke" d="M6 57h1v1h-1zM7 57h1v1h-1zM8 57h1v1h-1z" color="#cb440b"/>
<path vector-effect="non-scaling-stroke" d="M8 8h1v1h-1z" color="#ba2e05"/>
<path vector-effect="non-scaling-stroke" d="M9 7h1v2h-1zM10 7h1v2h-1zM11 6h1v3h-1z" color="#cd480d"/>
<path vector-effect="non-scaling-stroke" d="M9 9h1v3h-1zM10 9h1v3h-1zM11 9h1v3h-1z" color="#c03507"/>
<path vector-effect="non-scaling-stroke" d="M9 12h1v3h-1zM10 12h1v3h-1zM11 12h1v3h-1z" color="#c33808"/>
<path vector-effect="non-scaling-stroke" d="M9 24h1v3h-1zM10 24h1v3h-1zM11 24h1v3h-1zM12 36h1v3h-1zM12 42h1v3h-1zM13 36h1v3h-1zM13 42h1v3h-1zM14 36h1v3h-1zM14 42h1v3h-1zM18 12h1v3h-1zM19 12h1v3h-1zM20 12h1v3h-1zM21 6h1v3h-1zM22 6h1v3h-1zM23 6h1v3h-1zM24 2h1v1h-1zM24 54h1v1h-1zM25 2h1v1h-1zM26 2h1v1h-1zM45 3h1v3h-1zM46 3h1v3h-1zM47 3h1v3h-1z" color="#dc9a2f"/>
<path vector-effect="non-scaling-stroke" d="M9 27h1v3h-1zM9 33h1v3h-1zM10 27h1v3h-1zM10 33h1v3h-1zM11 27h1v3h-1zM11 33h1v3h-1zM39 2h1v1h-1zM40 2h1v1h-1zM41 2h1v1h-1zM42 2h1v1h-1zM43 2h1v1h-1zM44 2h1v1h-1zM54 9h1v3h-1zM55 9h1v3h-1zM56 9h1v3h-1z" color="#dc982e"/>
<path vector-effect="non-scaling-stroke" d="M9 30h1v3h-1zM10 30h1v3h-1zM11 30h1v3h-1zM12 18h1v3h-1zM13 18h1v3h-1zM14 18h1v3h-1z" color="#dd8c2a"/>
<path vector-effect="non-scaling-stroke" d="M9 36h1v3h-1zM10 36h1v3h-1zM11 36h1v3h-1zM21 21h1v3h-1zM22 21h1v3h-1zM23 21h1v3h-1zM45 2h1v1h-1z" color="#dd932c"/>
<path vector-effect="non-scaling-stroke" d="M9 39h1v6h-1zM10 39h1v6h-1zM11 39h1v6h-1zM12 45h1v3h-1zM13 45h1v3h-1zM14 45h1v3h-1zM15 12h1v3h-1zM16 12h1v3h-1zM17 12h1v3h-1z" color="#dd8527"/>
<path vector-effect="non-scaling-stroke" d="M12 21h1v3h-1zM12 30h1v6h-1zM13 21h1v3h-1zM13 30h1v6h-1zM14 21h1v3h-1zM14 30h1v6h-1zM15 15h1v3h-1zM16 15h1v3h-1zM17 15h1v3h-1zM21 54h1v2h-1zM22 54h1v1h-1zM23 54h1v1h-1zM24 3h1v3h-1zM24 24h1v3h-1zM25 3h1v3h-1zM25 24h1v3h-1zM26 3h1v3h-1zM26 24h1v3h-1zM36 3h1v3h-1zM37 3h1v3h-1zM38 3h1v3h-1z" color="#d9a231"/>
<path vector-effect="non-scaling-stroke" d="M12 24h1v3h-1zM13 24h1v3h-1zM14 24h1v3h-1zM15 27h1v3h-1zM16 27h1v3h-1zM17 27h1v3h-1zM21 9h1v3h-1zM22 9h1v3h-1zM23 9h1v3h-1zM24 30h1v3h-1zM25 30h1v3h-1zM26 30h1v3h-1z" color="#d8a632"/>
<path vector-effect="non-scaling-stroke" d="M12 27h1v3h-1zM13 27h1v3h-1zM14 27h1v3h-1zM18 27h1v3h-1zM18 51h1v3h-1zM19 27h1v3h-1zM19 51h1v3h-1zM20 27h1v3h-1zM20 51h1v3h-1zM24 51h1v3h-1zM25 51h1v3h-1zM26 51h1v3h-1zM33 2h1v1h-1zM34 2h1v1h-1zM35 2h1v1h-1zM48 6h1v3h-1zM49 6h1v3h-1zM50 6h1v3h-1z" color="#daa031"/>
<path vector-effect="non-scaling-stroke" d="M12 39h1v3h-1zM13 39h1v3h-1zM14 39h1v3h-1zM15 48h1v3h-1zM16 48h1v3h-1zM17 48h1v3h-1zM18 6h1v3h-1zM19 6h1v3h-1zM20 6h1v3h-1zM21 3h1v3h-1zM21 24h1v3h-1zM22 2h1v4h-1zM22 24h1v3h-1zM23 2h1v4h-1zM23 24h1v3h-1zM51 6h1v3h-1zM52 6h1v3h-1zM53 6h1v3h-1z" color="#dc962d"/>
<path vector-effect="non-scaling-stroke" d="M12 48h1v3h-1zM13 48h1v3h-1zM14 48h1v3h-1zM18 9h1v3h-1zM19 9h1v3h-1zM20 9h1v3h-1z" color="#dd8225"/>
<path vector-effect="non-scaling-stroke" d="M15 6h1v3h-1zM16 6h1v3h-1zM17 6h1v3h-1z" color="#dc7821"/>
<path vector-effect="non-scaling-stroke" d="M15 18h1v3h-1zM16 18h1v3h-1zM17 18h1v3h-1zM24 6h1v3h-1zM24 27h1v3h-1zM25 6h1v3h-1zM25 27h1v3h-1zM26 6h1v3h-1zM26 27h1v3h-1zM27 6h1v3h-1zM28 6h1v3h-1zM29 6h1v3h-1zM39 3h1v3h-1zM40 3h1v3h-1zM41 3h1v3h-1zM51 9h1v3h-1zM52 9h1v3h-1zM53 9h1v3h-1z" color="#d6a932"/>
<path vector-effect="non-scaling-stroke" d="M15 21h1v3h-1zM15 45h1v3h-1zM16 21h1v3h-1zM16 45h1v3h-1zM17 21h1v3h-1zM17 45h1v3h-1zM24 21h1v3h-1zM25 21h1v3h-1zM26 21h1v3h-1zM27 3h1v3h-1zM28 3h1v3h-1zM29 3h1v3h-1zM33 6h1v3h-1zM34 6h1v3h-1zM35 6h1v3h-1zM42 6h1v3h-1zM43 6h1v3h-1zM44 6h1v3h-1z" color="#d2b133"/>
<path vector-effect="non-scaling-stroke" d="M15 24h1v3h-1zM15 33h1v3h-1zM16 24h1v3h-1zM16 33h1v3h-1zM17 24h1v3h-1zM17 33h1v3h-1zM27 9h1v3h-1zM27 33h1v3h-1zM28 9h1v3h-1zM28 33h1v3h-1zM29 9h1v3h-1zM29 33h1v3h-1zM45 6h1v3h-1zM46 6h1v3h-1zM47 6h1v3h-1z" color="#ccb832"/>
<path vector-effect="non-scaling-stroke" d="M15 30h1v3h-1zM15 36h1v3h-1zM16 30h1v3h-1zM16 36h1v3h-1zM17 30h1v3h-1zM17 36h1v3h-1zM18 18h1v3h-1zM19 18h1v3h-1zM20 18h1v3h-1z" color="#d0b232"/>
<path vector-effect="non-scaling-stroke" d="M15 39h1v3h-1zM16 39h1v3h-1zM17 39h1v3h-1zM18 24h1v3h-1zM18 48h1v3h-1zM19 24h1v3h-1zM19 48h1v3h-1zM20 24h1v3h-1zM20 48h1v3h-1zM27 27h1v3h-1zM28 27h1v3h-1zM29 27h1v3h-1zM39 6h1v3h-1zM40 6h1v3h-1zM41 6h1v3h-1zM48 9h1v3h-1zM49 9h1v3h-1zM50 9h1v3h-1z" color="#c9bb31"/>
<path vector-effect="non-scaling-stroke" d="M15 42h1v3h-1zM16 42h1v3h-1zM17 42h1v3h-1z" color="#2ed381"/>
<path vector-effect="non-scaling-stroke" d="M18 15h1v3h-1zM19 15h1v3h-1zM20 15h1v3h-1zM21 30h1v3h-1zM22 30h1v3h-1zM23 30h1v3h-1zM30 3h1v3h-1zM31 3h1v3h-1zM32 3h1v3h-1zM33 3h1v3h-1zM34 3h1v3h-1zM35 3h1v3h-1zM36 2h1v1h-1zM37 2h1v1h-1zM38 2h1v1h-1zM42 3h1v3h-1zM43 3h1v3h-1zM44 3h1v3h-1z" color="#d5ab33"/>
<path vector-effect="non-scaling-stroke" d="M18 21h1v3h-1zM19 21h1v3h-1zM20 21h1v3h-1zM21 18h1v3h-1zM22 18h1v3h-1zM23 18h1v3h-1zM54 15h1v3h-1zM55 15h1v3h-1z" color="#d7a832"/>
<path vector-effect="non-scaling-stroke" d="M18 30h1v3h-1zM19 30h1v3h-1zM20 30h1v3h-1zM21 12h1v3h-1zM21 51h1v3h-1zM22 12h1v3h-1zM22 51h1v3h-1zM23 12h1v3h-1zM23 51h1v3h-1zM30 6h1v3h-1zM31 6h1v3h-1zM32 6h1v3h-1zM54 12h1v3h-1zM54 18h1v3h-1zM55 12h1v3h-1zM56 12h1v2h-1z" color="#cfb432"/>
<path vector-effect="non-scaling-stroke" d="M18 33h1v6h-1zM19 33h1v6h-1zM20 33h1v6h-1zM30 12h1v3h-1zM31 12h1v3h-1zM32 12h1v3h-1zM42 12h1v3h-1zM43 12h1v3h-1zM44 12h1v3h-1z" color="#b0ce2d"/>
<path vector-effect="non-scaling-stroke" d="M18 39h1v6h-1zM19 39h1v6h-1zM20 39h1v6h-1zM24 36h1v3h-1zM25 36h1v3h-1zM26 36h1v3h-1zM27 24h1v3h-1zM28 24h1v3h-1zM29 24h1v3h-1zM30 51h1v1h-1zM39 9h1v3h-1zM40 9h1v3h-1zM41 9h1v3h-1z" color="#bdc62f"/>
<path vector-effect="non-scaling-stroke" d="M18 45h1v3h-1zM19 45h1v3h-1zM20 45h1v3h-1zM51 12h1v3h-1zM52 12h1v3h-1zM53 12h1v3h-1z" color="#c6be31"/>
<path vector-effect="non-scaling-stroke" d="M18 54h1v2h-1zM19 54h1v2h-1zM20 54h1v2h-1z" color="#dd8f2b"/>
<path vector-effect="non-scaling-stroke" d="M21 15h1v3h-1zM22 15h1v3h-1zM23 15h1v3h-1zM42 15h1v3h-1zM43 15h1v3h-1zM44 15h1v3h-1z" color="#1ecd94"/>
<path vector-effect="non-scaling-stroke" d="M21 27h1v3h-1zM22 27h1v3h-1zM23 27h1v3h-1zM27 2h1v1h-1zM28 2h1v1h-1zM29 2h1v1h-1z" color="#db9e30"/>
<path vector-effect="non-scaling-stroke" d="M21 33h1v6h-1zM22 33h1v6h-1zM23 33h1v6h-1zM36 9h1v3h-1zM37 9h1v3h-1zM38 9h1v3h-1zM51 24h1v3h-1zM52 24h1v3h-1z" color="#b3cd2d"/>
<path vector-effect="non-scaling-stroke" d="M21 39h1v3h-1zM22 39h1v3h-1zM23 39h1v3h-1zM33 12h1v3h-1zM34 12h1v3h-1zM35 12h1v3h-1zM48 15h1v3h-1zM49 15h1v3h-1zM50 15h1v3h-1z" color="#aad22d"/>
<path vector-effect="non-scaling-stroke" d="M21 42h1v3h-1zM22 42h1v3h-1zM23 42h1v3h-1zM33 48h1v2h-1zM34 48h1v1h-1zM35 48h1v1h-1zM36 18h1v6h-1zM37 18h1v6h-1zM38 18h1v6h-1zM42 21h1v6h-1zM43 21h1v6h-1zM44 21h1v6h-1zM45 18h1v3h-1zM46 18h1v3h-1zM47 18h1v3h-1z" color="#93db32"/>
<path vector-effect="non-scaling-stroke" d="M21 45h1v3h-1zM22 45h1v3h-1zM23 45h1v3h-1zM33 21h1v3h-1zM34 21h1v3h-1zM35 21h1v3h-1zM36 15h1v3h-1zM37 15h1v3h-1zM38 15h1v3h-1zM48 18h1v3h-1zM49 18h1v3h-1zM50 18h1v3h-1z" color="#a1d62e"/>
<path vector-effect="non-scaling-stroke" d="M21 48h1v3h-1zM22 48h1v3h-1zM23 48h1v3h-1zM27 36h1v3h-1zM28 36h1v3h-1zM29 36h1v3h-1zM30 33h1v3h-1zM31 33h1v3h-1zM32 33h1v3h-1zM42 9h1v3h-1zM43 9h1v3h-1zM44 9h1v3h-1zM48 12h1v3h-1zM49 12h1v3h-1zM50 12h1v3h-1z" color="#c0c32f"/>
<path vector-effect="non-scaling-stroke" d="M24 9h1v3h-1zM25 9h1v3h-1zM26 9h1v3h-1zM27 51h1v2h-1zM28 51h1v2h-1zM29 51h1v1h-1zM30 9h1v3h-1zM31 9h1v3h-1zM32 9h1v3h-1z" color="#cbb932"/>
<path vector-effect="non-scaling-stroke" d="M24 12h1v3h-1zM24 18h1v3h-1zM25 12h1v3h-1zM25 18h1v3h-1zM26 12h1v3h-1zM26 18h1v3h-1zM27 12h1v3h-1zM28 12h1v3h-1zM29 12h1v3h-1zM33 9h1v3h-1zM34 9h1v3h-1zM35 9h1v3h-1zM45 9h1v3h-1zM46 9h1v3h-1zM47 9h1v3h-1z" color="#c2c230"/>
<path vector-effect="non-scaling-stroke" d="M24 15h1v3h-1zM24 48h1v3h-1zM25 15h1v3h-1zM25 48h1v3h-1zM26 15h1v3h-1zM26 48h1v3h-1zM36 12h1v3h-1zM37 12h1v3h-1zM38 12h1v3h-1z" color="#b9c92e"/>
<path vector-effect="non-scaling-stroke" d="M24 33h1v3h-1zM25 33h1v3h-1zM26 33h1v3h-1zM27 30h1v3h-1zM28 30h1v3h-1zM29 30h1v3h-1zM30 2h1v1h-1zM31 2h1v1h-1zM32 2h1v1h-1z" color="#d3af33"/>
<path vector-effect="non-scaling-stroke" d="M24 39h1v3h-1zM25 39h1v3h-1zM26 39h1v3h-1zM30 45h1v3h-1zM31 45h1v3h-1zM32 45h1v3h-1zM42 18h1v3h-1zM42 27h1v6h-1zM43 18h1v3h-1zM43 27h1v6h-1zM44 18h1v3h-1zM44 27h1v6h-1z" color="#91db33"/>
<path vector-effect="non-scaling-stroke" d="M24 42h1v3h-1zM25 42h1v3h-1zM26 42h1v3h-1z" color="#70de49"/>
<path vector-effect="non-scaling-stroke" d="M24 45h1v3h-1zM25 45h1v3h-1zM26 45h1v3h-1zM45 27h1v3h-1zM46 27h1v3h-1zM47 27h1v3h-1z" color="#9dd82f"/>
<path vector-effect="non-scaling-stroke" d="M27 15h1v3h-1zM28 15h1v3h-1zM29 15h1v3h-1zM30 30h1v3h-1zM30 48h1v3h-1zM31 30h1v3h-1zM31 48h1v3h-1zM32 30h1v3h-1zM32 48h1v2h-1zM45 15h1v3h-1zM46 15h1v3h-1zM47 15h1v3h-1z" color="#aed02d"/>
<path vector-effect="non-scaling-stroke" d="M27 18h1v3h-1zM28 18h1v3h-1zM29 18h1v3h-1zM30 21h1v3h-1zM31 21h1v3h-1zM32 21h1v3h-1zM39 15h1v3h-1zM40 15h1v3h-1zM41 15h1v3h-1zM45 12h1v3h-1zM46 12h1v3h-1zM47 12h1v3h-1zM48 21h1v3h-1zM48 27h1v3h-1zM49 21h1v3h-1zM49 27h1v3h-1zM50 21h1v3h-1zM50 27h1v3h-1zM51 27h1v3h-1z" color="#a8d32d"/>
<path vector-effect="non-scaling-stroke" d="M27 21h1v3h-1zM28 21h1v3h-1zM29 21h1v3h-1zM51 21h1v3h-1zM52 21h1v3h-1zM53 21h1v3h-1z" color="#bbc82e"/>
<path vector-effect="non-scaling-stroke" d="M27 39h1v3h-1zM28 39h1v3h-1zM29 39h1v3h-1zM36 33h1v3h-1zM37 33h1v3h-1zM38 33h1v3h-1z" color="#76de44"/>
<path vector-effect="non-scaling-stroke" d="M27 42h1v3h-1zM28 42h1v3h-1zM29 42h1v3h-1z" color="#51db61"/>
<path vector-effect="non-scaling-stroke" d="M27 45h1v3h-1zM28 45h1v3h-1zM29 45h1v3h-1z" color="#8adc37"/>
<path vector-effect="non-scaling-stroke" d="M27 48h1v3h-1zM28 48h1v3h-1zM29 48h1v3h-1z" color="#b5cc2e"/>
<path vector-effect="non-scaling-stroke" d="M30 15h1v3h-1zM30 27h1v3h-1zM30 36h1v3h-1zM31 15h1v3h-1zM31 27h1v3h-1zM31 36h1v3h-1zM32 15h1v3h-1zM32 27h1v3h-1zM32 36h1v3h-1zM39 12h1v3h-1zM40 12h1v3h-1zM41 12h1v3h-1zM48 24h1v3h-1zM49 24h1v3h-1zM50 24h1v3h-1z" color="#a6d42d"/>
<path vector-effect="non-scaling-stroke" d="M30 18h1v3h-1zM30 24h1v3h-1zM31 18h1v3h-1zM31 24h1v3h-1zM32 18h1v3h-1zM32 24h1v3h-1zM33 15h1v3h-1zM33 24h1v3h-1zM34 15h1v3h-1zM34 24h1v3h-1zM35 15h1v3h-1zM35 24h1v3h-1zM36 24h1v3h-1zM37 24h1v3h-1zM38 24h1v3h-1zM39 18h1v3h-1zM40 18h1v3h-1zM41 18h1v3h-1zM48 30h1v3h-1zM49 30h1v3h-1zM50 30h1v2h-1z" color="#9ad92f"/>
<path vector-effect="non-scaling-stroke" d="M30 39h1v3h-1zM31 39h1v3h-1zM32 39h1v3h-1z" color="#3ad776"/>
<path vector-effect="non-scaling-stroke" d="M30 42h1v3h-1zM31 42h1v3h-1zM32 42h1v3h-1z" color="#44d96d"/>
<path vector-effect="non-scaling-stroke" d="M33 18h1v3h-1zM34 18h1v3h-1zM35 18h1v3h-1z" color="#9fd72e"/>
<path vector-effect="non-scaling-stroke" d="M33 27h1v3h-1zM34 27h1v3h-1zM35 27h1v3h-1zM36 30h1v3h-1zM37 30h1v3h-1zM38 30h1v3h-1zM45 30h1v6h-1zM46 30h1v6h-1zM47 30h1v6h-1z" color="#88dd38"/>
<path vector-effect="non-scaling-stroke" d="M33 30h1v3h-1zM34 30h1v3h-1zM35 30h1v3h-1zM39 24h1v3h-1zM40 24h1v3h-1zM41 24h1v3h-1zM45 21h1v3h-1zM46 21h1v3h-1zM47 21h1v3h-1z" color="#8fdc34"/>
<path vector-effect="non-scaling-stroke" d="M33 33h1v3h-1zM33 45h1v3h-1zM34 33h1v3h-1zM34 45h1v3h-1zM35 33h1v3h-1zM35 45h1v3h-1zM39 30h1v3h-1zM40 30h1v3h-1zM41 30h1v3h-1zM42 39h1v3h-1zM43 39h1v3h-1zM44 39h1v2h-1z" color="#7cde40"/>
<path vector-effect="non-scaling-stroke" d="M33 36h1v3h-1zM34 36h1v3h-1zM35 36h1v3h-1z" color="#27d189"/>
<path vector-effect="non-scaling-stroke" d="M33 39h1v3h-1zM34 39h1v3h-1zM35 39h1v3h-1z" color="#3883de"/>
<path vector-effect="non-scaling-stroke" d="M33 42h1v3h-1zM34 42h1v3h-1zM35 42h1v3h-1z" color="#15c1a7"/>
<path vector-effect="non-scaling-stroke" d="M36 6h1v3h-1zM37 6h1v3h-1zM38 6h1v3h-1zM51 15h1v6h-1zM52 15h1v6h-1zM53 15h1v6h-1z" color="#c4c030"/>
<path vector-effect="non-scaling-stroke" d="M36 27h1v3h-1zM37 27h1v3h-1zM38 27h1v3h-1zM39 21h1v3h-1zM39 27h1v3h-1zM40 21h1v3h-1zM40 27h1v3h-1zM41 21h1v3h-1zM41 27h1v3h-1zM45 24h1v3h-1zM46 24h1v3h-1zM47 24h1v3h-1zM48 33h1v3h-1zM49 33h1v1h-1z" color="#96da31"/>
<path vector-effect="non-scaling-stroke" d="M36 36h1v3h-1zM37 36h1v3h-1zM38 36h1v3h-1z" color="#31d47e"/>
<path vector-effect="non-scaling-stroke" d="M36 39h1v3h-1zM37 39h1v3h-1zM38 39h1v3h-1z" color="#17c79f"/>
<path vector-effect="non-scaling-stroke" d="M36 42h1v3h-1zM37 42h1v3h-1zM38 42h1v3h-1z" color="#22cf8f"/>
<path vector-effect="non-scaling-stroke" d="M36 45h1v3h-1zM37 45h1v2h-1zM38 45h1v1h-1zM39 39h1v3h-1zM40 39h1v3h-1zM41 39h1v3h-1z" color="#5bdc58"/>
<path vector-effect="non-scaling-stroke" d="M39 33h1v3h-1zM40 33h1v3h-1zM41 33h1v3h-1zM42 33h1v3h-1zM43 33h1v3h-1zM44 33h1v3h-1z" color="#7fdd3d"/>
<path vector-effect="non-scaling-stroke" d="M39 36h1v3h-1zM40 36h1v3h-1zM41 36h1v3h-1z" color="#6cdd4b"/>
<path vector-effect="non-scaling-stroke" d="M39 42h1v3h-1zM40 42h1v3h-1zM41 42h1v2h-1z" color="#58dc5b"/>
<path vector-effect="non-scaling-stroke" d="M42 36h1v3h-1zM42 42h1v1h-1zM43 36h1v3h-1zM44 36h1v3h-1z" color="#79de42"/>
<path vector-effect="non-scaling-stroke" d="M45 36h1v3h-1zM46 36h1v2h-1zM47 36h1v1h-1z" color="#85dd3a"/>
</g>
<rect x="804.7" y="138.5" width="3" height="17" fill="#980d12"/>
<rect x="877.5" y="126.9" width="3" height="17" fill="#980d12"/>
<rect x="810" y="163.8" width="3" height="17" fill="#980d12"/>
<rect x="906.1" y="160.2" width="3" height="17" fill="#980d12"/>
<rect x="836.8" y="188" width="3" height="17" fill="#980d12"/>
<rect x="916.5" y="197.1" width="3" height="17" fill="#980d12"/>
<rect x="802.7" y="217.1" width="3" height="17" fill="#980d12"/>
<rect x="997.9" y="159.9" width="3" height="17" fill="#980d12"/>
<rect x="635.9" y="151.1" width="3" height="17" fill="#980d12"/>
<rect x="743.9" y="125.6" width="3" height="17" fill="#980d12"/>
<rect x="722.9" y="157.3" width="3" height="17" fill="#980d12"/>
<rect x="695.5" y="186.2" width="3" height="17" fill="#980d12"/>
<polyline points="588.3,343.5 801.6,440.4 1051.5,358" fill="none" stroke="#000" stroke-width="1"/>
<line x1="813" y1="436.7" x2="818.6" y2="439.2" stroke="#000" stroke-width="1"/>
<text x="823.1" y="454.4" text-anchor="start">0</text>
<line x1="907.6" y1="405.4" x2="913.3" y2="408" stroke="#000" stroke-width="1"/>
<text x="917.7" y="423.1" text-anchor="start">200</text>
<line x1="1002.3" y1="374.2" x2="1007.9" y2="376.8" stroke="#000" stroke-width="1"/>
<text x="1012.4" y="391.9" text-anchor="start">400</text>
<line x1="791.9" y1="436" x2="786" y2="437.9" stroke="#000" stroke-width="1"/>
<text x="781.4" y="453" text-anchor="end">0</text>
<line x1="711.1" y1="399.3" x2="705.2" y2="401.2" stroke="#000" stroke-width="1"/>
<text x="700.6" y="416.3" text-anchor="end">200</text>
<line x1="630.3" y1="362.6" x2="624.4" y2="364.5" stroke="#000" stroke-width="1"/>
<text x="619.8" y="379.6" text-anchor="end">400</text>
<line x1="588.2" y1="168.3" x2="582" y2="170.3" stroke="#000" stroke-width="1"/>
<text x="573" y="178.1" text-anchor="end">4000</text>
<line x1="588.2" y1="228.1" x2="582" y2="230.1" stroke="#000" stroke-width="1"/>
<text x="573" y="237.9" text-anchor="end">4010</text>
<line x1="588.3" y1="287.8" x2="582.1" y2="289.8" stroke="#000" stroke-width="1"/>
<text x="573.1" y="297.6" text-anchor="end">4020</text>
<text transform="translate(942.6,450.4) rotate(-18)" text-anchor="middle">x</text>
<text transform="translate(673.6,440.8) rotate(24)" text-anchor="middle">y</text>
<text transform="translate(536.2,242.6) rotate(-90)" text-anchor="middle">z</text>
<text x="278" y="39" text-anchor="middle" font-weight="bold">Fine scale</text>
<text x="820" y="39" text-anchor="middle" font-weight="bold">Coarse scale</text>
<defs><linearGradient id="cb" x1="0" y1="0" x2="0" y2="1"><stop offset="0.0000" stop-color="#7a0403"/><stop offset="0.0312" stop-color="#920b01"/><stop offset="0.0625" stop-color="#a91601"/><stop offset="0.0938" stop-color="#be2102"/><stop offset="0.1250" stop-color="#d02f05"/><stop offset="0.1562" stop-color="#df3f08"/><stop offset="0.1875" stop-color="#eb500e"/><stop offset="0.2188" stop-color="#f46617"/><stop offset="0.2500" stop-color="#fb7e21"/><stop offset="0.2812" stop-color="#fe962b"/><stop offset="0.3125" stop-color="#fdac34"/><stop offset="0.3438" stop-color="#f8be39"/><stop offset="0.3750" stop-color="#eecf3a"/><stop offset="0.4062" stop-color="#dfdf37"/><stop offset="0.4375" stop-color="#cdec34"/><stop offset="0.4688" stop-color="#b9f635"/><stop offset="0.5000" stop-color="#a4fc3c"/><stop offset="0.5312" stop-color="#8bff4b"/><stop offset="0.5625" stop-color="#6dfe62"/><stop offset="0.5938" stop-color="#4ef97d"/><stop offset="0.6250" stop-color="#32f298"/><stop offset="0.6562" stop-color="#1fe9af"/><stop offset="0.6875" stop-color="#18ddc2"/><stop offset="0.7188" stop-color="#1ccdd8"/><stop offset="0.7500" stop-color="#28bceb"/><stop offset="0.7812" stop-color="#37a8fa"/><stop offset="0.8125" stop-color="#4294ff"/><stop offset="0.8438" stop-color="#4680f6"/><stop offset="0.8750" stop-color="#466be3"/><stop offset="0.9062" stop-color="#4456c7"/><stop offset="0.9375" stop-color="#4040a2"/><stop offset="0.9688" stop-color="#392a73"/><stop offset="1.0000" stop-color="#30123b"/></linearGradient></defs>
<rect x="1100.0" y="45.5" width="12.0" height="408.5" fill="url(#cb)" stroke="#000" stroke-width="1"/>
<line x1="1112.5" y1="78" x2="1117.5" y2="78" stroke="#000" stroke-width="1"/>
<text x="1121" y="83">4.060×10<tspan dy="-5" font-size="9.8">7</tspan></text>
<line x1="1112.5" y1="153.5" x2="1117.5" y2="153.5" stroke="#000" stroke-width="1"/>
<text x="1121" y="158.5">4.040×10<tspan dy="-5" font-size="9.8">7</tspan></text>
<line x1="1112.5" y1="229" x2="1117.5" y2="229" stroke="#000" stroke-width="1"/>
<text x="1121" y="234">4.020×10<tspan dy="-5" font-size="9.8">7</tspan></text>
<line x1="1112.5" y1="304.5" x2="1117.5" y2="304.5" stroke="#000" stroke-width="1"/>
<text x="1121" y="309.5">4.000×10<tspan dy="-5" font-size="9.8">7</tspan></text>
<line x1="1112.5" y1="380" x2="1117.5" y2="380" stroke="#000" stroke-width="1"/>
<text x="1121" y="385">3.980×10<tspan dy="-5" font-size="9.8">7</tspan></text>
</svg>
</body></html>
